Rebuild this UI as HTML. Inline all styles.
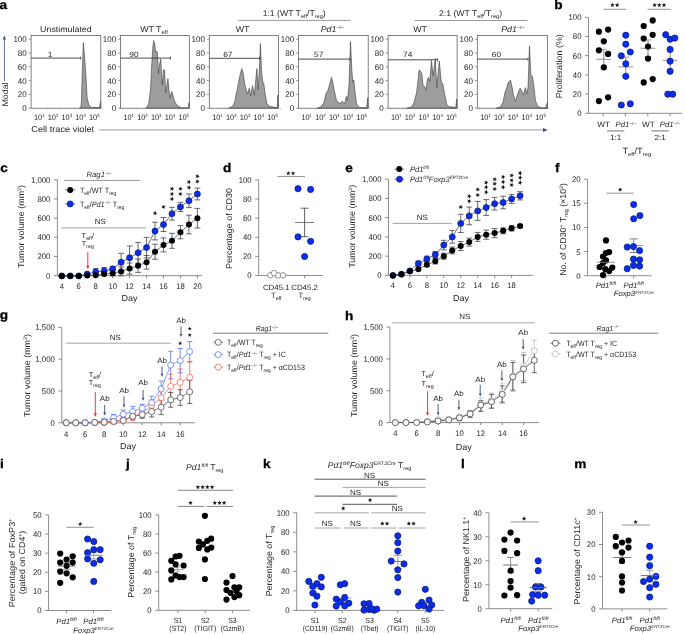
<!DOCTYPE html>
<html><head><meta charset="utf-8"><style>
html,body{margin:0;padding:0;background:#fff;width:685px;height:634px;overflow:hidden}
svg{display:block;will-change:transform}
text{font-family:"Liberation Sans", sans-serif;text-rendering:geometricPrecision}
</style></head><body>
<svg width="685" height="634" viewBox="0 0 685 634">
<text transform="translate(-0.40,9.00) scale(1.1,1)" x="0" y="0" font-size="12.4" fill="#000" font-weight="bold" stroke="#000" stroke-width="0.3">a</text>
<polygon points="79.50,108.10 80.80,107.70 81.40,102.60 82.40,69.80 83.30,42.70 84.60,57.20 85.90,76.10 87.10,97.60 88.80,105.10 91.50,107.40 99.60,107.60 100.60,101.50 100.80,108.20" fill="#9d9d9d" stroke="#3a3a3a" stroke-width="0.6" stroke-linejoin="round"/>
<rect x="31.10" y="35.4" width="69.70" height="72.80" fill="none" stroke="#5a5a5a" stroke-width="0.75"/>
<line x1="28.50" y1="108.20" x2="31.10" y2="108.20" stroke="#777" stroke-width="0.7"/>
<text transform="translate(26.80,108.20) scale(0.98,1)" x="0" y="2.95" font-size="8.2" text-anchor="end" fill="#262626" font-weight="normal" font-style="normal">0</text>
<line x1="28.50" y1="94.40" x2="31.10" y2="94.40" stroke="#777" stroke-width="0.7"/>
<text transform="translate(26.80,94.40) scale(0.98,1)" x="0" y="2.95" font-size="8.2" text-anchor="end" fill="#262626" font-weight="normal" font-style="normal">20</text>
<line x1="28.50" y1="80.60" x2="31.10" y2="80.60" stroke="#777" stroke-width="0.7"/>
<text transform="translate(26.80,80.60) scale(0.98,1)" x="0" y="2.95" font-size="8.2" text-anchor="end" fill="#262626" font-weight="normal" font-style="normal">40</text>
<line x1="28.50" y1="66.80" x2="31.10" y2="66.80" stroke="#777" stroke-width="0.7"/>
<text transform="translate(26.80,66.80) scale(0.98,1)" x="0" y="2.95" font-size="8.2" text-anchor="end" fill="#262626" font-weight="normal" font-style="normal">60</text>
<line x1="28.50" y1="53.00" x2="31.10" y2="53.00" stroke="#777" stroke-width="0.7"/>
<text transform="translate(26.80,53.00) scale(0.98,1)" x="0" y="2.95" font-size="8.2" text-anchor="end" fill="#262626" font-weight="normal" font-style="normal">80</text>
<line x1="28.50" y1="39.20" x2="31.10" y2="39.20" stroke="#777" stroke-width="0.7"/>
<text transform="translate(26.80,39.20) scale(0.98,1)" x="0" y="2.95" font-size="8.2" text-anchor="end" fill="#262626" font-weight="normal" font-style="normal">100</text>
<text transform="translate(34.00,117.00) scale(0.92,1)" x="0" y="2.88" font-size="8.0" text-anchor="start" fill="#262626" font-weight="normal" font-style="normal">10<tspan font-size="4.6" dy="-3.0">1</tspan></text>
<text transform="translate(47.75,117.00) scale(0.92,1)" x="0" y="2.88" font-size="8.0" text-anchor="start" fill="#262626" font-weight="normal" font-style="normal">10<tspan font-size="4.6" dy="-3.0">2</tspan></text>
<text transform="translate(61.50,117.00) scale(0.92,1)" x="0" y="2.88" font-size="8.0" text-anchor="start" fill="#262626" font-weight="normal" font-style="normal">10<tspan font-size="4.6" dy="-3.0">3</tspan></text>
<text transform="translate(75.25,117.00) scale(0.92,1)" x="0" y="2.88" font-size="8.0" text-anchor="start" fill="#262626" font-weight="normal" font-style="normal">10<tspan font-size="4.6" dy="-3.0">4</tspan></text>
<text transform="translate(89.00,117.00) scale(0.92,1)" x="0" y="2.88" font-size="8.0" text-anchor="start" fill="#262626" font-weight="normal" font-style="normal">10<tspan font-size="4.6" dy="-3.0">5</tspan></text>
<line x1="33.60" y1="108.20" x2="33.60" y2="109.40" stroke="#777" stroke-width="0.5"/>
<line x1="47.35" y1="108.20" x2="47.35" y2="109.40" stroke="#777" stroke-width="0.5"/>
<line x1="61.10" y1="108.20" x2="61.10" y2="109.40" stroke="#777" stroke-width="0.5"/>
<line x1="74.85" y1="108.20" x2="74.85" y2="109.40" stroke="#777" stroke-width="0.5"/>
<line x1="88.60" y1="108.20" x2="88.60" y2="109.40" stroke="#777" stroke-width="0.5"/>
<line x1="102.35" y1="108.20" x2="102.35" y2="109.40" stroke="#777" stroke-width="0.5"/>
<line x1="31.10" y1="58.10" x2="80.60" y2="58.10" stroke="#3a3a3a" stroke-width="0.9"/>
<line x1="80.60" y1="56.70" x2="80.60" y2="59.50" stroke="#3a3a3a" stroke-width="0.9"/>
<text transform="translate(50.00,54.00) scale(1.1,1)" x="0" y="2.74" font-size="7.6" text-anchor="middle" fill="#262626" font-weight="normal" font-style="normal">1</text>
<polygon points="145.50,108.20 147.00,107.60 148.90,102.70 150.60,88.80 151.80,63.60 152.70,48.40 153.70,40.60 154.90,44.60 155.60,52.20 156.50,50.90 157.40,52.20 158.40,73.70 159.70,63.60 160.70,59.10 161.60,73.70 162.40,85.00 163.50,69.90 164.50,69.90 165.70,92.60 167.90,78.70 169.10,91.30 170.00,98.30 171.70,91.30 172.90,95.10 174.20,100.20 176.10,104.00 178.60,106.50 181.10,107.80 188.50,107.90 189.10,102.50 189.30,108.20" fill="#9d9d9d" stroke="#3a3a3a" stroke-width="0.6" stroke-linejoin="round"/>
<rect x="120.50" y="35.4" width="68.80" height="72.80" fill="none" stroke="#5a5a5a" stroke-width="0.75"/>
<line x1="117.90" y1="108.20" x2="120.50" y2="108.20" stroke="#777" stroke-width="0.7"/>
<text transform="translate(116.20,108.20) scale(0.98,1)" x="0" y="2.95" font-size="8.2" text-anchor="end" fill="#262626" font-weight="normal" font-style="normal">0</text>
<line x1="117.90" y1="94.40" x2="120.50" y2="94.40" stroke="#777" stroke-width="0.7"/>
<text transform="translate(116.20,94.40) scale(0.98,1)" x="0" y="2.95" font-size="8.2" text-anchor="end" fill="#262626" font-weight="normal" font-style="normal">20</text>
<line x1="117.90" y1="80.60" x2="120.50" y2="80.60" stroke="#777" stroke-width="0.7"/>
<text transform="translate(116.20,80.60) scale(0.98,1)" x="0" y="2.95" font-size="8.2" text-anchor="end" fill="#262626" font-weight="normal" font-style="normal">40</text>
<line x1="117.90" y1="66.80" x2="120.50" y2="66.80" stroke="#777" stroke-width="0.7"/>
<text transform="translate(116.20,66.80) scale(0.98,1)" x="0" y="2.95" font-size="8.2" text-anchor="end" fill="#262626" font-weight="normal" font-style="normal">60</text>
<line x1="117.90" y1="53.00" x2="120.50" y2="53.00" stroke="#777" stroke-width="0.7"/>
<text transform="translate(116.20,53.00) scale(0.98,1)" x="0" y="2.95" font-size="8.2" text-anchor="end" fill="#262626" font-weight="normal" font-style="normal">80</text>
<line x1="117.90" y1="39.20" x2="120.50" y2="39.20" stroke="#777" stroke-width="0.7"/>
<text transform="translate(116.20,39.20) scale(0.98,1)" x="0" y="2.95" font-size="8.2" text-anchor="end" fill="#262626" font-weight="normal" font-style="normal">100</text>
<text transform="translate(123.40,117.00) scale(0.92,1)" x="0" y="2.88" font-size="8.0" text-anchor="start" fill="#262626" font-weight="normal" font-style="normal">10<tspan font-size="4.6" dy="-3.0">1</tspan></text>
<text transform="translate(137.15,117.00) scale(0.92,1)" x="0" y="2.88" font-size="8.0" text-anchor="start" fill="#262626" font-weight="normal" font-style="normal">10<tspan font-size="4.6" dy="-3.0">2</tspan></text>
<text transform="translate(150.90,117.00) scale(0.92,1)" x="0" y="2.88" font-size="8.0" text-anchor="start" fill="#262626" font-weight="normal" font-style="normal">10<tspan font-size="4.6" dy="-3.0">3</tspan></text>
<text transform="translate(164.65,117.00) scale(0.92,1)" x="0" y="2.88" font-size="8.0" text-anchor="start" fill="#262626" font-weight="normal" font-style="normal">10<tspan font-size="4.6" dy="-3.0">4</tspan></text>
<text transform="translate(178.40,117.00) scale(0.92,1)" x="0" y="2.88" font-size="8.0" text-anchor="start" fill="#262626" font-weight="normal" font-style="normal">10<tspan font-size="4.6" dy="-3.0">5</tspan></text>
<line x1="123.00" y1="108.20" x2="123.00" y2="109.40" stroke="#777" stroke-width="0.5"/>
<line x1="136.75" y1="108.20" x2="136.75" y2="109.40" stroke="#777" stroke-width="0.5"/>
<line x1="150.50" y1="108.20" x2="150.50" y2="109.40" stroke="#777" stroke-width="0.5"/>
<line x1="164.25" y1="108.20" x2="164.25" y2="109.40" stroke="#777" stroke-width="0.5"/>
<line x1="178.00" y1="108.20" x2="178.00" y2="109.40" stroke="#777" stroke-width="0.5"/>
<line x1="191.75" y1="108.20" x2="191.75" y2="109.40" stroke="#777" stroke-width="0.5"/>
<line x1="120.50" y1="58.10" x2="170.40" y2="58.10" stroke="#3a3a3a" stroke-width="0.9"/>
<line x1="170.40" y1="56.70" x2="170.40" y2="59.50" stroke="#3a3a3a" stroke-width="0.9"/>
<text transform="translate(134.00,54.10) scale(1.1,1)" x="0" y="2.74" font-size="7.6" text-anchor="middle" fill="#262626" font-weight="normal" font-style="normal">90</text>
<polygon points="228.50,108.20 229.70,107.80 232.90,105.90 234.80,101.40 237.30,88.80 239.80,76.20 241.70,68.60 243.00,72.40 244.90,85.00 247.40,93.90 249.30,88.20 250.60,95.80 252.50,85.70 254.30,95.10 256.90,68.60 258.10,90.10 259.40,69.90 260.40,43.40 261.50,69.90 262.60,81.20 263.80,83.80 265.30,95.10 267.00,104.00 270.10,106.50 273.90,107.10 277.10,107.80 277.90,95.10 278.40,108.20" fill="#9d9d9d" stroke="#3a3a3a" stroke-width="0.6" stroke-linejoin="round"/>
<rect x="209.30" y="35.4" width="69.10" height="72.80" fill="none" stroke="#5a5a5a" stroke-width="0.75"/>
<line x1="206.70" y1="108.20" x2="209.30" y2="108.20" stroke="#777" stroke-width="0.7"/>
<text transform="translate(205.00,108.20) scale(0.98,1)" x="0" y="2.95" font-size="8.2" text-anchor="end" fill="#262626" font-weight="normal" font-style="normal">0</text>
<line x1="206.70" y1="94.40" x2="209.30" y2="94.40" stroke="#777" stroke-width="0.7"/>
<text transform="translate(205.00,94.40) scale(0.98,1)" x="0" y="2.95" font-size="8.2" text-anchor="end" fill="#262626" font-weight="normal" font-style="normal">20</text>
<line x1="206.70" y1="80.60" x2="209.30" y2="80.60" stroke="#777" stroke-width="0.7"/>
<text transform="translate(205.00,80.60) scale(0.98,1)" x="0" y="2.95" font-size="8.2" text-anchor="end" fill="#262626" font-weight="normal" font-style="normal">40</text>
<line x1="206.70" y1="66.80" x2="209.30" y2="66.80" stroke="#777" stroke-width="0.7"/>
<text transform="translate(205.00,66.80) scale(0.98,1)" x="0" y="2.95" font-size="8.2" text-anchor="end" fill="#262626" font-weight="normal" font-style="normal">60</text>
<line x1="206.70" y1="53.00" x2="209.30" y2="53.00" stroke="#777" stroke-width="0.7"/>
<text transform="translate(205.00,53.00) scale(0.98,1)" x="0" y="2.95" font-size="8.2" text-anchor="end" fill="#262626" font-weight="normal" font-style="normal">80</text>
<line x1="206.70" y1="39.20" x2="209.30" y2="39.20" stroke="#777" stroke-width="0.7"/>
<text transform="translate(205.00,39.20) scale(0.98,1)" x="0" y="2.95" font-size="8.2" text-anchor="end" fill="#262626" font-weight="normal" font-style="normal">100</text>
<text transform="translate(212.20,117.00) scale(0.92,1)" x="0" y="2.88" font-size="8.0" text-anchor="start" fill="#262626" font-weight="normal" font-style="normal">10<tspan font-size="4.6" dy="-3.0">1</tspan></text>
<text transform="translate(225.95,117.00) scale(0.92,1)" x="0" y="2.88" font-size="8.0" text-anchor="start" fill="#262626" font-weight="normal" font-style="normal">10<tspan font-size="4.6" dy="-3.0">2</tspan></text>
<text transform="translate(239.70,117.00) scale(0.92,1)" x="0" y="2.88" font-size="8.0" text-anchor="start" fill="#262626" font-weight="normal" font-style="normal">10<tspan font-size="4.6" dy="-3.0">3</tspan></text>
<text transform="translate(253.45,117.00) scale(0.92,1)" x="0" y="2.88" font-size="8.0" text-anchor="start" fill="#262626" font-weight="normal" font-style="normal">10<tspan font-size="4.6" dy="-3.0">4</tspan></text>
<text transform="translate(267.20,117.00) scale(0.92,1)" x="0" y="2.88" font-size="8.0" text-anchor="start" fill="#262626" font-weight="normal" font-style="normal">10<tspan font-size="4.6" dy="-3.0">5</tspan></text>
<line x1="211.80" y1="108.20" x2="211.80" y2="109.40" stroke="#777" stroke-width="0.5"/>
<line x1="225.55" y1="108.20" x2="225.55" y2="109.40" stroke="#777" stroke-width="0.5"/>
<line x1="239.30" y1="108.20" x2="239.30" y2="109.40" stroke="#777" stroke-width="0.5"/>
<line x1="253.05" y1="108.20" x2="253.05" y2="109.40" stroke="#777" stroke-width="0.5"/>
<line x1="266.80" y1="108.20" x2="266.80" y2="109.40" stroke="#777" stroke-width="0.5"/>
<line x1="280.55" y1="108.20" x2="280.55" y2="109.40" stroke="#777" stroke-width="0.5"/>
<line x1="209.30" y1="58.30" x2="259.80" y2="58.30" stroke="#3a3a3a" stroke-width="0.9"/>
<line x1="259.80" y1="56.90" x2="259.80" y2="59.70" stroke="#3a3a3a" stroke-width="0.9"/>
<text transform="translate(227.80,54.30) scale(1.1,1)" x="0" y="2.74" font-size="7.6" text-anchor="middle" fill="#262626" font-weight="normal" font-style="normal">67</text>
<polygon points="317.00,108.20 318.10,108.00 321.30,106.50 323.80,102.70 326.30,92.60 327.80,90.70 329.50,85.00 331.40,77.50 332.60,81.20 333.90,88.80 336.40,100.20 339.60,104.00 342.10,101.20 344.60,104.00 346.30,96.40 347.50,100.20 349.00,85.00 350.50,41.50 351.80,69.90 352.80,82.50 353.80,80.00 355.10,92.60 356.60,104.00 359.10,107.50 366.70,107.80 367.80,97.70 368.20,108.20" fill="#9d9d9d" stroke="#3a3a3a" stroke-width="0.6" stroke-linejoin="round"/>
<rect x="298.50" y="35.4" width="69.70" height="72.80" fill="none" stroke="#5a5a5a" stroke-width="0.75"/>
<line x1="295.90" y1="108.20" x2="298.50" y2="108.20" stroke="#777" stroke-width="0.7"/>
<text transform="translate(294.20,108.20) scale(0.98,1)" x="0" y="2.95" font-size="8.2" text-anchor="end" fill="#262626" font-weight="normal" font-style="normal">0</text>
<line x1="295.90" y1="94.40" x2="298.50" y2="94.40" stroke="#777" stroke-width="0.7"/>
<text transform="translate(294.20,94.40) scale(0.98,1)" x="0" y="2.95" font-size="8.2" text-anchor="end" fill="#262626" font-weight="normal" font-style="normal">20</text>
<line x1="295.90" y1="80.60" x2="298.50" y2="80.60" stroke="#777" stroke-width="0.7"/>
<text transform="translate(294.20,80.60) scale(0.98,1)" x="0" y="2.95" font-size="8.2" text-anchor="end" fill="#262626" font-weight="normal" font-style="normal">40</text>
<line x1="295.90" y1="66.80" x2="298.50" y2="66.80" stroke="#777" stroke-width="0.7"/>
<text transform="translate(294.20,66.80) scale(0.98,1)" x="0" y="2.95" font-size="8.2" text-anchor="end" fill="#262626" font-weight="normal" font-style="normal">60</text>
<line x1="295.90" y1="53.00" x2="298.50" y2="53.00" stroke="#777" stroke-width="0.7"/>
<text transform="translate(294.20,53.00) scale(0.98,1)" x="0" y="2.95" font-size="8.2" text-anchor="end" fill="#262626" font-weight="normal" font-style="normal">80</text>
<line x1="295.90" y1="39.20" x2="298.50" y2="39.20" stroke="#777" stroke-width="0.7"/>
<text transform="translate(294.20,39.20) scale(0.98,1)" x="0" y="2.95" font-size="8.2" text-anchor="end" fill="#262626" font-weight="normal" font-style="normal">100</text>
<text transform="translate(301.40,117.00) scale(0.92,1)" x="0" y="2.88" font-size="8.0" text-anchor="start" fill="#262626" font-weight="normal" font-style="normal">10<tspan font-size="4.6" dy="-3.0">1</tspan></text>
<text transform="translate(315.15,117.00) scale(0.92,1)" x="0" y="2.88" font-size="8.0" text-anchor="start" fill="#262626" font-weight="normal" font-style="normal">10<tspan font-size="4.6" dy="-3.0">2</tspan></text>
<text transform="translate(328.90,117.00) scale(0.92,1)" x="0" y="2.88" font-size="8.0" text-anchor="start" fill="#262626" font-weight="normal" font-style="normal">10<tspan font-size="4.6" dy="-3.0">3</tspan></text>
<text transform="translate(342.65,117.00) scale(0.92,1)" x="0" y="2.88" font-size="8.0" text-anchor="start" fill="#262626" font-weight="normal" font-style="normal">10<tspan font-size="4.6" dy="-3.0">4</tspan></text>
<text transform="translate(356.40,117.00) scale(0.92,1)" x="0" y="2.88" font-size="8.0" text-anchor="start" fill="#262626" font-weight="normal" font-style="normal">10<tspan font-size="4.6" dy="-3.0">5</tspan></text>
<line x1="301.00" y1="108.20" x2="301.00" y2="109.40" stroke="#777" stroke-width="0.5"/>
<line x1="314.75" y1="108.20" x2="314.75" y2="109.40" stroke="#777" stroke-width="0.5"/>
<line x1="328.50" y1="108.20" x2="328.50" y2="109.40" stroke="#777" stroke-width="0.5"/>
<line x1="342.25" y1="108.20" x2="342.25" y2="109.40" stroke="#777" stroke-width="0.5"/>
<line x1="356.00" y1="108.20" x2="356.00" y2="109.40" stroke="#777" stroke-width="0.5"/>
<line x1="369.75" y1="108.20" x2="369.75" y2="109.40" stroke="#777" stroke-width="0.5"/>
<line x1="298.50" y1="59.10" x2="350.00" y2="59.10" stroke="#3a3a3a" stroke-width="0.9"/>
<line x1="350.00" y1="57.70" x2="350.00" y2="60.50" stroke="#3a3a3a" stroke-width="0.9"/>
<text transform="translate(318.70,54.70) scale(1.1,1)" x="0" y="2.74" font-size="7.6" text-anchor="middle" fill="#262626" font-weight="normal" font-style="normal">57</text>
<polygon points="406.50,108.20 407.70,108.00 411.50,107.10 414.00,102.70 416.60,92.60 418.10,80.00 419.10,69.90 420.40,71.10 421.90,73.70 422.90,85.00 424.40,86.30 426.00,89.90 427.30,80.00 428.60,77.50 429.80,81.20 431.50,60.40 433.00,76.20 435.30,58.50 436.80,87.60 439.30,61.00 441.20,81.20 442.80,83.80 444.30,92.60 446.90,105.20 449.40,106.70 453.20,107.10 455.70,107.80 456.80,98.90 457.10,108.20" fill="#9d9d9d" stroke="#3a3a3a" stroke-width="0.6" stroke-linejoin="round"/>
<rect x="388.10" y="35.4" width="69.00" height="72.80" fill="none" stroke="#5a5a5a" stroke-width="0.75"/>
<line x1="385.50" y1="108.20" x2="388.10" y2="108.20" stroke="#777" stroke-width="0.7"/>
<text transform="translate(383.80,108.20) scale(0.98,1)" x="0" y="2.95" font-size="8.2" text-anchor="end" fill="#262626" font-weight="normal" font-style="normal">0</text>
<line x1="385.50" y1="94.40" x2="388.10" y2="94.40" stroke="#777" stroke-width="0.7"/>
<text transform="translate(383.80,94.40) scale(0.98,1)" x="0" y="2.95" font-size="8.2" text-anchor="end" fill="#262626" font-weight="normal" font-style="normal">20</text>
<line x1="385.50" y1="80.60" x2="388.10" y2="80.60" stroke="#777" stroke-width="0.7"/>
<text transform="translate(383.80,80.60) scale(0.98,1)" x="0" y="2.95" font-size="8.2" text-anchor="end" fill="#262626" font-weight="normal" font-style="normal">40</text>
<line x1="385.50" y1="66.80" x2="388.10" y2="66.80" stroke="#777" stroke-width="0.7"/>
<text transform="translate(383.80,66.80) scale(0.98,1)" x="0" y="2.95" font-size="8.2" text-anchor="end" fill="#262626" font-weight="normal" font-style="normal">60</text>
<line x1="385.50" y1="53.00" x2="388.10" y2="53.00" stroke="#777" stroke-width="0.7"/>
<text transform="translate(383.80,53.00) scale(0.98,1)" x="0" y="2.95" font-size="8.2" text-anchor="end" fill="#262626" font-weight="normal" font-style="normal">80</text>
<line x1="385.50" y1="39.20" x2="388.10" y2="39.20" stroke="#777" stroke-width="0.7"/>
<text transform="translate(383.80,39.20) scale(0.98,1)" x="0" y="2.95" font-size="8.2" text-anchor="end" fill="#262626" font-weight="normal" font-style="normal">100</text>
<text transform="translate(391.00,117.00) scale(0.92,1)" x="0" y="2.88" font-size="8.0" text-anchor="start" fill="#262626" font-weight="normal" font-style="normal">10<tspan font-size="4.6" dy="-3.0">1</tspan></text>
<text transform="translate(404.75,117.00) scale(0.92,1)" x="0" y="2.88" font-size="8.0" text-anchor="start" fill="#262626" font-weight="normal" font-style="normal">10<tspan font-size="4.6" dy="-3.0">2</tspan></text>
<text transform="translate(418.50,117.00) scale(0.92,1)" x="0" y="2.88" font-size="8.0" text-anchor="start" fill="#262626" font-weight="normal" font-style="normal">10<tspan font-size="4.6" dy="-3.0">3</tspan></text>
<text transform="translate(432.25,117.00) scale(0.92,1)" x="0" y="2.88" font-size="8.0" text-anchor="start" fill="#262626" font-weight="normal" font-style="normal">10<tspan font-size="4.6" dy="-3.0">4</tspan></text>
<text transform="translate(446.00,117.00) scale(0.92,1)" x="0" y="2.88" font-size="8.0" text-anchor="start" fill="#262626" font-weight="normal" font-style="normal">10<tspan font-size="4.6" dy="-3.0">5</tspan></text>
<line x1="390.60" y1="108.20" x2="390.60" y2="109.40" stroke="#777" stroke-width="0.5"/>
<line x1="404.35" y1="108.20" x2="404.35" y2="109.40" stroke="#777" stroke-width="0.5"/>
<line x1="418.10" y1="108.20" x2="418.10" y2="109.40" stroke="#777" stroke-width="0.5"/>
<line x1="431.85" y1="108.20" x2="431.85" y2="109.40" stroke="#777" stroke-width="0.5"/>
<line x1="445.60" y1="108.20" x2="445.60" y2="109.40" stroke="#777" stroke-width="0.5"/>
<line x1="459.35" y1="108.20" x2="459.35" y2="109.40" stroke="#777" stroke-width="0.5"/>
<line x1="388.10" y1="59.80" x2="437.40" y2="59.80" stroke="#3a3a3a" stroke-width="0.9"/>
<line x1="437.40" y1="58.40" x2="437.40" y2="61.20" stroke="#3a3a3a" stroke-width="0.9"/>
<text transform="translate(407.70,54.70) scale(1.1,1)" x="0" y="2.74" font-size="7.6" text-anchor="middle" fill="#262626" font-weight="normal" font-style="normal">74</text>
<polygon points="496.00,108.20 497.10,108.00 500.30,107.10 502.80,102.70 505.30,91.30 506.80,87.60 508.10,82.50 509.10,81.90 510.40,80.00 511.90,86.30 513.50,95.10 515.40,101.40 517.30,95.10 519.20,90.10 520.20,88.20 522.00,91.30 523.60,95.10 525.30,87.60 526.80,93.90 528.00,87.60 529.50,45.90 530.80,74.90 532.40,76.20 533.70,85.00 535.40,100.20 537.50,106.50 541.90,107.80 545.70,108.00 547.30,102.70 547.60,108.20" fill="#9d9d9d" stroke="#3a3a3a" stroke-width="0.6" stroke-linejoin="round"/>
<rect x="477.30" y="35.4" width="70.30" height="72.80" fill="none" stroke="#5a5a5a" stroke-width="0.75"/>
<line x1="474.70" y1="108.20" x2="477.30" y2="108.20" stroke="#777" stroke-width="0.7"/>
<text transform="translate(473.00,108.20) scale(0.98,1)" x="0" y="2.95" font-size="8.2" text-anchor="end" fill="#262626" font-weight="normal" font-style="normal">0</text>
<line x1="474.70" y1="94.40" x2="477.30" y2="94.40" stroke="#777" stroke-width="0.7"/>
<text transform="translate(473.00,94.40) scale(0.98,1)" x="0" y="2.95" font-size="8.2" text-anchor="end" fill="#262626" font-weight="normal" font-style="normal">20</text>
<line x1="474.70" y1="80.60" x2="477.30" y2="80.60" stroke="#777" stroke-width="0.7"/>
<text transform="translate(473.00,80.60) scale(0.98,1)" x="0" y="2.95" font-size="8.2" text-anchor="end" fill="#262626" font-weight="normal" font-style="normal">40</text>
<line x1="474.70" y1="66.80" x2="477.30" y2="66.80" stroke="#777" stroke-width="0.7"/>
<text transform="translate(473.00,66.80) scale(0.98,1)" x="0" y="2.95" font-size="8.2" text-anchor="end" fill="#262626" font-weight="normal" font-style="normal">60</text>
<line x1="474.70" y1="53.00" x2="477.30" y2="53.00" stroke="#777" stroke-width="0.7"/>
<text transform="translate(473.00,53.00) scale(0.98,1)" x="0" y="2.95" font-size="8.2" text-anchor="end" fill="#262626" font-weight="normal" font-style="normal">80</text>
<line x1="474.70" y1="39.20" x2="477.30" y2="39.20" stroke="#777" stroke-width="0.7"/>
<text transform="translate(473.00,39.20) scale(0.98,1)" x="0" y="2.95" font-size="8.2" text-anchor="end" fill="#262626" font-weight="normal" font-style="normal">100</text>
<text transform="translate(480.20,117.00) scale(0.92,1)" x="0" y="2.88" font-size="8.0" text-anchor="start" fill="#262626" font-weight="normal" font-style="normal">10<tspan font-size="4.6" dy="-3.0">1</tspan></text>
<text transform="translate(493.95,117.00) scale(0.92,1)" x="0" y="2.88" font-size="8.0" text-anchor="start" fill="#262626" font-weight="normal" font-style="normal">10<tspan font-size="4.6" dy="-3.0">2</tspan></text>
<text transform="translate(507.70,117.00) scale(0.92,1)" x="0" y="2.88" font-size="8.0" text-anchor="start" fill="#262626" font-weight="normal" font-style="normal">10<tspan font-size="4.6" dy="-3.0">3</tspan></text>
<text transform="translate(521.45,117.00) scale(0.92,1)" x="0" y="2.88" font-size="8.0" text-anchor="start" fill="#262626" font-weight="normal" font-style="normal">10<tspan font-size="4.6" dy="-3.0">4</tspan></text>
<text transform="translate(535.20,117.00) scale(0.92,1)" x="0" y="2.88" font-size="8.0" text-anchor="start" fill="#262626" font-weight="normal" font-style="normal">10<tspan font-size="4.6" dy="-3.0">5</tspan></text>
<line x1="479.80" y1="108.20" x2="479.80" y2="109.40" stroke="#777" stroke-width="0.5"/>
<line x1="493.55" y1="108.20" x2="493.55" y2="109.40" stroke="#777" stroke-width="0.5"/>
<line x1="507.30" y1="108.20" x2="507.30" y2="109.40" stroke="#777" stroke-width="0.5"/>
<line x1="521.05" y1="108.20" x2="521.05" y2="109.40" stroke="#777" stroke-width="0.5"/>
<line x1="534.80" y1="108.20" x2="534.80" y2="109.40" stroke="#777" stroke-width="0.5"/>
<line x1="548.55" y1="108.20" x2="548.55" y2="109.40" stroke="#777" stroke-width="0.5"/>
<line x1="477.30" y1="59.10" x2="528.00" y2="59.10" stroke="#3a3a3a" stroke-width="0.9"/>
<line x1="528.00" y1="57.70" x2="528.00" y2="60.50" stroke="#3a3a3a" stroke-width="0.9"/>
<text transform="translate(496.50,54.70) scale(1.1,1)" x="0" y="2.74" font-size="7.6" text-anchor="middle" fill="#262626" font-weight="normal" font-style="normal">60</text>
<text transform="translate(65.90,28.60) scale(1.08,1)" x="0" y="2.95" font-size="8.2" text-anchor="middle" fill="#262626" font-weight="normal" font-style="normal">Unstimulated</text>
<text transform="translate(154.00,28.60) scale(1.08,1)" x="0" y="2.95" font-size="8.2" text-anchor="middle" fill="#262626" font-weight="normal" font-style="normal">WT T<tspan font-size="5.3" dy="2.0">eff</tspan></text>
<text transform="translate(242.50,28.60) scale(1.08,1)" x="0" y="2.95" font-size="8.2" text-anchor="middle" fill="#262626" font-weight="normal" font-style="normal">WT</text>
<text transform="translate(332.50,28.60) scale(1.08,1)" x="0" y="2.95" font-size="8.2" text-anchor="middle" fill="#262626" font-weight="normal" font-style="normal"><tspan font-style="italic">Pd1</tspan><tspan font-size="5" dy="-2.8">−/−</tspan></text>
<text transform="translate(420.00,28.60) scale(1.08,1)" x="0" y="2.95" font-size="8.2" text-anchor="middle" fill="#262626" font-weight="normal" font-style="normal">WT</text>
<text transform="translate(513.00,28.60) scale(1.08,1)" x="0" y="2.95" font-size="8.2" text-anchor="middle" fill="#262626" font-weight="normal" font-style="normal"><tspan font-style="italic">Pd1</tspan><tspan font-size="5" dy="-2.8">−/−</tspan></text>
<text transform="translate(294.20,12.80) scale(1.06,1)" x="0" y="2.95" font-size="8.2" text-anchor="middle" fill="#262626" font-weight="normal" font-style="normal">1:1 (WT T<tspan font-size="5.3" dy="2.0">eff</tspan><tspan dy="-2.0">/T</tspan><tspan font-size="5.3" dy="2.0">reg</tspan><tspan dy="-2.0">)</tspan></text>
<text transform="translate(470.50,12.80) scale(1.06,1)" x="0" y="2.95" font-size="8.2" text-anchor="middle" fill="#262626" font-weight="normal" font-style="normal">2:1 (WT T<tspan font-size="5.3" dy="2.0">eff</tspan><tspan dy="-2.0">/T</tspan><tspan font-size="5.3" dy="2.0">reg</tspan><tspan dy="-2.0">)</tspan></text>
<line x1="238.30" y1="20.40" x2="350.70" y2="20.40" stroke="#9a9a9a" stroke-width="1.0"/>
<line x1="414.50" y1="20.50" x2="527.30" y2="20.50" stroke="#9a9a9a" stroke-width="1.0"/>
<line x1="4.40" y1="81.00" x2="4.40" y2="38.50" stroke="#4a5e80" stroke-width="0.9"/>
<polygon points="2.9,39.5 5.9,39.5 4.4,35.3" fill="#3a4e70"/>
<text transform="translate(5.20,94.50) rotate(-90) scale(1.06,1)" x="0" y="3.02" font-size="8.4" text-anchor="middle" fill="#262626" font-weight="normal" font-style="normal">Modal</text>
<text transform="translate(31.30,129.20) scale(1.07,1)" x="0" y="3.10" font-size="8.6" text-anchor="start" fill="#262626" font-weight="normal" font-style="normal">Cell trace violet</text>
<line x1="99.30" y1="129.80" x2="544.00" y2="129.80" stroke="#a8b2c2" stroke-width="1.2"/>
<polygon points="543.0,127.9 543.0,131.9 547.6,129.9" fill="#3a4e70"/>
<text transform="translate(554.20,9.10) scale(1.1,1)" x="0" y="0" font-size="12.4" fill="#000" font-weight="bold" stroke="#000" stroke-width="0.3">b</text>
<line x1="588.50" y1="17.30" x2="588.50" y2="113.30" stroke="#707070" stroke-width="0.8"/>
<line x1="585.00" y1="113.30" x2="588.50" y2="113.30" stroke="#707070" stroke-width="0.8"/>
<text transform="translate(581.50,113.30) scale(0.95,1)" x="0" y="2.95" font-size="8.2" text-anchor="end" fill="#262626" font-weight="normal" font-style="normal">0</text>
<line x1="585.00" y1="94.10" x2="588.50" y2="94.10" stroke="#707070" stroke-width="0.8"/>
<text transform="translate(581.50,94.10) scale(0.95,1)" x="0" y="2.95" font-size="8.2" text-anchor="end" fill="#262626" font-weight="normal" font-style="normal">20</text>
<line x1="585.00" y1="74.90" x2="588.50" y2="74.90" stroke="#707070" stroke-width="0.8"/>
<text transform="translate(581.50,74.90) scale(0.95,1)" x="0" y="2.95" font-size="8.2" text-anchor="end" fill="#262626" font-weight="normal" font-style="normal">40</text>
<line x1="585.00" y1="55.70" x2="588.50" y2="55.70" stroke="#707070" stroke-width="0.8"/>
<text transform="translate(581.50,55.70) scale(0.95,1)" x="0" y="2.95" font-size="8.2" text-anchor="end" fill="#262626" font-weight="normal" font-style="normal">60</text>
<line x1="585.00" y1="36.50" x2="588.50" y2="36.50" stroke="#707070" stroke-width="0.8"/>
<text transform="translate(581.50,36.50) scale(0.95,1)" x="0" y="2.95" font-size="8.2" text-anchor="end" fill="#262626" font-weight="normal" font-style="normal">80</text>
<line x1="585.00" y1="17.30" x2="588.50" y2="17.30" stroke="#707070" stroke-width="0.8"/>
<text transform="translate(581.50,17.30) scale(0.95,1)" x="0" y="2.95" font-size="8.2" text-anchor="end" fill="#262626" font-weight="normal" font-style="normal">100</text>
<line x1="588.50" y1="113.30" x2="682.20" y2="113.30" stroke="#707070" stroke-width="0.8"/>
<line x1="603.20" y1="113.30" x2="603.20" y2="116.30" stroke="#707070" stroke-width="0.8"/>
<line x1="625.50" y1="113.30" x2="625.50" y2="116.30" stroke="#707070" stroke-width="0.8"/>
<line x1="647.80" y1="113.30" x2="647.80" y2="116.30" stroke="#707070" stroke-width="0.8"/>
<line x1="670.10" y1="113.30" x2="670.10" y2="116.30" stroke="#707070" stroke-width="0.8"/>
<line x1="596.40" y1="59.30" x2="611.20" y2="59.30" stroke="#8a8a8a" stroke-width="0.9"/>
<line x1="603.80" y1="49.40" x2="603.80" y2="69.20" stroke="#555" stroke-width="0.7"/>
<line x1="600.50" y1="49.40" x2="607.10" y2="49.40" stroke="#8a8a8a" stroke-width="0.8"/>
<line x1="600.50" y1="69.20" x2="607.10" y2="69.20" stroke="#8a8a8a" stroke-width="0.8"/>
<line x1="618.40" y1="66.90" x2="633.20" y2="66.90" stroke="#8a8a8a" stroke-width="0.9"/>
<line x1="625.80" y1="57.20" x2="625.80" y2="76.60" stroke="#555" stroke-width="0.7"/>
<line x1="622.50" y1="57.20" x2="629.10" y2="57.20" stroke="#8a8a8a" stroke-width="0.8"/>
<line x1="622.50" y1="76.60" x2="629.10" y2="76.60" stroke="#8a8a8a" stroke-width="0.8"/>
<line x1="640.60" y1="48.20" x2="655.40" y2="48.20" stroke="#8a8a8a" stroke-width="0.9"/>
<line x1="648.00" y1="39.90" x2="648.00" y2="56.50" stroke="#555" stroke-width="0.7"/>
<line x1="644.70" y1="39.90" x2="651.30" y2="39.90" stroke="#8a8a8a" stroke-width="0.8"/>
<line x1="644.70" y1="56.50" x2="651.30" y2="56.50" stroke="#8a8a8a" stroke-width="0.8"/>
<line x1="662.70" y1="60.30" x2="677.50" y2="60.30" stroke="#8a8a8a" stroke-width="0.9"/>
<line x1="670.10" y1="51.30" x2="670.10" y2="69.30" stroke="#555" stroke-width="0.7"/>
<line x1="666.80" y1="51.30" x2="673.40" y2="51.30" stroke="#8a8a8a" stroke-width="0.8"/>
<line x1="666.80" y1="69.30" x2="673.40" y2="69.30" stroke="#8a8a8a" stroke-width="0.8"/>
<circle cx="598.90" cy="31.70" r="3.1" fill="#000"/>
<circle cx="608.10" cy="29.60" r="3.1" fill="#000"/>
<circle cx="603.80" cy="41.30" r="3.1" fill="#000"/>
<circle cx="598.90" cy="50.30" r="3.1" fill="#000"/>
<circle cx="608.10" cy="53.90" r="3.1" fill="#000"/>
<circle cx="603.80" cy="67.30" r="3.1" fill="#000"/>
<circle cx="598.90" cy="101.10" r="3.1" fill="#000"/>
<circle cx="608.10" cy="97.30" r="3.1" fill="#000"/>
<circle cx="643.70" cy="26.00" r="3.1" fill="#000"/>
<circle cx="652.70" cy="20.40" r="3.1" fill="#000"/>
<circle cx="643.70" cy="38.60" r="3.1" fill="#000"/>
<circle cx="652.70" cy="34.80" r="3.1" fill="#000"/>
<circle cx="648.00" cy="46.50" r="3.1" fill="#000"/>
<circle cx="648.00" cy="58.60" r="3.1" fill="#000"/>
<circle cx="643.70" cy="82.40" r="3.1" fill="#000"/>
<circle cx="652.70" cy="79.10" r="3.1" fill="#000"/>
<circle cx="625.80" cy="35.20" r="3.1" fill="#0a2df2" stroke="#0b1a6e" stroke-width="0.75"/>
<circle cx="625.80" cy="44.20" r="3.1" fill="#0a2df2" stroke="#0b1a6e" stroke-width="0.75"/>
<circle cx="630.30" cy="52.00" r="3.1" fill="#0a2df2" stroke="#0b1a6e" stroke-width="0.75"/>
<circle cx="621.30" cy="55.80" r="3.1" fill="#0a2df2" stroke="#0b1a6e" stroke-width="0.75"/>
<circle cx="625.80" cy="63.80" r="3.1" fill="#0a2df2" stroke="#0b1a6e" stroke-width="0.75"/>
<circle cx="625.80" cy="76.30" r="3.1" fill="#0a2df2" stroke="#0b1a6e" stroke-width="0.75"/>
<circle cx="621.30" cy="105.00" r="3.1" fill="#0a2df2" stroke="#0b1a6e" stroke-width="0.75"/>
<circle cx="630.30" cy="103.80" r="3.1" fill="#0a2df2" stroke="#0b1a6e" stroke-width="0.75"/>
<circle cx="665.70" cy="34.70" r="3.1" fill="#0a2df2" stroke="#0b1a6e" stroke-width="0.75"/>
<circle cx="670.10" cy="39.20" r="3.1" fill="#0a2df2" stroke="#0b1a6e" stroke-width="0.75"/>
<circle cx="674.80" cy="38.10" r="3.1" fill="#0a2df2" stroke="#0b1a6e" stroke-width="0.75"/>
<circle cx="670.10" cy="49.40" r="3.1" fill="#0a2df2" stroke="#0b1a6e" stroke-width="0.75"/>
<circle cx="670.10" cy="61.20" r="3.1" fill="#0a2df2" stroke="#0b1a6e" stroke-width="0.75"/>
<circle cx="670.10" cy="71.30" r="3.1" fill="#0a2df2" stroke="#0b1a6e" stroke-width="0.75"/>
<circle cx="667.80" cy="94.20" r="3.1" fill="#0a2df2" stroke="#0b1a6e" stroke-width="0.75"/>
<circle cx="672.70" cy="94.20" r="3.1" fill="#0a2df2" stroke="#0b1a6e" stroke-width="0.75"/>
<line x1="603.50" y1="9.30" x2="626.20" y2="9.30" stroke="#888" stroke-width="0.9"/>
<line x1="647.60" y1="9.30" x2="670.80" y2="9.30" stroke="#888" stroke-width="0.9"/>
<polygon points="612.45,2.75 613.06,4.26 614.68,4.37 613.43,5.42 613.83,7.00 612.45,6.13 611.07,7.00 611.47,5.42 610.22,4.37 611.84,4.26" fill="#1a1a1a"/>
<polygon points="617.15,2.75 617.76,4.26 619.38,4.37 618.13,5.42 618.53,7.00 617.15,6.13 615.77,7.00 616.17,5.42 614.92,4.37 616.54,4.26" fill="#1a1a1a"/>
<polygon points="654.60,2.75 655.21,4.26 656.83,4.37 655.58,5.42 655.98,7.00 654.60,6.13 653.22,7.00 653.62,5.42 652.37,4.37 653.99,4.26" fill="#1a1a1a"/>
<polygon points="659.30,2.75 659.91,4.26 661.53,4.37 660.28,5.42 660.68,7.00 659.30,6.13 657.92,7.00 658.32,5.42 657.07,4.37 658.69,4.26" fill="#1a1a1a"/>
<polygon points="664.00,2.75 664.61,4.26 666.23,4.37 664.98,5.42 665.38,7.00 664.00,6.13 662.62,7.00 663.02,5.42 661.77,4.37 663.39,4.26" fill="#1a1a1a"/>
<text transform="translate(603.70,124.70) scale(1.08,1)" x="0" y="2.74" font-size="7.6" text-anchor="middle" fill="#262626" font-weight="normal" font-style="normal">WT</text>
<text transform="translate(625.80,124.70) scale(1.02,1)" x="0" y="2.74" font-size="7.6" text-anchor="middle" fill="#262626" font-weight="normal" font-style="normal"><tspan font-style="italic">Pd1</tspan><tspan font-size="4.6" dy="-2.6">−/−</tspan></text>
<text transform="translate(648.30,124.70) scale(1.08,1)" x="0" y="2.74" font-size="7.6" text-anchor="middle" fill="#262626" font-weight="normal" font-style="normal">WT</text>
<text transform="translate(670.00,124.70) scale(1.02,1)" x="0" y="2.74" font-size="7.6" text-anchor="middle" fill="#262626" font-weight="normal" font-style="normal"><tspan font-style="italic">Pd1</tspan><tspan font-size="4.6" dy="-2.6">−/−</tspan></text>
<line x1="607.00" y1="130.90" x2="624.30" y2="130.90" stroke="#a8a8a8" stroke-width="1.6"/>
<line x1="651.30" y1="130.90" x2="668.70" y2="130.90" stroke="#a8a8a8" stroke-width="1.6"/>
<text transform="translate(615.60,137.40) scale(1.08,1)" x="0" y="2.74" font-size="7.6" text-anchor="middle" fill="#262626" font-weight="normal" font-style="normal">1:1</text>
<text transform="translate(660.10,137.40) scale(1.08,1)" x="0" y="2.74" font-size="7.6" text-anchor="middle" fill="#262626" font-weight="normal" font-style="normal">2:1</text>
<text transform="translate(636.80,150.60) scale(1.04,1)" x="0" y="3.24" font-size="9.0" text-anchor="middle" fill="#262626" font-weight="normal" font-style="normal">T<tspan font-size="5.6" dy="2.0">eff</tspan><tspan dy="-2.0">/T</tspan><tspan font-size="5.6" dy="2.0">reg</tspan></text>
<text transform="translate(559.30,66.20) rotate(-90) scale(1.04,1)" x="0" y="3.10" font-size="8.6" text-anchor="middle" fill="#262626" font-weight="normal" font-style="normal">Proliferation (%)</text>
<text transform="translate(0.20,172.00) scale(1.1,1)" x="0" y="0" font-size="12.4" fill="#000" font-weight="bold" stroke="#000" stroke-width="0.3">c</text>
<line x1="57.40" y1="179.80" x2="57.40" y2="275.70" stroke="#707070" stroke-width="0.8"/>
<line x1="53.90" y1="275.70" x2="57.40" y2="275.70" stroke="#707070" stroke-width="0.8"/>
<text transform="translate(50.40,275.70) scale(0.95,1)" x="0" y="2.95" font-size="8.2" text-anchor="end" fill="#262626" font-weight="normal" font-style="normal">0</text>
<line x1="53.90" y1="256.52" x2="57.40" y2="256.52" stroke="#707070" stroke-width="0.8"/>
<text transform="translate(50.40,256.52) scale(0.95,1)" x="0" y="2.95" font-size="8.2" text-anchor="end" fill="#262626" font-weight="normal" font-style="normal">200</text>
<line x1="53.90" y1="237.34" x2="57.40" y2="237.34" stroke="#707070" stroke-width="0.8"/>
<text transform="translate(50.40,237.34) scale(0.95,1)" x="0" y="2.95" font-size="8.2" text-anchor="end" fill="#262626" font-weight="normal" font-style="normal">400</text>
<line x1="53.90" y1="218.16" x2="57.40" y2="218.16" stroke="#707070" stroke-width="0.8"/>
<text transform="translate(50.40,218.16) scale(0.95,1)" x="0" y="2.95" font-size="8.2" text-anchor="end" fill="#262626" font-weight="normal" font-style="normal">600</text>
<line x1="53.90" y1="198.98" x2="57.40" y2="198.98" stroke="#707070" stroke-width="0.8"/>
<text transform="translate(50.40,198.98) scale(0.95,1)" x="0" y="2.95" font-size="8.2" text-anchor="end" fill="#262626" font-weight="normal" font-style="normal">800</text>
<line x1="53.90" y1="179.80" x2="57.40" y2="179.80" stroke="#707070" stroke-width="0.8"/>
<text transform="translate(50.40,179.80) scale(0.95,1)" x="0" y="2.95" font-size="8.2" text-anchor="end" fill="#262626" font-weight="normal" font-style="normal">1,000</text>
<line x1="57.40" y1="275.70" x2="202.10" y2="275.70" stroke="#707070" stroke-width="0.8"/>
<line x1="61.80" y1="275.70" x2="61.80" y2="278.30" stroke="#707070" stroke-width="0.8"/>
<text transform="translate(61.80,286.50) scale(0.95,1)" x="0" y="2.92" font-size="8.1" text-anchor="middle" fill="#262626" font-weight="normal" font-style="normal">4</text>
<line x1="78.75" y1="275.70" x2="78.75" y2="278.30" stroke="#707070" stroke-width="0.8"/>
<text transform="translate(78.75,286.50) scale(0.95,1)" x="0" y="2.92" font-size="8.1" text-anchor="middle" fill="#262626" font-weight="normal" font-style="normal">6</text>
<line x1="95.70" y1="275.70" x2="95.70" y2="278.30" stroke="#707070" stroke-width="0.8"/>
<text transform="translate(95.70,286.50) scale(0.95,1)" x="0" y="2.92" font-size="8.1" text-anchor="middle" fill="#262626" font-weight="normal" font-style="normal">8</text>
<line x1="112.65" y1="275.70" x2="112.65" y2="278.30" stroke="#707070" stroke-width="0.8"/>
<text transform="translate(112.65,286.50) scale(0.95,1)" x="0" y="2.92" font-size="8.1" text-anchor="middle" fill="#262626" font-weight="normal" font-style="normal">10</text>
<line x1="129.60" y1="275.70" x2="129.60" y2="278.30" stroke="#707070" stroke-width="0.8"/>
<text transform="translate(129.60,286.50) scale(0.95,1)" x="0" y="2.92" font-size="8.1" text-anchor="middle" fill="#262626" font-weight="normal" font-style="normal">12</text>
<line x1="146.55" y1="275.70" x2="146.55" y2="278.30" stroke="#707070" stroke-width="0.8"/>
<text transform="translate(146.55,286.50) scale(0.95,1)" x="0" y="2.92" font-size="8.1" text-anchor="middle" fill="#262626" font-weight="normal" font-style="normal">14</text>
<line x1="163.50" y1="275.70" x2="163.50" y2="278.30" stroke="#707070" stroke-width="0.8"/>
<text transform="translate(163.50,286.50) scale(0.95,1)" x="0" y="2.92" font-size="8.1" text-anchor="middle" fill="#262626" font-weight="normal" font-style="normal">16</text>
<line x1="180.45" y1="275.70" x2="180.45" y2="278.30" stroke="#707070" stroke-width="0.8"/>
<text transform="translate(180.45,286.50) scale(0.95,1)" x="0" y="2.92" font-size="8.1" text-anchor="middle" fill="#262626" font-weight="normal" font-style="normal">18</text>
<line x1="197.40" y1="275.70" x2="197.40" y2="278.30" stroke="#707070" stroke-width="0.8"/>
<text transform="translate(197.40,286.50) scale(0.95,1)" x="0" y="2.92" font-size="8.1" text-anchor="middle" fill="#262626" font-weight="normal" font-style="normal">20</text>
<text transform="translate(129.50,297.50) scale(1.05,1)" x="0" y="3.10" font-size="8.6" text-anchor="middle" fill="#262626" font-weight="normal" font-style="normal">Day</text>
<text transform="translate(21.00,226.50) rotate(-90) scale(1.04,1)" x="0" y="3.10" font-size="8.6" text-anchor="middle" fill="#262626" font-weight="normal" font-style="normal">Tumor volume (mm<tspan font-size="5" dy="-2.8">3</tspan><tspan dy="2.8">)</tspan></text>
<line x1="95.70" y1="268.50" x2="95.70" y2="275.50" stroke="#3a3a3a" stroke-width="0.75"/>
<line x1="92.80" y1="268.50" x2="98.60" y2="268.50" stroke="#3a3a3a" stroke-width="0.75"/>
<line x1="92.80" y1="275.50" x2="98.60" y2="275.50" stroke="#3a3a3a" stroke-width="0.75"/>
<line x1="104.17" y1="267.50" x2="104.17" y2="274.30" stroke="#3a3a3a" stroke-width="0.75"/>
<line x1="101.27" y1="267.50" x2="107.08" y2="267.50" stroke="#3a3a3a" stroke-width="0.75"/>
<line x1="101.27" y1="274.30" x2="107.08" y2="274.30" stroke="#3a3a3a" stroke-width="0.75"/>
<line x1="112.65" y1="266.20" x2="112.65" y2="272.00" stroke="#3a3a3a" stroke-width="0.75"/>
<line x1="109.75" y1="266.20" x2="115.55" y2="266.20" stroke="#3a3a3a" stroke-width="0.75"/>
<line x1="109.75" y1="272.00" x2="115.55" y2="272.00" stroke="#3a3a3a" stroke-width="0.75"/>
<line x1="121.12" y1="253.30" x2="121.12" y2="271.30" stroke="#3a3a3a" stroke-width="0.75"/>
<line x1="118.22" y1="253.30" x2="124.03" y2="253.30" stroke="#3a3a3a" stroke-width="0.75"/>
<line x1="118.22" y1="271.30" x2="124.03" y2="271.30" stroke="#3a3a3a" stroke-width="0.75"/>
<line x1="129.60" y1="246.00" x2="129.60" y2="269.60" stroke="#3a3a3a" stroke-width="0.75"/>
<line x1="126.70" y1="246.00" x2="132.50" y2="246.00" stroke="#3a3a3a" stroke-width="0.75"/>
<line x1="126.70" y1="269.60" x2="132.50" y2="269.60" stroke="#3a3a3a" stroke-width="0.75"/>
<line x1="138.07" y1="242.40" x2="138.07" y2="263.20" stroke="#3a3a3a" stroke-width="0.75"/>
<line x1="135.17" y1="242.40" x2="140.97" y2="242.40" stroke="#3a3a3a" stroke-width="0.75"/>
<line x1="135.17" y1="263.20" x2="140.97" y2="263.20" stroke="#3a3a3a" stroke-width="0.75"/>
<line x1="146.55" y1="237.40" x2="146.55" y2="257.80" stroke="#3a3a3a" stroke-width="0.75"/>
<line x1="143.65" y1="237.40" x2="149.45" y2="237.40" stroke="#3a3a3a" stroke-width="0.75"/>
<line x1="143.65" y1="257.80" x2="149.45" y2="257.80" stroke="#3a3a3a" stroke-width="0.75"/>
<line x1="155.02" y1="222.30" x2="155.02" y2="239.90" stroke="#3a3a3a" stroke-width="0.75"/>
<line x1="152.12" y1="222.30" x2="157.92" y2="222.30" stroke="#3a3a3a" stroke-width="0.75"/>
<line x1="152.12" y1="239.90" x2="157.92" y2="239.90" stroke="#3a3a3a" stroke-width="0.75"/>
<line x1="163.50" y1="217.50" x2="163.50" y2="231.50" stroke="#3a3a3a" stroke-width="0.75"/>
<line x1="160.60" y1="217.50" x2="166.40" y2="217.50" stroke="#3a3a3a" stroke-width="0.75"/>
<line x1="160.60" y1="231.50" x2="166.40" y2="231.50" stroke="#3a3a3a" stroke-width="0.75"/>
<line x1="171.97" y1="207.30" x2="171.97" y2="220.10" stroke="#3a3a3a" stroke-width="0.75"/>
<line x1="169.07" y1="207.30" x2="174.88" y2="207.30" stroke="#3a3a3a" stroke-width="0.75"/>
<line x1="169.07" y1="220.10" x2="174.88" y2="220.10" stroke="#3a3a3a" stroke-width="0.75"/>
<line x1="180.45" y1="202.30" x2="180.45" y2="211.50" stroke="#3a3a3a" stroke-width="0.75"/>
<line x1="177.55" y1="202.30" x2="183.35" y2="202.30" stroke="#3a3a3a" stroke-width="0.75"/>
<line x1="177.55" y1="211.50" x2="183.35" y2="211.50" stroke="#3a3a3a" stroke-width="0.75"/>
<line x1="188.93" y1="194.00" x2="188.93" y2="207.60" stroke="#3a3a3a" stroke-width="0.75"/>
<line x1="186.03" y1="194.00" x2="191.83" y2="194.00" stroke="#3a3a3a" stroke-width="0.75"/>
<line x1="186.03" y1="207.60" x2="191.83" y2="207.60" stroke="#3a3a3a" stroke-width="0.75"/>
<line x1="197.40" y1="188.10" x2="197.40" y2="199.90" stroke="#3a3a3a" stroke-width="0.75"/>
<line x1="194.50" y1="188.10" x2="200.30" y2="188.10" stroke="#3a3a3a" stroke-width="0.75"/>
<line x1="194.50" y1="199.90" x2="200.30" y2="199.90" stroke="#3a3a3a" stroke-width="0.75"/>
<line x1="112.65" y1="270.50" x2="112.65" y2="275.90" stroke="#3a3a3a" stroke-width="0.75"/>
<line x1="109.75" y1="270.50" x2="115.55" y2="270.50" stroke="#3a3a3a" stroke-width="0.75"/>
<line x1="109.75" y1="275.90" x2="115.55" y2="275.90" stroke="#3a3a3a" stroke-width="0.75"/>
<line x1="121.12" y1="267.00" x2="121.12" y2="275.80" stroke="#3a3a3a" stroke-width="0.75"/>
<line x1="118.22" y1="267.00" x2="124.03" y2="267.00" stroke="#3a3a3a" stroke-width="0.75"/>
<line x1="118.22" y1="275.80" x2="124.03" y2="275.80" stroke="#3a3a3a" stroke-width="0.75"/>
<line x1="129.60" y1="263.00" x2="129.60" y2="274.20" stroke="#3a3a3a" stroke-width="0.75"/>
<line x1="126.70" y1="263.00" x2="132.50" y2="263.00" stroke="#3a3a3a" stroke-width="0.75"/>
<line x1="126.70" y1="274.20" x2="132.50" y2="274.20" stroke="#3a3a3a" stroke-width="0.75"/>
<line x1="138.07" y1="259.00" x2="138.07" y2="272.40" stroke="#3a3a3a" stroke-width="0.75"/>
<line x1="135.17" y1="259.00" x2="140.97" y2="259.00" stroke="#3a3a3a" stroke-width="0.75"/>
<line x1="135.17" y1="272.40" x2="140.97" y2="272.40" stroke="#3a3a3a" stroke-width="0.75"/>
<line x1="146.55" y1="255.50" x2="146.55" y2="269.10" stroke="#3a3a3a" stroke-width="0.75"/>
<line x1="143.65" y1="255.50" x2="149.45" y2="255.50" stroke="#3a3a3a" stroke-width="0.75"/>
<line x1="143.65" y1="269.10" x2="149.45" y2="269.10" stroke="#3a3a3a" stroke-width="0.75"/>
<line x1="155.02" y1="244.20" x2="155.02" y2="259.20" stroke="#3a3a3a" stroke-width="0.75"/>
<line x1="152.12" y1="244.20" x2="157.92" y2="244.20" stroke="#3a3a3a" stroke-width="0.75"/>
<line x1="152.12" y1="259.20" x2="157.92" y2="259.20" stroke="#3a3a3a" stroke-width="0.75"/>
<line x1="163.50" y1="237.90" x2="163.50" y2="251.90" stroke="#3a3a3a" stroke-width="0.75"/>
<line x1="160.60" y1="237.90" x2="166.40" y2="237.90" stroke="#3a3a3a" stroke-width="0.75"/>
<line x1="160.60" y1="251.90" x2="166.40" y2="251.90" stroke="#3a3a3a" stroke-width="0.75"/>
<line x1="171.97" y1="233.30" x2="171.97" y2="248.30" stroke="#3a3a3a" stroke-width="0.75"/>
<line x1="169.07" y1="233.30" x2="174.88" y2="233.30" stroke="#3a3a3a" stroke-width="0.75"/>
<line x1="169.07" y1="248.30" x2="174.88" y2="248.30" stroke="#3a3a3a" stroke-width="0.75"/>
<line x1="180.45" y1="225.60" x2="180.45" y2="238.80" stroke="#3a3a3a" stroke-width="0.75"/>
<line x1="177.55" y1="225.60" x2="183.35" y2="225.60" stroke="#3a3a3a" stroke-width="0.75"/>
<line x1="177.55" y1="238.80" x2="183.35" y2="238.80" stroke="#3a3a3a" stroke-width="0.75"/>
<line x1="188.93" y1="215.20" x2="188.93" y2="233.80" stroke="#3a3a3a" stroke-width="0.75"/>
<line x1="186.03" y1="215.20" x2="191.83" y2="215.20" stroke="#3a3a3a" stroke-width="0.75"/>
<line x1="186.03" y1="233.80" x2="191.83" y2="233.80" stroke="#3a3a3a" stroke-width="0.75"/>
<line x1="197.40" y1="208.40" x2="197.40" y2="228.00" stroke="#3a3a3a" stroke-width="0.75"/>
<line x1="194.50" y1="208.40" x2="200.30" y2="208.40" stroke="#3a3a3a" stroke-width="0.75"/>
<line x1="194.50" y1="228.00" x2="200.30" y2="228.00" stroke="#3a3a3a" stroke-width="0.75"/>
<polyline points="61.80,275.90 70.27,275.90 78.75,275.90 87.22,274.10 95.70,272.00 104.17,270.90 112.65,269.10 121.12,262.30 129.60,257.80 138.07,252.80 146.55,247.60 155.02,231.10 163.50,224.50 171.97,213.70 180.45,206.90 188.93,200.80 197.40,194.00" fill="none" stroke="#333" stroke-width="0.7" stroke-linejoin="round"/>
<polyline points="61.80,275.90 70.27,275.90 78.75,275.90 87.22,275.40 95.70,275.20 104.17,274.10 112.65,273.20 121.12,271.40 129.60,268.60 138.07,265.70 146.55,262.30 155.02,251.70 163.50,244.90 171.97,240.80 180.45,232.20 188.93,224.50 197.40,218.20" fill="none" stroke="#333" stroke-width="0.7" stroke-linejoin="round"/>
<circle cx="61.80" cy="275.90" r="3.0" fill="#0a2df2" stroke="#0b1a6e" stroke-width="0.75"/>
<circle cx="70.27" cy="275.90" r="3.0" fill="#0a2df2" stroke="#0b1a6e" stroke-width="0.75"/>
<circle cx="78.75" cy="275.90" r="3.0" fill="#0a2df2" stroke="#0b1a6e" stroke-width="0.75"/>
<circle cx="87.22" cy="274.10" r="3.0" fill="#0a2df2" stroke="#0b1a6e" stroke-width="0.75"/>
<circle cx="95.70" cy="272.00" r="3.0" fill="#0a2df2" stroke="#0b1a6e" stroke-width="0.75"/>
<circle cx="104.17" cy="270.90" r="3.0" fill="#0a2df2" stroke="#0b1a6e" stroke-width="0.75"/>
<circle cx="112.65" cy="269.10" r="3.0" fill="#0a2df2" stroke="#0b1a6e" stroke-width="0.75"/>
<circle cx="121.12" cy="262.30" r="3.0" fill="#0a2df2" stroke="#0b1a6e" stroke-width="0.75"/>
<circle cx="129.60" cy="257.80" r="3.0" fill="#0a2df2" stroke="#0b1a6e" stroke-width="0.75"/>
<circle cx="138.07" cy="252.80" r="3.0" fill="#0a2df2" stroke="#0b1a6e" stroke-width="0.75"/>
<circle cx="146.55" cy="247.60" r="3.0" fill="#0a2df2" stroke="#0b1a6e" stroke-width="0.75"/>
<circle cx="155.02" cy="231.10" r="3.0" fill="#0a2df2" stroke="#0b1a6e" stroke-width="0.75"/>
<circle cx="163.50" cy="224.50" r="3.0" fill="#0a2df2" stroke="#0b1a6e" stroke-width="0.75"/>
<circle cx="171.97" cy="213.70" r="3.0" fill="#0a2df2" stroke="#0b1a6e" stroke-width="0.75"/>
<circle cx="180.45" cy="206.90" r="3.0" fill="#0a2df2" stroke="#0b1a6e" stroke-width="0.75"/>
<circle cx="188.93" cy="200.80" r="3.0" fill="#0a2df2" stroke="#0b1a6e" stroke-width="0.75"/>
<circle cx="197.40" cy="194.00" r="3.0" fill="#0a2df2" stroke="#0b1a6e" stroke-width="0.75"/>
<circle cx="61.80" cy="275.90" r="3.0" fill="#000"/>
<circle cx="70.27" cy="275.90" r="3.0" fill="#000"/>
<circle cx="78.75" cy="275.90" r="3.0" fill="#000"/>
<circle cx="87.22" cy="275.40" r="3.0" fill="#000"/>
<circle cx="95.70" cy="275.20" r="3.0" fill="#000"/>
<circle cx="104.17" cy="274.10" r="3.0" fill="#000"/>
<circle cx="112.65" cy="273.20" r="3.0" fill="#000"/>
<circle cx="121.12" cy="271.40" r="3.0" fill="#000"/>
<circle cx="129.60" cy="268.60" r="3.0" fill="#000"/>
<circle cx="138.07" cy="265.70" r="3.0" fill="#000"/>
<circle cx="146.55" cy="262.30" r="3.0" fill="#000"/>
<circle cx="155.02" cy="251.70" r="3.0" fill="#000"/>
<circle cx="163.50" cy="244.90" r="3.0" fill="#000"/>
<circle cx="171.97" cy="240.80" r="3.0" fill="#000"/>
<circle cx="180.45" cy="232.20" r="3.0" fill="#000"/>
<circle cx="188.93" cy="224.50" r="3.0" fill="#000"/>
<circle cx="197.40" cy="218.20" r="3.0" fill="#000"/>
<polygon points="157.42,213.20 155.88,213.82 155.77,215.48 154.70,214.20 153.08,214.61 153.97,213.20 153.08,211.79 154.70,212.20 155.77,210.92 155.88,212.58" fill="#1a1a1a"/>
<polygon points="165.90,206.90 164.35,207.52 164.24,209.18 163.17,207.90 161.56,208.31 162.44,206.90 161.56,205.49 163.17,205.90 164.24,204.62 164.35,206.28" fill="#1a1a1a"/>
<polygon points="174.38,188.80 172.83,189.42 172.72,191.08 171.65,189.80 170.03,190.21 170.92,188.80 170.03,187.39 171.65,187.80 172.72,186.52 172.83,188.18" fill="#1a1a1a"/>
<polygon points="174.38,194.00 172.83,194.62 172.72,196.28 171.65,195.00 170.03,195.41 170.92,194.00 170.03,192.59 171.65,193.00 172.72,191.72 172.83,193.38" fill="#1a1a1a"/>
<polygon points="174.38,198.90 172.83,199.52 172.72,201.18 171.65,199.90 170.03,200.31 170.92,198.90 170.03,197.49 171.65,197.90 172.72,196.62 172.83,198.28" fill="#1a1a1a"/>
<polygon points="182.85,188.80 181.30,189.42 181.19,191.08 180.12,189.80 178.51,190.21 179.39,188.80 178.51,187.39 180.12,187.80 181.19,186.52 181.30,188.18" fill="#1a1a1a"/>
<polygon points="182.85,194.00 181.30,194.62 181.19,196.28 180.12,195.00 178.51,195.41 179.39,194.00 178.51,192.59 180.12,193.00 181.19,191.72 181.30,193.38" fill="#1a1a1a"/>
<polygon points="191.33,182.00 189.78,182.62 189.67,184.28 188.60,183.00 186.98,183.41 187.87,182.00 186.98,180.59 188.60,181.00 189.67,179.72 189.78,181.38" fill="#1a1a1a"/>
<polygon points="191.33,187.60 189.78,188.22 189.67,189.88 188.60,188.60 186.98,189.01 187.87,187.60 186.98,186.19 188.60,186.60 189.67,185.32 189.78,186.98" fill="#1a1a1a"/>
<polygon points="199.80,176.30 198.25,176.92 198.14,178.58 197.07,177.30 195.46,177.71 196.34,176.30 195.46,174.89 197.07,175.30 198.14,174.02 198.25,175.68" fill="#1a1a1a"/>
<polygon points="199.80,181.50 198.25,182.12 198.14,183.78 197.07,182.50 195.46,182.91 196.34,181.50 195.46,180.09 197.07,180.50 198.14,179.22 198.25,180.88" fill="#1a1a1a"/>
<text transform="translate(99.10,174.50) scale(1.02,1)" x="0" y="2.74" font-size="7.6" text-anchor="middle" fill="#262626" font-weight="normal" font-style="normal"><tspan font-style="italic">Rag1</tspan><tspan font-size="4.6" dy="-2.6">−/−</tspan></text>
<line x1="64.10" y1="180.40" x2="139.90" y2="180.40" stroke="#888" stroke-width="0.9"/>
<line x1="65.20" y1="189.90" x2="75.40" y2="189.90" stroke="#333" stroke-width="0.7"/>
<circle cx="70.20" cy="189.90" r="3.0" fill="#000"/>
<line x1="65.20" y1="203.90" x2="75.40" y2="203.90" stroke="#333" stroke-width="0.7"/>
<circle cx="70.20" cy="203.90" r="3.0" fill="#0a2df2" stroke="#0b1a6e" stroke-width="0.75"/>
<text transform="translate(79.90,189.90) scale(0.93,1)" x="0" y="2.81" font-size="7.8" text-anchor="start" fill="#262626" font-weight="normal" font-style="normal">T<tspan font-size="5.3" dy="2.0">eff</tspan><tspan dy="-2.0">/</tspan>WT T<tspan font-size="5.3" dy="2.0">reg</tspan></text>
<text transform="translate(79.90,203.90) scale(0.93,1)" x="0" y="2.81" font-size="7.8" text-anchor="start" fill="#262626" font-weight="normal" font-style="normal">T<tspan font-size="5.3" dy="2.0">eff</tspan><tspan dy="-2.0">/</tspan><tspan font-style="italic">Pd1</tspan><tspan font-size="4.6" dy="-2.8">−/−</tspan><tspan dy="2.8"> </tspan>T<tspan font-size="5.3" dy="2.0">reg</tspan></text>
<text transform="translate(100.30,221.60) scale(1.05,1)" x="0" y="2.74" font-size="7.6" text-anchor="middle" fill="#262626" font-weight="normal" font-style="normal">NS</text>
<line x1="61.30" y1="227.90" x2="146.60" y2="227.90" stroke="#999" stroke-width="0.9"/>
<text transform="translate(87.80,235.20)" x="0" y="2.66" font-size="7.4" text-anchor="middle" fill="#262626" font-weight="normal" font-style="normal">T<tspan font-size="5.3" dy="2.0">eff</tspan><tspan dy="-2.0">/</tspan></text>
<text transform="translate(87.80,243.10)" x="0" y="2.66" font-size="7.4" text-anchor="middle" fill="#262626" font-weight="normal" font-style="normal">T<tspan font-size="5.3" dy="2.0">reg</tspan></text>
<line x1="87.80" y1="252.10" x2="87.80" y2="266.20" stroke="#e8262a" stroke-width="0.9"/>
<polygon points="86.20,265.70 89.40,265.70 87.80,269.10" fill="#e8262a"/>
<text transform="translate(223.00,171.70) scale(1.1,1)" x="0" y="0" font-size="12.4" fill="#000" font-weight="bold" stroke="#000" stroke-width="0.3">d</text>
<line x1="258.70" y1="179.90" x2="258.70" y2="275.50" stroke="#707070" stroke-width="0.8"/>
<line x1="255.20" y1="275.50" x2="258.70" y2="275.50" stroke="#707070" stroke-width="0.8"/>
<text transform="translate(251.70,275.50) scale(0.95,1)" x="0" y="2.95" font-size="8.2" text-anchor="end" fill="#262626" font-weight="normal" font-style="normal">0</text>
<line x1="255.20" y1="256.38" x2="258.70" y2="256.38" stroke="#707070" stroke-width="0.8"/>
<text transform="translate(251.70,256.38) scale(0.95,1)" x="0" y="2.95" font-size="8.2" text-anchor="end" fill="#262626" font-weight="normal" font-style="normal">20</text>
<line x1="255.20" y1="237.26" x2="258.70" y2="237.26" stroke="#707070" stroke-width="0.8"/>
<text transform="translate(251.70,237.26) scale(0.95,1)" x="0" y="2.95" font-size="8.2" text-anchor="end" fill="#262626" font-weight="normal" font-style="normal">40</text>
<line x1="255.20" y1="218.14" x2="258.70" y2="218.14" stroke="#707070" stroke-width="0.8"/>
<text transform="translate(251.70,218.14) scale(0.95,1)" x="0" y="2.95" font-size="8.2" text-anchor="end" fill="#262626" font-weight="normal" font-style="normal">60</text>
<line x1="255.20" y1="199.02" x2="258.70" y2="199.02" stroke="#707070" stroke-width="0.8"/>
<text transform="translate(251.70,199.02) scale(0.95,1)" x="0" y="2.95" font-size="8.2" text-anchor="end" fill="#262626" font-weight="normal" font-style="normal">80</text>
<line x1="255.20" y1="179.90" x2="258.70" y2="179.90" stroke="#707070" stroke-width="0.8"/>
<text transform="translate(251.70,179.90) scale(0.95,1)" x="0" y="2.95" font-size="8.2" text-anchor="end" fill="#262626" font-weight="normal" font-style="normal">100</text>
<line x1="258.70" y1="275.50" x2="322.70" y2="275.50" stroke="#707070" stroke-width="0.8"/>
<line x1="276.30" y1="275.50" x2="276.30" y2="278.30" stroke="#707070" stroke-width="0.8"/>
<line x1="304.60" y1="275.50" x2="304.60" y2="278.30" stroke="#707070" stroke-width="0.8"/>
<line x1="277.40" y1="176.60" x2="305.00" y2="176.60" stroke="#888" stroke-width="0.9"/>
<polygon points="288.35,170.95 288.96,172.46 290.58,172.57 289.33,173.62 289.73,175.20 288.35,174.33 286.97,175.20 287.37,173.62 286.12,172.57 287.74,172.46" fill="#1a1a1a"/>
<polygon points="293.05,170.95 293.66,172.46 295.28,172.57 294.03,173.62 294.43,175.20 293.05,174.33 291.67,175.20 292.07,173.62 290.82,172.57 292.44,172.46" fill="#1a1a1a"/>
<line x1="304.60" y1="208.20" x2="304.60" y2="236.70" stroke="#3a3a3a" stroke-width="0.8"/>
<line x1="300.70" y1="208.20" x2="308.50" y2="208.20" stroke="#3a3a3a" stroke-width="0.8"/>
<line x1="300.70" y1="236.70" x2="308.50" y2="236.70" stroke="#3a3a3a" stroke-width="0.8"/>
<line x1="295.10" y1="222.50" x2="313.90" y2="222.50" stroke="#555" stroke-width="0.8"/>
<circle cx="283.00" cy="275.30" r="2.8" fill="#fff" stroke="#555" stroke-width="0.6"/>
<circle cx="277.90" cy="275.30" r="2.8" fill="#fff" stroke="#555" stroke-width="0.6"/>
<circle cx="270.40" cy="275.30" r="2.8" fill="#fff" stroke="#555" stroke-width="0.6"/>
<circle cx="274.10" cy="273.10" r="2.8" fill="#fff" stroke="#555" stroke-width="0.6"/>
<circle cx="298.00" cy="188.70" r="3.1" fill="#0a2df2" stroke="#0b1a6e" stroke-width="0.75"/>
<circle cx="310.60" cy="189.40" r="3.1" fill="#0a2df2" stroke="#0b1a6e" stroke-width="0.75"/>
<circle cx="298.00" cy="236.90" r="3.1" fill="#0a2df2" stroke="#0b1a6e" stroke-width="0.75"/>
<circle cx="310.60" cy="241.30" r="3.1" fill="#0a2df2" stroke="#0b1a6e" stroke-width="0.75"/>
<circle cx="304.60" cy="256.50" r="3.1" fill="#0a2df2" stroke="#0b1a6e" stroke-width="0.75"/>
<text transform="translate(276.30,287.00) scale(1.04,1)" x="0" y="2.74" font-size="7.6" text-anchor="middle" fill="#262626" font-weight="normal" font-style="normal">CD45.1</text>
<text transform="translate(304.60,287.00) scale(1.04,1)" x="0" y="2.74" font-size="7.6" text-anchor="middle" fill="#262626" font-weight="normal" font-style="normal">CD45.2</text>
<text transform="translate(276.30,295.00)" x="0" y="2.74" font-size="7.6" text-anchor="middle" fill="#262626" font-weight="normal" font-style="normal">T<tspan font-size="5.3" dy="2.0">eff</tspan></text>
<text transform="translate(304.60,295.00)" x="0" y="2.74" font-size="7.6" text-anchor="middle" fill="#262626" font-weight="normal" font-style="normal">T<tspan font-size="5.3" dy="2.0">reg</tspan></text>
<text transform="translate(228.80,228.50) rotate(-90) scale(1.04,1)" x="0" y="3.10" font-size="8.6" text-anchor="middle" fill="#262626" font-weight="normal" font-style="normal">Percentage of CD30</text>
<text transform="translate(345.20,171.70) scale(1.1,1)" x="0" y="0" font-size="12.4" fill="#000" font-weight="bold" stroke="#000" stroke-width="0.3">e</text>
<line x1="388.50" y1="179.20" x2="388.50" y2="275.40" stroke="#707070" stroke-width="0.8"/>
<line x1="385.00" y1="275.40" x2="388.50" y2="275.40" stroke="#707070" stroke-width="0.8"/>
<text transform="translate(381.50,275.40) scale(0.95,1)" x="0" y="2.95" font-size="8.2" text-anchor="end" fill="#262626" font-weight="normal" font-style="normal">0</text>
<line x1="385.00" y1="256.16" x2="388.50" y2="256.16" stroke="#707070" stroke-width="0.8"/>
<text transform="translate(381.50,256.16) scale(0.95,1)" x="0" y="2.95" font-size="8.2" text-anchor="end" fill="#262626" font-weight="normal" font-style="normal">200</text>
<line x1="385.00" y1="236.92" x2="388.50" y2="236.92" stroke="#707070" stroke-width="0.8"/>
<text transform="translate(381.50,236.92) scale(0.95,1)" x="0" y="2.95" font-size="8.2" text-anchor="end" fill="#262626" font-weight="normal" font-style="normal">400</text>
<line x1="385.00" y1="217.68" x2="388.50" y2="217.68" stroke="#707070" stroke-width="0.8"/>
<text transform="translate(381.50,217.68) scale(0.95,1)" x="0" y="2.95" font-size="8.2" text-anchor="end" fill="#262626" font-weight="normal" font-style="normal">600</text>
<line x1="385.00" y1="198.44" x2="388.50" y2="198.44" stroke="#707070" stroke-width="0.8"/>
<text transform="translate(381.50,198.44) scale(0.95,1)" x="0" y="2.95" font-size="8.2" text-anchor="end" fill="#262626" font-weight="normal" font-style="normal">800</text>
<line x1="385.00" y1="179.20" x2="388.50" y2="179.20" stroke="#707070" stroke-width="0.8"/>
<text transform="translate(381.50,179.20) scale(0.95,1)" x="0" y="2.95" font-size="8.2" text-anchor="end" fill="#262626" font-weight="normal" font-style="normal">1,000</text>
<line x1="388.50" y1="275.40" x2="533.20" y2="275.40" stroke="#707070" stroke-width="0.8"/>
<line x1="392.90" y1="275.40" x2="392.90" y2="278.00" stroke="#707070" stroke-width="0.8"/>
<text transform="translate(392.90,284.80) scale(0.95,1)" x="0" y="2.92" font-size="8.1" text-anchor="middle" fill="#262626" font-weight="normal" font-style="normal">4</text>
<line x1="409.86" y1="275.40" x2="409.86" y2="278.00" stroke="#707070" stroke-width="0.8"/>
<text transform="translate(409.86,284.80) scale(0.95,1)" x="0" y="2.92" font-size="8.1" text-anchor="middle" fill="#262626" font-weight="normal" font-style="normal">6</text>
<line x1="426.82" y1="275.40" x2="426.82" y2="278.00" stroke="#707070" stroke-width="0.8"/>
<text transform="translate(426.82,284.80) scale(0.95,1)" x="0" y="2.92" font-size="8.1" text-anchor="middle" fill="#262626" font-weight="normal" font-style="normal">8</text>
<line x1="443.78" y1="275.40" x2="443.78" y2="278.00" stroke="#707070" stroke-width="0.8"/>
<text transform="translate(443.78,284.80) scale(0.95,1)" x="0" y="2.92" font-size="8.1" text-anchor="middle" fill="#262626" font-weight="normal" font-style="normal">10</text>
<line x1="460.74" y1="275.40" x2="460.74" y2="278.00" stroke="#707070" stroke-width="0.8"/>
<text transform="translate(460.74,284.80) scale(0.95,1)" x="0" y="2.92" font-size="8.1" text-anchor="middle" fill="#262626" font-weight="normal" font-style="normal">12</text>
<line x1="477.70" y1="275.40" x2="477.70" y2="278.00" stroke="#707070" stroke-width="0.8"/>
<text transform="translate(477.70,284.80) scale(0.95,1)" x="0" y="2.92" font-size="8.1" text-anchor="middle" fill="#262626" font-weight="normal" font-style="normal">14</text>
<line x1="494.66" y1="275.40" x2="494.66" y2="278.00" stroke="#707070" stroke-width="0.8"/>
<text transform="translate(494.66,284.80) scale(0.95,1)" x="0" y="2.92" font-size="8.1" text-anchor="middle" fill="#262626" font-weight="normal" font-style="normal">16</text>
<line x1="511.62" y1="275.40" x2="511.62" y2="278.00" stroke="#707070" stroke-width="0.8"/>
<text transform="translate(511.62,284.80) scale(0.95,1)" x="0" y="2.92" font-size="8.1" text-anchor="middle" fill="#262626" font-weight="normal" font-style="normal">18</text>
<text transform="translate(460.90,297.50) scale(1.05,1)" x="0" y="3.10" font-size="8.6" text-anchor="middle" fill="#262626" font-weight="normal" font-style="normal">Day</text>
<text transform="translate(352.10,226.30) rotate(-90) scale(1.04,1)" x="0" y="3.10" font-size="8.6" text-anchor="middle" fill="#262626" font-weight="normal" font-style="normal">Tumor volume (mm<tspan font-size="5" dy="-2.8">3</tspan><tspan dy="2.8">)</tspan></text>
<line x1="418.34" y1="261.15" x2="418.34" y2="266.05" stroke="#3a3a3a" stroke-width="0.75"/>
<line x1="415.44" y1="261.15" x2="421.24" y2="261.15" stroke="#3a3a3a" stroke-width="0.75"/>
<line x1="415.44" y1="266.05" x2="421.24" y2="266.05" stroke="#3a3a3a" stroke-width="0.75"/>
<line x1="426.82" y1="256.18" x2="426.82" y2="261.62" stroke="#3a3a3a" stroke-width="0.75"/>
<line x1="423.92" y1="256.18" x2="429.72" y2="256.18" stroke="#3a3a3a" stroke-width="0.75"/>
<line x1="423.92" y1="261.62" x2="429.72" y2="261.62" stroke="#3a3a3a" stroke-width="0.75"/>
<line x1="435.30" y1="251.65" x2="435.30" y2="257.55" stroke="#3a3a3a" stroke-width="0.75"/>
<line x1="432.40" y1="251.65" x2="438.20" y2="251.65" stroke="#3a3a3a" stroke-width="0.75"/>
<line x1="432.40" y1="257.55" x2="438.20" y2="257.55" stroke="#3a3a3a" stroke-width="0.75"/>
<line x1="443.78" y1="240.33" x2="443.78" y2="249.87" stroke="#3a3a3a" stroke-width="0.75"/>
<line x1="440.88" y1="240.33" x2="446.68" y2="240.33" stroke="#3a3a3a" stroke-width="0.75"/>
<line x1="440.88" y1="249.87" x2="446.68" y2="249.87" stroke="#3a3a3a" stroke-width="0.75"/>
<line x1="452.26" y1="230.60" x2="452.26" y2="243.20" stroke="#3a3a3a" stroke-width="0.75"/>
<line x1="449.36" y1="230.60" x2="455.16" y2="230.60" stroke="#3a3a3a" stroke-width="0.75"/>
<line x1="449.36" y1="243.20" x2="455.16" y2="243.20" stroke="#3a3a3a" stroke-width="0.75"/>
<line x1="460.74" y1="214.31" x2="460.74" y2="232.49" stroke="#3a3a3a" stroke-width="0.75"/>
<line x1="457.84" y1="214.31" x2="463.64" y2="214.31" stroke="#3a3a3a" stroke-width="0.75"/>
<line x1="457.84" y1="232.49" x2="463.64" y2="232.49" stroke="#3a3a3a" stroke-width="0.75"/>
<line x1="469.22" y1="207.07" x2="469.22" y2="224.73" stroke="#3a3a3a" stroke-width="0.75"/>
<line x1="466.32" y1="207.07" x2="472.12" y2="207.07" stroke="#3a3a3a" stroke-width="0.75"/>
<line x1="466.32" y1="224.73" x2="472.12" y2="224.73" stroke="#3a3a3a" stroke-width="0.75"/>
<line x1="477.70" y1="201.41" x2="477.70" y2="220.39" stroke="#3a3a3a" stroke-width="0.75"/>
<line x1="474.80" y1="201.41" x2="480.60" y2="201.41" stroke="#3a3a3a" stroke-width="0.75"/>
<line x1="474.80" y1="220.39" x2="480.60" y2="220.39" stroke="#3a3a3a" stroke-width="0.75"/>
<line x1="486.18" y1="199.60" x2="486.18" y2="215.40" stroke="#3a3a3a" stroke-width="0.75"/>
<line x1="483.28" y1="199.60" x2="489.08" y2="199.60" stroke="#3a3a3a" stroke-width="0.75"/>
<line x1="483.28" y1="215.40" x2="489.08" y2="215.40" stroke="#3a3a3a" stroke-width="0.75"/>
<line x1="494.66" y1="197.34" x2="494.66" y2="210.06" stroke="#3a3a3a" stroke-width="0.75"/>
<line x1="491.76" y1="197.34" x2="497.56" y2="197.34" stroke="#3a3a3a" stroke-width="0.75"/>
<line x1="491.76" y1="210.06" x2="497.56" y2="210.06" stroke="#3a3a3a" stroke-width="0.75"/>
<line x1="503.14" y1="196.21" x2="503.14" y2="208.79" stroke="#3a3a3a" stroke-width="0.75"/>
<line x1="500.24" y1="196.21" x2="506.04" y2="196.21" stroke="#3a3a3a" stroke-width="0.75"/>
<line x1="500.24" y1="208.79" x2="506.04" y2="208.79" stroke="#3a3a3a" stroke-width="0.75"/>
<line x1="511.62" y1="194.40" x2="511.62" y2="203.40" stroke="#3a3a3a" stroke-width="0.75"/>
<line x1="508.72" y1="194.40" x2="514.52" y2="194.40" stroke="#3a3a3a" stroke-width="0.75"/>
<line x1="508.72" y1="203.40" x2="514.52" y2="203.40" stroke="#3a3a3a" stroke-width="0.75"/>
<line x1="520.10" y1="191.68" x2="520.10" y2="199.92" stroke="#3a3a3a" stroke-width="0.75"/>
<line x1="517.20" y1="191.68" x2="523.00" y2="191.68" stroke="#3a3a3a" stroke-width="0.75"/>
<line x1="517.20" y1="199.92" x2="523.00" y2="199.92" stroke="#3a3a3a" stroke-width="0.75"/>
<line x1="426.82" y1="262.96" x2="426.82" y2="266.64" stroke="#3a3a3a" stroke-width="0.75"/>
<line x1="423.92" y1="262.96" x2="429.72" y2="262.96" stroke="#3a3a3a" stroke-width="0.75"/>
<line x1="423.92" y1="266.64" x2="429.72" y2="266.64" stroke="#3a3a3a" stroke-width="0.75"/>
<line x1="435.30" y1="258.44" x2="435.30" y2="263.96" stroke="#3a3a3a" stroke-width="0.75"/>
<line x1="432.40" y1="258.44" x2="438.20" y2="258.44" stroke="#3a3a3a" stroke-width="0.75"/>
<line x1="432.40" y1="263.96" x2="438.20" y2="263.96" stroke="#3a3a3a" stroke-width="0.75"/>
<line x1="443.78" y1="253.23" x2="443.78" y2="259.17" stroke="#3a3a3a" stroke-width="0.75"/>
<line x1="440.88" y1="253.23" x2="446.68" y2="253.23" stroke="#3a3a3a" stroke-width="0.75"/>
<line x1="440.88" y1="259.17" x2="446.68" y2="259.17" stroke="#3a3a3a" stroke-width="0.75"/>
<line x1="452.26" y1="247.12" x2="452.26" y2="253.88" stroke="#3a3a3a" stroke-width="0.75"/>
<line x1="449.36" y1="247.12" x2="455.16" y2="247.12" stroke="#3a3a3a" stroke-width="0.75"/>
<line x1="449.36" y1="253.88" x2="455.16" y2="253.88" stroke="#3a3a3a" stroke-width="0.75"/>
<line x1="460.74" y1="241.47" x2="460.74" y2="250.53" stroke="#3a3a3a" stroke-width="0.75"/>
<line x1="457.84" y1="241.47" x2="463.64" y2="241.47" stroke="#3a3a3a" stroke-width="0.75"/>
<line x1="457.84" y1="250.53" x2="463.64" y2="250.53" stroke="#3a3a3a" stroke-width="0.75"/>
<line x1="469.22" y1="238.07" x2="469.22" y2="246.13" stroke="#3a3a3a" stroke-width="0.75"/>
<line x1="466.32" y1="238.07" x2="472.12" y2="238.07" stroke="#3a3a3a" stroke-width="0.75"/>
<line x1="466.32" y1="246.13" x2="472.12" y2="246.13" stroke="#3a3a3a" stroke-width="0.75"/>
<line x1="477.70" y1="232.41" x2="477.70" y2="241.39" stroke="#3a3a3a" stroke-width="0.75"/>
<line x1="474.80" y1="232.41" x2="480.60" y2="232.41" stroke="#3a3a3a" stroke-width="0.75"/>
<line x1="474.80" y1="241.39" x2="480.60" y2="241.39" stroke="#3a3a3a" stroke-width="0.75"/>
<line x1="486.18" y1="230.15" x2="486.18" y2="239.25" stroke="#3a3a3a" stroke-width="0.75"/>
<line x1="483.28" y1="230.15" x2="489.08" y2="230.15" stroke="#3a3a3a" stroke-width="0.75"/>
<line x1="483.28" y1="239.25" x2="489.08" y2="239.25" stroke="#3a3a3a" stroke-width="0.75"/>
<line x1="494.66" y1="228.57" x2="494.66" y2="237.63" stroke="#3a3a3a" stroke-width="0.75"/>
<line x1="491.76" y1="228.57" x2="497.56" y2="228.57" stroke="#3a3a3a" stroke-width="0.75"/>
<line x1="491.76" y1="237.63" x2="497.56" y2="237.63" stroke="#3a3a3a" stroke-width="0.75"/>
<line x1="503.14" y1="227.89" x2="503.14" y2="233.71" stroke="#3a3a3a" stroke-width="0.75"/>
<line x1="500.24" y1="227.89" x2="506.04" y2="227.89" stroke="#3a3a3a" stroke-width="0.75"/>
<line x1="500.24" y1="233.71" x2="506.04" y2="233.71" stroke="#3a3a3a" stroke-width="0.75"/>
<line x1="511.62" y1="225.63" x2="511.62" y2="230.97" stroke="#3a3a3a" stroke-width="0.75"/>
<line x1="508.72" y1="225.63" x2="514.52" y2="225.63" stroke="#3a3a3a" stroke-width="0.75"/>
<line x1="508.72" y1="230.97" x2="514.52" y2="230.97" stroke="#3a3a3a" stroke-width="0.75"/>
<line x1="520.10" y1="224.49" x2="520.10" y2="227.71" stroke="#3a3a3a" stroke-width="0.75"/>
<line x1="517.20" y1="224.49" x2="523.00" y2="224.49" stroke="#3a3a3a" stroke-width="0.75"/>
<line x1="517.20" y1="227.71" x2="523.00" y2="227.71" stroke="#3a3a3a" stroke-width="0.75"/>
<polyline points="392.90,275.40 401.38,274.30 409.86,270.90 418.34,263.60 426.82,258.90 435.30,254.60 443.78,245.10 452.26,236.90 460.74,223.40 469.22,215.90 477.70,210.90 486.18,207.50 494.66,203.70 503.14,202.50 511.62,198.90 520.10,195.80" fill="none" stroke="#333" stroke-width="0.7" stroke-linejoin="round"/>
<polyline points="392.90,275.40 401.38,274.30 409.86,271.30 418.34,269.30 426.82,264.80 435.30,261.20 443.78,256.20 452.26,250.50 460.74,246.00 469.22,242.10 477.70,236.90 486.18,234.70 494.66,233.10 503.14,230.80 511.62,228.30 520.10,226.10" fill="none" stroke="#333" stroke-width="0.7" stroke-linejoin="round"/>
<circle cx="392.90" cy="275.40" r="3.0" fill="#0a2df2" stroke="#0b1a6e" stroke-width="0.75"/>
<circle cx="401.38" cy="274.30" r="3.0" fill="#0a2df2" stroke="#0b1a6e" stroke-width="0.75"/>
<circle cx="409.86" cy="270.90" r="3.0" fill="#0a2df2" stroke="#0b1a6e" stroke-width="0.75"/>
<circle cx="418.34" cy="263.60" r="3.0" fill="#0a2df2" stroke="#0b1a6e" stroke-width="0.75"/>
<circle cx="426.82" cy="258.90" r="3.0" fill="#0a2df2" stroke="#0b1a6e" stroke-width="0.75"/>
<circle cx="435.30" cy="254.60" r="3.0" fill="#0a2df2" stroke="#0b1a6e" stroke-width="0.75"/>
<circle cx="443.78" cy="245.10" r="3.0" fill="#0a2df2" stroke="#0b1a6e" stroke-width="0.75"/>
<circle cx="452.26" cy="236.90" r="3.0" fill="#0a2df2" stroke="#0b1a6e" stroke-width="0.75"/>
<circle cx="460.74" cy="223.40" r="3.0" fill="#0a2df2" stroke="#0b1a6e" stroke-width="0.75"/>
<circle cx="469.22" cy="215.90" r="3.0" fill="#0a2df2" stroke="#0b1a6e" stroke-width="0.75"/>
<circle cx="477.70" cy="210.90" r="3.0" fill="#0a2df2" stroke="#0b1a6e" stroke-width="0.75"/>
<circle cx="486.18" cy="207.50" r="3.0" fill="#0a2df2" stroke="#0b1a6e" stroke-width="0.75"/>
<circle cx="494.66" cy="203.70" r="3.0" fill="#0a2df2" stroke="#0b1a6e" stroke-width="0.75"/>
<circle cx="503.14" cy="202.50" r="3.0" fill="#0a2df2" stroke="#0b1a6e" stroke-width="0.75"/>
<circle cx="511.62" cy="198.90" r="3.0" fill="#0a2df2" stroke="#0b1a6e" stroke-width="0.75"/>
<circle cx="520.10" cy="195.80" r="3.0" fill="#0a2df2" stroke="#0b1a6e" stroke-width="0.75"/>
<circle cx="392.90" cy="275.40" r="3.0" fill="#000"/>
<circle cx="401.38" cy="274.30" r="3.0" fill="#000"/>
<circle cx="409.86" cy="271.30" r="3.0" fill="#000"/>
<circle cx="418.34" cy="269.30" r="3.0" fill="#000"/>
<circle cx="426.82" cy="264.80" r="3.0" fill="#000"/>
<circle cx="435.30" cy="261.20" r="3.0" fill="#000"/>
<circle cx="443.78" cy="256.20" r="3.0" fill="#000"/>
<circle cx="452.26" cy="250.50" r="3.0" fill="#000"/>
<circle cx="460.74" cy="246.00" r="3.0" fill="#000"/>
<circle cx="469.22" cy="242.10" r="3.0" fill="#000"/>
<circle cx="477.70" cy="236.90" r="3.0" fill="#000"/>
<circle cx="486.18" cy="234.70" r="3.0" fill="#000"/>
<circle cx="494.66" cy="233.10" r="3.0" fill="#000"/>
<circle cx="503.14" cy="230.80" r="3.0" fill="#000"/>
<circle cx="511.62" cy="228.30" r="3.0" fill="#000"/>
<circle cx="520.10" cy="226.10" r="3.0" fill="#000"/>
<polygon points="463.14,207.07 461.59,207.69 461.48,209.35 460.41,208.07 458.80,208.48 459.68,207.07 458.80,205.66 460.41,206.07 461.48,204.79 461.59,206.45" fill="#1a1a1a"/>
<polygon points="471.62,196.21 470.07,196.83 469.96,198.49 468.89,197.21 467.28,197.62 468.16,196.21 467.28,194.80 468.89,195.20 469.96,193.92 470.07,195.59" fill="#1a1a1a"/>
<polygon points="471.62,201.19 470.07,201.81 469.96,203.47 468.89,202.19 467.28,202.60 468.16,201.19 467.28,199.78 468.89,200.18 469.96,198.90 470.07,200.57" fill="#1a1a1a"/>
<polygon points="480.10,189.42 478.55,190.04 478.44,191.70 477.37,190.42 475.76,190.83 476.64,189.42 475.76,188.01 477.37,188.41 478.44,187.14 478.55,188.80" fill="#1a1a1a"/>
<polygon points="480.10,195.08 478.55,195.70 478.44,197.36 477.37,196.08 475.76,196.49 476.64,195.08 475.76,193.67 477.37,194.07 478.44,192.79 478.55,194.46" fill="#1a1a1a"/>
<polygon points="488.58,182.63 487.03,183.25 486.92,184.91 485.85,183.63 484.24,184.04 485.12,182.63 484.24,181.22 485.85,181.63 486.92,180.35 487.03,182.01" fill="#1a1a1a"/>
<polygon points="488.58,187.16 487.03,187.78 486.92,189.44 485.85,188.16 484.24,188.57 485.12,187.16 484.24,185.74 485.85,186.15 486.92,184.87 487.03,186.53" fill="#1a1a1a"/>
<polygon points="488.58,192.13 487.03,192.75 486.92,194.42 485.85,193.14 484.24,193.54 485.12,192.13 484.24,190.72 485.85,191.13 486.92,189.85 487.03,191.51" fill="#1a1a1a"/>
<polygon points="497.06,179.24 495.51,179.86 495.40,181.52 494.33,180.24 492.72,180.65 493.60,179.24 492.72,177.82 494.33,178.23 495.40,176.95 495.51,178.61" fill="#1a1a1a"/>
<polygon points="497.06,183.76 495.51,184.38 495.40,186.04 494.33,184.77 492.72,185.17 493.60,183.76 492.72,182.35 494.33,182.76 495.40,181.48 495.51,183.14" fill="#1a1a1a"/>
<polygon points="497.06,188.97 495.51,189.59 495.40,191.25 494.33,189.97 492.72,190.38 493.60,188.97 492.72,187.56 494.33,187.96 495.40,186.68 495.51,188.35" fill="#1a1a1a"/>
<polygon points="505.54,176.97 503.99,177.59 503.88,179.25 502.81,177.98 501.20,178.38 502.08,176.97 501.20,175.56 502.81,175.97 503.88,174.69 503.99,176.35" fill="#1a1a1a"/>
<polygon points="505.54,181.95 503.99,182.57 503.88,184.23 502.81,182.95 501.20,183.36 502.08,181.95 501.20,180.54 502.81,180.95 503.88,179.67 503.99,181.33" fill="#1a1a1a"/>
<polygon points="505.54,187.16 503.99,187.78 503.88,189.44 502.81,188.16 501.20,188.57 502.08,187.16 501.20,185.74 502.81,186.15 503.88,184.87 503.99,186.53" fill="#1a1a1a"/>
<polygon points="514.02,175.39 512.47,176.01 512.36,177.67 511.29,176.39 509.68,176.80 510.56,175.39 509.68,173.98 511.29,174.38 512.36,173.11 512.47,174.77" fill="#1a1a1a"/>
<polygon points="514.02,180.37 512.47,180.99 512.36,182.65 511.29,181.37 509.68,181.78 510.56,180.37 509.68,178.96 511.29,179.36 512.36,178.08 512.47,179.75" fill="#1a1a1a"/>
<polygon points="514.02,184.89 512.47,185.51 512.36,187.18 511.29,185.90 509.68,186.30 510.56,184.89 509.68,183.48 511.29,183.89 512.36,182.61 512.47,184.27" fill="#1a1a1a"/>
<polygon points="522.50,173.13 520.95,173.75 520.84,175.41 519.77,174.13 518.16,174.54 519.04,173.13 518.16,171.71 519.77,172.12 520.84,170.84 520.95,172.50" fill="#1a1a1a"/>
<polygon points="522.50,177.65 520.95,178.27 520.84,179.93 519.77,178.66 518.16,179.06 519.04,177.65 518.16,176.24 519.77,176.65 520.84,175.37 520.95,177.03" fill="#1a1a1a"/>
<polygon points="522.50,182.63 520.95,183.25 520.84,184.91 519.77,183.63 518.16,184.04 519.04,182.63 518.16,181.22 519.77,181.63 520.84,180.35 520.95,182.01" fill="#1a1a1a"/>
<line x1="392.50" y1="223.40" x2="451.80" y2="223.40" stroke="#999" stroke-width="0.9"/>
<text transform="translate(422.30,217.30) scale(1.05,1)" x="0" y="2.74" font-size="7.6" text-anchor="middle" fill="#262626" font-weight="normal" font-style="normal">NS</text>
<line x1="394.50" y1="169.10" x2="404.20" y2="169.10" stroke="#333" stroke-width="0.7"/>
<circle cx="399.30" cy="169.10" r="3.0" fill="#000"/>
<line x1="394.50" y1="179.20" x2="404.20" y2="179.20" stroke="#333" stroke-width="0.7"/>
<circle cx="399.50" cy="179.20" r="3.0" fill="#0a2df2" stroke="#0b1a6e" stroke-width="0.75"/>
<text transform="translate(409.90,169.10) scale(0.97,1)" x="0" y="2.81" font-size="7.8" text-anchor="start" fill="#262626" font-weight="normal" font-style="normal"><tspan font-style="italic">Pd1</tspan><tspan font-size="4.6" dy="-2.6" font-style="italic">fl/fl</tspan></text>
<text transform="translate(409.90,179.20) scale(0.96,1)" x="0" y="2.81" font-size="7.8" text-anchor="start" fill="#262626" font-weight="normal" font-style="normal"><tspan font-style="italic">Pd1</tspan><tspan font-size="4.6" dy="-2.6" font-style="italic">fl/fl</tspan><tspan font-style="italic" dy="2.6">Foxp3</tspan><tspan font-size="4.6" dy="-2.6" font-style="italic">ERT2Cre</tspan></text>
<text transform="translate(554.90,171.60) scale(1.1,1)" x="0" y="0" font-size="12.4" fill="#000" font-weight="bold" stroke="#000" stroke-width="0.3">f</text>
<line x1="587.60" y1="179.20" x2="587.60" y2="275.70" stroke="#707070" stroke-width="0.8"/>
<line x1="584.10" y1="275.70" x2="587.60" y2="275.70" stroke="#707070" stroke-width="0.8"/>
<text transform="translate(580.60,275.70) scale(0.95,1)" x="0" y="2.95" font-size="8.2" text-anchor="end" fill="#262626" font-weight="normal" font-style="normal">0</text>
<line x1="584.10" y1="251.57" x2="587.60" y2="251.57" stroke="#707070" stroke-width="0.8"/>
<text transform="translate(580.60,251.57) scale(0.95,1)" x="0" y="2.95" font-size="8.2" text-anchor="end" fill="#262626" font-weight="normal" font-style="normal">5</text>
<line x1="584.10" y1="227.45" x2="587.60" y2="227.45" stroke="#707070" stroke-width="0.8"/>
<text transform="translate(580.60,227.45) scale(0.95,1)" x="0" y="2.95" font-size="8.2" text-anchor="end" fill="#262626" font-weight="normal" font-style="normal">10</text>
<line x1="584.10" y1="203.32" x2="587.60" y2="203.32" stroke="#707070" stroke-width="0.8"/>
<text transform="translate(580.60,203.32) scale(0.95,1)" x="0" y="2.95" font-size="8.2" text-anchor="end" fill="#262626" font-weight="normal" font-style="normal">15</text>
<line x1="584.10" y1="179.20" x2="587.60" y2="179.20" stroke="#707070" stroke-width="0.8"/>
<text transform="translate(580.60,179.20) scale(0.95,1)" x="0" y="2.95" font-size="8.2" text-anchor="end" fill="#262626" font-weight="normal" font-style="normal">20</text>
<line x1="587.60" y1="275.70" x2="651.60" y2="275.70" stroke="#707070" stroke-width="0.8"/>
<line x1="605.80" y1="275.70" x2="605.80" y2="278.50" stroke="#707070" stroke-width="0.8"/>
<line x1="633.70" y1="275.70" x2="633.70" y2="278.50" stroke="#707070" stroke-width="0.8"/>
<line x1="606.40" y1="193.20" x2="633.70" y2="193.20" stroke="#888" stroke-width="0.9"/>
<polygon points="620.20,187.35 620.81,188.86 622.43,188.97 621.18,190.02 621.58,191.60 620.20,190.73 618.82,191.60 619.22,190.02 617.97,188.97 619.59,188.86" fill="#1a1a1a"/>
<circle cx="606.00" cy="240.40" r="3.1" fill="#000"/>
<circle cx="609.10" cy="252.10" r="3.1" fill="#000"/>
<circle cx="606.00" cy="253.00" r="3.1" fill="#000"/>
<circle cx="603.00" cy="256.50" r="3.1" fill="#000"/>
<circle cx="606.00" cy="260.40" r="3.1" fill="#000"/>
<circle cx="603.00" cy="263.00" r="3.1" fill="#000"/>
<circle cx="599.60" cy="267.00" r="3.1" fill="#000"/>
<circle cx="612.30" cy="267.60" r="3.1" fill="#000"/>
<circle cx="605.30" cy="269.20" r="3.1" fill="#000"/>
<circle cx="609.10" cy="271.10" r="3.1" fill="#000"/>
<circle cx="603.00" cy="275.10" r="3.1" fill="#000"/>
<line x1="597.00" y1="262.30" x2="615.00" y2="262.30" stroke="#888" stroke-width="0.9"/>
<line x1="633.70" y1="238.90" x2="633.70" y2="252.50" stroke="#666" stroke-width="0.8"/>
<line x1="629.50" y1="238.90" x2="637.90" y2="238.90" stroke="#666" stroke-width="0.8"/>
<line x1="629.50" y1="252.50" x2="637.90" y2="252.50" stroke="#666" stroke-width="0.8"/>
<line x1="624.30" y1="245.50" x2="642.80" y2="245.50" stroke="#888" stroke-width="0.9"/>
<circle cx="633.70" cy="204.50" r="3.1" fill="#0a2df2" stroke="#0b1a6e" stroke-width="0.75"/>
<circle cx="633.70" cy="218.80" r="3.1" fill="#0a2df2" stroke="#0b1a6e" stroke-width="0.75"/>
<circle cx="639.90" cy="215.60" r="3.1" fill="#0a2df2" stroke="#0b1a6e" stroke-width="0.75"/>
<circle cx="627.20" cy="247.10" r="3.1" fill="#0a2df2" stroke="#0b1a6e" stroke-width="0.75"/>
<circle cx="633.50" cy="246.60" r="3.1" fill="#0a2df2" stroke="#0b1a6e" stroke-width="0.75"/>
<circle cx="639.60" cy="250.60" r="3.1" fill="#0a2df2" stroke="#0b1a6e" stroke-width="0.75"/>
<circle cx="633.50" cy="259.10" r="3.1" fill="#0a2df2" stroke="#0b1a6e" stroke-width="0.75"/>
<circle cx="639.60" cy="259.80" r="3.1" fill="#0a2df2" stroke="#0b1a6e" stroke-width="0.75"/>
<circle cx="633.50" cy="265.40" r="3.1" fill="#0a2df2" stroke="#0b1a6e" stroke-width="0.75"/>
<circle cx="639.60" cy="266.10" r="3.1" fill="#0a2df2" stroke="#0b1a6e" stroke-width="0.75"/>
<circle cx="627.20" cy="268.70" r="3.1" fill="#0a2df2" stroke="#0b1a6e" stroke-width="0.75"/>
<text transform="translate(605.80,285.30) scale(1.02,1)" x="0" y="2.74" font-size="7.6" text-anchor="middle" fill="#262626" font-weight="normal" font-style="normal"><tspan font-style="italic">Pd1</tspan><tspan font-size="5.0" dy="-2.8" font-style="italic">fl/fl</tspan></text>
<text transform="translate(633.70,285.30) scale(1.02,1)" x="0" y="2.74" font-size="7.6" text-anchor="middle" fill="#262626" font-weight="normal" font-style="normal"><tspan font-style="italic">Pd1</tspan><tspan font-size="5.0" dy="-2.8" font-style="italic">fl/fl</tspan></text>
<text transform="translate(633.70,293.70) scale(1.02,1)" x="0" y="2.74" font-size="7.6" text-anchor="middle" fill="#262626" font-weight="normal" font-style="normal"><tspan font-style="italic">Foxp3</tspan><tspan font-size="4.4" dy="-2.6" font-style="italic">ERT2Cre</tspan></text>
<text transform="translate(562.70,229.50) rotate(-90) scale(1.02,1)" x="0" y="3.10" font-size="8.6" text-anchor="middle" fill="#262626" font-weight="normal" font-style="normal">No. of CD30<tspan font-size="5" dy="-2.8">+</tspan><tspan dy="2.8"> T</tspan><tspan font-size="5.3" dy="2.0">reg</tspan><tspan dy="-2.0"> (×10</tspan><tspan font-size="5" dy="-2.8">3</tspan><tspan dy="2.8">)</tspan></text>
<text transform="translate(-0.20,319.30) scale(1.1,1)" x="0" y="0" font-size="12.4" fill="#000" font-weight="bold" stroke="#000" stroke-width="0.3">g</text>
<line x1="61.80" y1="327.40" x2="61.80" y2="422.80" stroke="#707070" stroke-width="0.8"/>
<line x1="58.30" y1="422.80" x2="61.80" y2="422.80" stroke="#707070" stroke-width="0.8"/>
<text transform="translate(54.80,422.80) scale(0.95,1)" x="0" y="2.95" font-size="8.2" text-anchor="end" fill="#262626" font-weight="normal" font-style="normal">0</text>
<line x1="58.30" y1="391.00" x2="61.80" y2="391.00" stroke="#707070" stroke-width="0.8"/>
<text transform="translate(54.80,391.00) scale(0.95,1)" x="0" y="2.95" font-size="8.2" text-anchor="end" fill="#262626" font-weight="normal" font-style="normal">500</text>
<line x1="58.30" y1="359.20" x2="61.80" y2="359.20" stroke="#707070" stroke-width="0.8"/>
<text transform="translate(54.80,359.20) scale(0.95,1)" x="0" y="2.95" font-size="8.2" text-anchor="end" fill="#262626" font-weight="normal" font-style="normal">1,000</text>
<line x1="58.30" y1="327.40" x2="61.80" y2="327.40" stroke="#707070" stroke-width="0.8"/>
<text transform="translate(54.80,327.40) scale(0.95,1)" x="0" y="2.95" font-size="8.2" text-anchor="end" fill="#262626" font-weight="normal" font-style="normal">1,500</text>
<line x1="61.80" y1="422.80" x2="195.00" y2="422.80" stroke="#707070" stroke-width="0.8"/>
<line x1="66.20" y1="422.80" x2="66.20" y2="425.40" stroke="#707070" stroke-width="0.8"/>
<text transform="translate(66.20,433.70) scale(0.95,1)" x="0" y="2.92" font-size="8.1" text-anchor="middle" fill="#262626" font-weight="normal" font-style="normal">4</text>
<line x1="85.20" y1="422.80" x2="85.20" y2="425.40" stroke="#707070" stroke-width="0.8"/>
<text transform="translate(85.20,433.70) scale(0.95,1)" x="0" y="2.92" font-size="8.1" text-anchor="middle" fill="#262626" font-weight="normal" font-style="normal">6</text>
<line x1="104.20" y1="422.80" x2="104.20" y2="425.40" stroke="#707070" stroke-width="0.8"/>
<text transform="translate(104.20,433.70) scale(0.95,1)" x="0" y="2.92" font-size="8.1" text-anchor="middle" fill="#262626" font-weight="normal" font-style="normal">8</text>
<line x1="123.20" y1="422.80" x2="123.20" y2="425.40" stroke="#707070" stroke-width="0.8"/>
<text transform="translate(123.20,433.70) scale(0.95,1)" x="0" y="2.92" font-size="8.1" text-anchor="middle" fill="#262626" font-weight="normal" font-style="normal">10</text>
<line x1="142.20" y1="422.80" x2="142.20" y2="425.40" stroke="#707070" stroke-width="0.8"/>
<text transform="translate(142.20,433.70) scale(0.95,1)" x="0" y="2.92" font-size="8.1" text-anchor="middle" fill="#262626" font-weight="normal" font-style="normal">12</text>
<line x1="161.20" y1="422.80" x2="161.20" y2="425.40" stroke="#707070" stroke-width="0.8"/>
<text transform="translate(161.20,433.70) scale(0.95,1)" x="0" y="2.92" font-size="8.1" text-anchor="middle" fill="#262626" font-weight="normal" font-style="normal">14</text>
<line x1="180.20" y1="422.80" x2="180.20" y2="425.40" stroke="#707070" stroke-width="0.8"/>
<text transform="translate(180.20,433.70) scale(0.95,1)" x="0" y="2.92" font-size="8.1" text-anchor="middle" fill="#262626" font-weight="normal" font-style="normal">16</text>
<text transform="translate(128.00,446.20) scale(1.05,1)" x="0" y="3.10" font-size="8.6" text-anchor="middle" fill="#262626" font-weight="normal" font-style="normal">Day</text>
<text transform="translate(26.50,375.60) rotate(-90) scale(1.04,1)" x="0" y="3.10" font-size="8.6" text-anchor="middle" fill="#262626" font-weight="normal" font-style="normal">Tumor volume (mm<tspan font-size="5" dy="-2.8">3</tspan><tspan dy="2.8">)</tspan></text>
<line x1="66.20" y1="343.20" x2="170.80" y2="343.20" stroke="#999" stroke-width="0.9"/>
<text transform="translate(115.40,337.70) scale(1.05,1)" x="0" y="2.74" font-size="7.6" text-anchor="middle" fill="#262626" font-weight="normal" font-style="normal">NS</text>
<text transform="translate(94.90,374.60)" x="0" y="2.66" font-size="7.4" text-anchor="middle" fill="#262626" font-weight="normal" font-style="normal">T<tspan font-size="5.3" dy="2.0">eff</tspan><tspan dy="-2.0">/</tspan></text>
<text transform="translate(94.90,382.80)" x="0" y="2.66" font-size="7.4" text-anchor="middle" fill="#262626" font-weight="normal" font-style="normal">T<tspan font-size="5.3" dy="2.0">reg</tspan></text>
<line x1="95.30" y1="392.00" x2="95.30" y2="413.80" stroke="#e8262a" stroke-width="0.9"/>
<polygon points="93.70,413.30 96.90,413.30 95.30,416.70" fill="#e8262a"/>
<text transform="translate(104.70,398.20) scale(1.05,1)" x="0" y="2.74" font-size="7.6" text-anchor="middle" fill="#262626" font-weight="normal" font-style="normal">Ab</text>
<line x1="104.70" y1="404.80" x2="104.70" y2="413.10" stroke="#3d4f6e" stroke-width="0.9"/>
<polygon points="103.30,412.60 106.10,412.60 104.70,415.60" fill="#3d4f6e"/>
<text transform="translate(124.00,390.40) scale(1.05,1)" x="0" y="2.74" font-size="7.6" text-anchor="middle" fill="#262626" font-weight="normal" font-style="normal">Ab</text>
<line x1="124.00" y1="396.20" x2="124.00" y2="404.90" stroke="#3d4f6e" stroke-width="0.9"/>
<polygon points="122.60,404.40 125.40,404.40 124.00,407.40" fill="#3d4f6e"/>
<text transform="translate(143.10,382.40) scale(1.05,1)" x="0" y="2.74" font-size="7.6" text-anchor="middle" fill="#262626" font-weight="normal" font-style="normal">Ab</text>
<line x1="143.10" y1="390.00" x2="143.10" y2="398.20" stroke="#3d4f6e" stroke-width="0.9"/>
<polygon points="141.70,397.70 144.50,397.70 143.10,400.70" fill="#3d4f6e"/>
<text transform="translate(162.00,360.10) scale(1.05,1)" x="0" y="2.74" font-size="7.6" text-anchor="middle" fill="#262626" font-weight="normal" font-style="normal">Ab</text>
<line x1="162.00" y1="366.40" x2="162.00" y2="374.30" stroke="#3d4f6e" stroke-width="0.9"/>
<polygon points="160.60,373.80 163.40,373.80 162.00,376.80" fill="#3d4f6e"/>
<text transform="translate(181.00,320.40) scale(1.05,1)" x="0" y="2.74" font-size="7.6" text-anchor="middle" fill="#262626" font-weight="normal" font-style="normal">Ab</text>
<line x1="181.00" y1="326.50" x2="181.00" y2="334.40" stroke="#3d4f6e" stroke-width="0.9"/>
<polygon points="179.60,333.90 182.40,333.90 181.00,336.90" fill="#3d4f6e"/>
<line x1="113.70" y1="414.50" x2="113.70" y2="420.90" stroke="#4a6cf2" stroke-width="0.75"/>
<line x1="111.10" y1="414.50" x2="116.30" y2="414.50" stroke="#4a6cf2" stroke-width="0.75"/>
<line x1="111.10" y1="420.90" x2="116.30" y2="420.90" stroke="#4a6cf2" stroke-width="0.75"/>
<line x1="123.20" y1="410.00" x2="123.20" y2="418.40" stroke="#4a6cf2" stroke-width="0.75"/>
<line x1="120.60" y1="410.00" x2="125.80" y2="410.00" stroke="#4a6cf2" stroke-width="0.75"/>
<line x1="120.60" y1="418.40" x2="125.80" y2="418.40" stroke="#4a6cf2" stroke-width="0.75"/>
<line x1="132.70" y1="406.40" x2="132.70" y2="416.60" stroke="#4a6cf2" stroke-width="0.75"/>
<line x1="130.10" y1="406.40" x2="135.30" y2="406.40" stroke="#4a6cf2" stroke-width="0.75"/>
<line x1="130.10" y1="416.60" x2="135.30" y2="416.60" stroke="#4a6cf2" stroke-width="0.75"/>
<line x1="142.20" y1="404.40" x2="142.20" y2="411.80" stroke="#4a6cf2" stroke-width="0.75"/>
<line x1="139.60" y1="404.40" x2="144.80" y2="404.40" stroke="#4a6cf2" stroke-width="0.75"/>
<line x1="139.60" y1="411.80" x2="144.80" y2="411.80" stroke="#4a6cf2" stroke-width="0.75"/>
<line x1="151.70" y1="396.20" x2="151.70" y2="409.20" stroke="#4a6cf2" stroke-width="0.75"/>
<line x1="149.10" y1="396.20" x2="154.30" y2="396.20" stroke="#4a6cf2" stroke-width="0.75"/>
<line x1="149.10" y1="409.20" x2="154.30" y2="409.20" stroke="#4a6cf2" stroke-width="0.75"/>
<line x1="161.20" y1="381.10" x2="161.20" y2="396.90" stroke="#4a6cf2" stroke-width="0.75"/>
<line x1="158.60" y1="381.10" x2="163.80" y2="381.10" stroke="#4a6cf2" stroke-width="0.75"/>
<line x1="158.60" y1="396.90" x2="163.80" y2="396.90" stroke="#4a6cf2" stroke-width="0.75"/>
<line x1="170.70" y1="351.30" x2="170.70" y2="378.90" stroke="#4a6cf2" stroke-width="0.75"/>
<line x1="168.10" y1="351.30" x2="173.30" y2="351.30" stroke="#4a6cf2" stroke-width="0.75"/>
<line x1="168.10" y1="378.90" x2="173.30" y2="378.90" stroke="#4a6cf2" stroke-width="0.75"/>
<line x1="180.20" y1="348.50" x2="180.20" y2="372.70" stroke="#4a6cf2" stroke-width="0.75"/>
<line x1="177.60" y1="348.50" x2="182.80" y2="348.50" stroke="#4a6cf2" stroke-width="0.75"/>
<line x1="177.60" y1="372.70" x2="182.80" y2="372.70" stroke="#4a6cf2" stroke-width="0.75"/>
<line x1="189.70" y1="341.60" x2="189.70" y2="361.60" stroke="#4a6cf2" stroke-width="0.75"/>
<line x1="187.10" y1="341.60" x2="192.30" y2="341.60" stroke="#4a6cf2" stroke-width="0.75"/>
<line x1="187.10" y1="361.60" x2="192.30" y2="361.60" stroke="#4a6cf2" stroke-width="0.75"/>
<line x1="123.20" y1="416.50" x2="123.20" y2="422.90" stroke="#ef5a4e" stroke-width="0.75"/>
<line x1="120.60" y1="416.50" x2="125.80" y2="416.50" stroke="#ef5a4e" stroke-width="0.75"/>
<line x1="120.60" y1="422.90" x2="125.80" y2="422.90" stroke="#ef5a4e" stroke-width="0.75"/>
<line x1="132.70" y1="413.00" x2="132.70" y2="420.40" stroke="#ef5a4e" stroke-width="0.75"/>
<line x1="130.10" y1="413.00" x2="135.30" y2="413.00" stroke="#ef5a4e" stroke-width="0.75"/>
<line x1="130.10" y1="420.40" x2="135.30" y2="420.40" stroke="#ef5a4e" stroke-width="0.75"/>
<line x1="142.20" y1="409.00" x2="142.20" y2="417.00" stroke="#ef5a4e" stroke-width="0.75"/>
<line x1="139.60" y1="409.00" x2="144.80" y2="409.00" stroke="#ef5a4e" stroke-width="0.75"/>
<line x1="139.60" y1="417.00" x2="144.80" y2="417.00" stroke="#ef5a4e" stroke-width="0.75"/>
<line x1="151.70" y1="400.00" x2="151.70" y2="410.80" stroke="#ef5a4e" stroke-width="0.75"/>
<line x1="149.10" y1="400.00" x2="154.30" y2="400.00" stroke="#ef5a4e" stroke-width="0.75"/>
<line x1="149.10" y1="410.80" x2="154.30" y2="410.80" stroke="#ef5a4e" stroke-width="0.75"/>
<line x1="161.20" y1="390.50" x2="161.20" y2="405.10" stroke="#ef5a4e" stroke-width="0.75"/>
<line x1="158.60" y1="390.50" x2="163.80" y2="390.50" stroke="#ef5a4e" stroke-width="0.75"/>
<line x1="158.60" y1="405.10" x2="163.80" y2="405.10" stroke="#ef5a4e" stroke-width="0.75"/>
<line x1="170.70" y1="374.20" x2="170.70" y2="398.40" stroke="#ef5a4e" stroke-width="0.75"/>
<line x1="168.10" y1="374.20" x2="173.30" y2="374.20" stroke="#ef5a4e" stroke-width="0.75"/>
<line x1="168.10" y1="398.40" x2="173.30" y2="398.40" stroke="#ef5a4e" stroke-width="0.75"/>
<line x1="180.20" y1="369.00" x2="180.20" y2="396.00" stroke="#ef5a4e" stroke-width="0.75"/>
<line x1="177.60" y1="369.00" x2="182.80" y2="369.00" stroke="#ef5a4e" stroke-width="0.75"/>
<line x1="177.60" y1="396.00" x2="182.80" y2="396.00" stroke="#ef5a4e" stroke-width="0.75"/>
<line x1="189.70" y1="362.00" x2="189.70" y2="392.60" stroke="#ef5a4e" stroke-width="0.75"/>
<line x1="187.10" y1="362.00" x2="192.30" y2="362.00" stroke="#ef5a4e" stroke-width="0.75"/>
<line x1="187.10" y1="392.60" x2="192.30" y2="392.60" stroke="#ef5a4e" stroke-width="0.75"/>
<line x1="132.70" y1="413.50" x2="132.70" y2="419.10" stroke="#3c3c3c" stroke-width="0.75"/>
<line x1="130.10" y1="413.50" x2="135.30" y2="413.50" stroke="#3c3c3c" stroke-width="0.75"/>
<line x1="130.10" y1="419.10" x2="135.30" y2="419.10" stroke="#3c3c3c" stroke-width="0.75"/>
<line x1="142.20" y1="411.00" x2="142.20" y2="418.20" stroke="#3c3c3c" stroke-width="0.75"/>
<line x1="139.60" y1="411.00" x2="144.80" y2="411.00" stroke="#3c3c3c" stroke-width="0.75"/>
<line x1="139.60" y1="418.20" x2="144.80" y2="418.20" stroke="#3c3c3c" stroke-width="0.75"/>
<line x1="151.70" y1="406.00" x2="151.70" y2="417.00" stroke="#3c3c3c" stroke-width="0.75"/>
<line x1="149.10" y1="406.00" x2="154.30" y2="406.00" stroke="#3c3c3c" stroke-width="0.75"/>
<line x1="149.10" y1="417.00" x2="154.30" y2="417.00" stroke="#3c3c3c" stroke-width="0.75"/>
<line x1="161.20" y1="400.00" x2="161.20" y2="414.60" stroke="#3c3c3c" stroke-width="0.75"/>
<line x1="158.60" y1="400.00" x2="163.80" y2="400.00" stroke="#3c3c3c" stroke-width="0.75"/>
<line x1="158.60" y1="414.60" x2="163.80" y2="414.60" stroke="#3c3c3c" stroke-width="0.75"/>
<line x1="170.70" y1="392.40" x2="170.70" y2="407.20" stroke="#3c3c3c" stroke-width="0.75"/>
<line x1="168.10" y1="392.40" x2="173.30" y2="392.40" stroke="#3c3c3c" stroke-width="0.75"/>
<line x1="168.10" y1="407.20" x2="173.30" y2="407.20" stroke="#3c3c3c" stroke-width="0.75"/>
<line x1="180.20" y1="389.80" x2="180.20" y2="405.40" stroke="#3c3c3c" stroke-width="0.75"/>
<line x1="177.60" y1="389.80" x2="182.80" y2="389.80" stroke="#3c3c3c" stroke-width="0.75"/>
<line x1="177.60" y1="405.40" x2="182.80" y2="405.40" stroke="#3c3c3c" stroke-width="0.75"/>
<line x1="189.70" y1="380.20" x2="189.70" y2="403.40" stroke="#3c3c3c" stroke-width="0.75"/>
<line x1="187.10" y1="380.20" x2="192.30" y2="380.20" stroke="#3c3c3c" stroke-width="0.75"/>
<line x1="187.10" y1="403.40" x2="192.30" y2="403.40" stroke="#3c3c3c" stroke-width="0.75"/>
<polyline points="66.20,422.80 75.70,422.80 85.20,422.80 94.70,422.40 104.20,422.20 113.70,421.40 123.20,420.40 132.70,416.30 142.20,414.60 151.70,411.50 161.20,407.30 170.70,399.80 180.20,397.60 189.70,391.80" fill="none" stroke="#3c3c3c" stroke-width="0.7" stroke-linejoin="round"/>
<polyline points="66.20,422.80 75.70,422.80 85.20,422.80 94.70,422.80 104.20,422.80 113.70,421.80 123.20,419.70 132.70,416.70 142.20,413.00 151.70,405.40 161.20,397.80 170.70,386.30 180.20,382.50 189.70,377.30" fill="none" stroke="#ef5a4e" stroke-width="0.7" stroke-linejoin="round"/>
<polyline points="66.20,422.80 75.70,422.80 85.20,422.80 94.70,422.40 104.20,420.80 113.70,417.70 123.20,414.20 132.70,411.50 142.20,408.10 151.70,402.70 161.20,389.00 170.70,365.10 180.20,360.60 189.70,351.60" fill="none" stroke="#4a6cf2" stroke-width="0.7" stroke-linejoin="round"/>
<circle cx="66.20" cy="422.80" r="3.0" fill="#fff" stroke="#ef5a4e" stroke-width="0.7"/>
<circle cx="75.70" cy="422.80" r="3.0" fill="#fff" stroke="#ef5a4e" stroke-width="0.7"/>
<circle cx="85.20" cy="422.80" r="3.0" fill="#fff" stroke="#ef5a4e" stroke-width="0.7"/>
<circle cx="94.70" cy="422.80" r="3.0" fill="#fff" stroke="#ef5a4e" stroke-width="0.7"/>
<circle cx="104.20" cy="422.80" r="3.0" fill="#fff" stroke="#ef5a4e" stroke-width="0.7"/>
<circle cx="113.70" cy="421.80" r="3.0" fill="#fff" stroke="#ef5a4e" stroke-width="0.7"/>
<circle cx="123.20" cy="419.70" r="3.0" fill="#fff" stroke="#ef5a4e" stroke-width="0.7"/>
<circle cx="132.70" cy="416.70" r="3.0" fill="#fff" stroke="#ef5a4e" stroke-width="0.7"/>
<circle cx="142.20" cy="413.00" r="3.0" fill="#fff" stroke="#ef5a4e" stroke-width="0.7"/>
<circle cx="151.70" cy="405.40" r="3.0" fill="#fff" stroke="#ef5a4e" stroke-width="0.7"/>
<circle cx="161.20" cy="397.80" r="3.0" fill="#fff" stroke="#ef5a4e" stroke-width="0.7"/>
<circle cx="170.70" cy="386.30" r="3.0" fill="#fff" stroke="#ef5a4e" stroke-width="0.7"/>
<circle cx="180.20" cy="382.50" r="3.0" fill="#fff" stroke="#ef5a4e" stroke-width="0.7"/>
<circle cx="189.70" cy="377.30" r="3.0" fill="#fff" stroke="#ef5a4e" stroke-width="0.7"/>
<circle cx="66.20" cy="422.80" r="3.0" fill="#fff" stroke="#4a6cf2" stroke-width="0.7"/>
<circle cx="75.70" cy="422.80" r="3.0" fill="#fff" stroke="#4a6cf2" stroke-width="0.7"/>
<circle cx="85.20" cy="422.80" r="3.0" fill="#fff" stroke="#4a6cf2" stroke-width="0.7"/>
<circle cx="94.70" cy="422.40" r="3.0" fill="#fff" stroke="#4a6cf2" stroke-width="0.7"/>
<circle cx="104.20" cy="420.80" r="3.0" fill="#fff" stroke="#4a6cf2" stroke-width="0.7"/>
<circle cx="113.70" cy="417.70" r="3.0" fill="#fff" stroke="#4a6cf2" stroke-width="0.7"/>
<circle cx="123.20" cy="414.20" r="3.0" fill="#fff" stroke="#4a6cf2" stroke-width="0.7"/>
<circle cx="132.70" cy="411.50" r="3.0" fill="#fff" stroke="#4a6cf2" stroke-width="0.7"/>
<circle cx="142.20" cy="408.10" r="3.0" fill="#fff" stroke="#4a6cf2" stroke-width="0.7"/>
<circle cx="151.70" cy="402.70" r="3.0" fill="#fff" stroke="#4a6cf2" stroke-width="0.7"/>
<circle cx="161.20" cy="389.00" r="3.0" fill="#fff" stroke="#4a6cf2" stroke-width="0.7"/>
<circle cx="170.70" cy="365.10" r="3.0" fill="#fff" stroke="#4a6cf2" stroke-width="0.7"/>
<circle cx="180.20" cy="360.60" r="3.0" fill="#fff" stroke="#4a6cf2" stroke-width="0.7"/>
<circle cx="189.70" cy="351.60" r="3.0" fill="#fff" stroke="#4a6cf2" stroke-width="0.7"/>
<circle cx="66.20" cy="422.80" r="3.0" fill="#fff" stroke="#3c3c3c" stroke-width="0.7"/>
<circle cx="75.70" cy="422.80" r="3.0" fill="#fff" stroke="#3c3c3c" stroke-width="0.7"/>
<circle cx="85.20" cy="422.80" r="3.0" fill="#fff" stroke="#3c3c3c" stroke-width="0.7"/>
<circle cx="94.70" cy="422.40" r="3.0" fill="#fff" stroke="#3c3c3c" stroke-width="0.7"/>
<circle cx="104.20" cy="422.20" r="3.0" fill="#fff" stroke="#3c3c3c" stroke-width="0.7"/>
<circle cx="113.70" cy="421.40" r="3.0" fill="#fff" stroke="#3c3c3c" stroke-width="0.7"/>
<circle cx="123.20" cy="420.40" r="3.0" fill="#fff" stroke="#3c3c3c" stroke-width="0.7"/>
<circle cx="132.70" cy="416.30" r="3.0" fill="#fff" stroke="#3c3c3c" stroke-width="0.7"/>
<circle cx="142.20" cy="414.60" r="3.0" fill="#fff" stroke="#3c3c3c" stroke-width="0.7"/>
<circle cx="151.70" cy="411.50" r="3.0" fill="#fff" stroke="#3c3c3c" stroke-width="0.7"/>
<circle cx="161.20" cy="407.30" r="3.0" fill="#fff" stroke="#3c3c3c" stroke-width="0.7"/>
<circle cx="170.70" cy="399.80" r="3.0" fill="#fff" stroke="#3c3c3c" stroke-width="0.7"/>
<circle cx="180.20" cy="397.60" r="3.0" fill="#fff" stroke="#3c3c3c" stroke-width="0.7"/>
<circle cx="189.70" cy="391.80" r="3.0" fill="#fff" stroke="#3c3c3c" stroke-width="0.7"/>
<polygon points="180.20,341.20 180.74,342.56 182.20,342.65 181.07,343.58 181.43,345.00 180.20,344.22 178.97,345.00 179.33,343.58 178.20,342.65 179.66,342.56" fill="#1a1a1a"/>
<polygon points="189.70,326.60 190.24,327.96 191.70,328.05 190.57,328.98 190.93,330.40 189.70,329.62 188.47,330.40 188.83,328.98 187.70,328.05 189.16,327.96" fill="#1a1a1a"/>
<polygon points="189.70,333.00 190.24,334.36 191.70,334.45 190.57,335.38 190.93,336.80 189.70,336.02 188.47,336.80 188.83,335.38 187.70,334.45 189.16,334.36" fill="#1a1a1a"/>
<text transform="translate(267.00,328.60) scale(0.93,1)" x="0" y="2.66" font-size="7.4" text-anchor="middle" fill="#262626" font-weight="normal" font-style="normal"><tspan font-style="italic">Rag1</tspan><tspan font-size="4.6" dy="-2.6">−/−</tspan></text>
<line x1="213.00" y1="333.20" x2="328.30" y2="333.20" stroke="#444" stroke-width="0.7"/>
<line x1="213.60" y1="342.30" x2="223.20" y2="342.30" stroke="#3c3c3c" stroke-width="0.7"/>
<circle cx="218.20" cy="342.30" r="3.0" fill="#fff" stroke="#3c3c3c" stroke-width="0.7"/>
<line x1="213.60" y1="354.60" x2="223.20" y2="354.60" stroke="#4a6cf2" stroke-width="0.7"/>
<circle cx="218.20" cy="354.60" r="3.0" fill="#fff" stroke="#4a6cf2" stroke-width="0.7"/>
<line x1="213.60" y1="367.20" x2="223.20" y2="367.20" stroke="#ef5a4e" stroke-width="0.7"/>
<circle cx="218.20" cy="367.20" r="3.0" fill="#fff" stroke="#ef5a4e" stroke-width="0.7"/>
<text transform="translate(227.00,342.30) scale(0.93,1)" x="0" y="2.74" font-size="7.6" text-anchor="start" fill="#262626" font-weight="normal" font-style="normal">T<tspan font-size="5.3" dy="2.0">eff</tspan><tspan dy="-2.0">/</tspan>WT T<tspan font-size="5.3" dy="2.0">reg</tspan></text>
<text transform="translate(227.00,354.60) scale(0.93,1)" x="0" y="2.74" font-size="7.6" text-anchor="start" fill="#262626" font-weight="normal" font-style="normal">T<tspan font-size="5.3" dy="2.0">eff</tspan><tspan dy="-2.0">/</tspan><tspan font-style="italic">Pd1</tspan><tspan font-size="4.6" dy="-2.8">−/−</tspan><tspan dy="2.8"> </tspan>T<tspan font-size="5.3" dy="2.0">reg</tspan><tspan dy="-2.0"> </tspan>+ IC</text>
<text transform="translate(227.00,367.20) scale(0.93,1)" x="0" y="2.74" font-size="7.6" text-anchor="start" fill="#262626" font-weight="normal" font-style="normal">T<tspan font-size="5.3" dy="2.0">eff</tspan><tspan dy="-2.0">/</tspan><tspan font-style="italic">Pd1</tspan><tspan font-size="4.6" dy="-2.8">−/−</tspan><tspan dy="2.8"> </tspan>T<tspan font-size="5.3" dy="2.0">reg</tspan><tspan dy="-2.0"> </tspan>+ αCD153</text>
<text transform="translate(345.00,319.50) scale(1.1,1)" x="0" y="0" font-size="12.4" fill="#000" font-weight="bold" stroke="#000" stroke-width="0.3">h</text>
<line x1="389.90" y1="327.05" x2="389.90" y2="422.60" stroke="#707070" stroke-width="0.8"/>
<line x1="386.40" y1="422.60" x2="389.90" y2="422.60" stroke="#707070" stroke-width="0.8"/>
<text transform="translate(382.90,422.60) scale(0.95,1)" x="0" y="2.95" font-size="8.2" text-anchor="end" fill="#262626" font-weight="normal" font-style="normal">0</text>
<line x1="386.40" y1="390.75" x2="389.90" y2="390.75" stroke="#707070" stroke-width="0.8"/>
<text transform="translate(382.90,390.75) scale(0.95,1)" x="0" y="2.95" font-size="8.2" text-anchor="end" fill="#262626" font-weight="normal" font-style="normal">500</text>
<line x1="386.40" y1="358.90" x2="389.90" y2="358.90" stroke="#707070" stroke-width="0.8"/>
<text transform="translate(382.90,358.90) scale(0.95,1)" x="0" y="2.95" font-size="8.2" text-anchor="end" fill="#262626" font-weight="normal" font-style="normal">1,000</text>
<line x1="386.40" y1="327.05" x2="389.90" y2="327.05" stroke="#707070" stroke-width="0.8"/>
<text transform="translate(382.90,327.05) scale(0.95,1)" x="0" y="2.95" font-size="8.2" text-anchor="end" fill="#262626" font-weight="normal" font-style="normal">1,500</text>
<line x1="389.90" y1="422.60" x2="539.10" y2="422.60" stroke="#707070" stroke-width="0.8"/>
<line x1="395.30" y1="422.60" x2="395.30" y2="425.20" stroke="#707070" stroke-width="0.8"/>
<text transform="translate(395.30,433.30) scale(0.95,1)" x="0" y="2.92" font-size="8.1" text-anchor="middle" fill="#262626" font-weight="normal" font-style="normal">4</text>
<line x1="416.68" y1="422.60" x2="416.68" y2="425.20" stroke="#707070" stroke-width="0.8"/>
<text transform="translate(416.68,433.30) scale(0.95,1)" x="0" y="2.92" font-size="8.1" text-anchor="middle" fill="#262626" font-weight="normal" font-style="normal">6</text>
<line x1="438.06" y1="422.60" x2="438.06" y2="425.20" stroke="#707070" stroke-width="0.8"/>
<text transform="translate(438.06,433.30) scale(0.95,1)" x="0" y="2.92" font-size="8.1" text-anchor="middle" fill="#262626" font-weight="normal" font-style="normal">8</text>
<line x1="459.44" y1="422.60" x2="459.44" y2="425.20" stroke="#707070" stroke-width="0.8"/>
<text transform="translate(459.44,433.30) scale(0.95,1)" x="0" y="2.92" font-size="8.1" text-anchor="middle" fill="#262626" font-weight="normal" font-style="normal">10</text>
<line x1="480.82" y1="422.60" x2="480.82" y2="425.20" stroke="#707070" stroke-width="0.8"/>
<text transform="translate(480.82,433.30) scale(0.95,1)" x="0" y="2.92" font-size="8.1" text-anchor="middle" fill="#262626" font-weight="normal" font-style="normal">12</text>
<line x1="502.20" y1="422.60" x2="502.20" y2="425.20" stroke="#707070" stroke-width="0.8"/>
<text transform="translate(502.20,433.30) scale(0.95,1)" x="0" y="2.92" font-size="8.1" text-anchor="middle" fill="#262626" font-weight="normal" font-style="normal">14</text>
<line x1="523.58" y1="422.60" x2="523.58" y2="425.20" stroke="#707070" stroke-width="0.8"/>
<text transform="translate(523.58,433.30) scale(0.95,1)" x="0" y="2.92" font-size="8.1" text-anchor="middle" fill="#262626" font-weight="normal" font-style="normal">16</text>
<text transform="translate(463.80,446.40) scale(1.05,1)" x="0" y="3.10" font-size="8.6" text-anchor="middle" fill="#262626" font-weight="normal" font-style="normal">Day</text>
<text transform="translate(353.70,375.40) rotate(-90) scale(1.04,1)" x="0" y="3.10" font-size="8.6" text-anchor="middle" fill="#262626" font-weight="normal" font-style="normal">Tumor volume (mm<tspan font-size="5" dy="-2.8">3</tspan><tspan dy="2.8">)</tspan></text>
<line x1="392.10" y1="322.80" x2="534.90" y2="322.80" stroke="#aaa" stroke-width="1.0"/>
<text transform="translate(464.70,316.70) scale(1.05,1)" x="0" y="2.74" font-size="7.6" text-anchor="middle" fill="#262626" font-weight="normal" font-style="normal">NS</text>
<text transform="translate(427.50,373.50)" x="0" y="2.66" font-size="7.4" text-anchor="middle" fill="#262626" font-weight="normal" font-style="normal">T<tspan font-size="5.3" dy="2.0">eff</tspan><tspan dy="-2.0">/</tspan></text>
<text transform="translate(427.50,382.90)" x="0" y="2.66" font-size="7.4" text-anchor="middle" fill="#262626" font-weight="normal" font-style="normal">T<tspan font-size="5.3" dy="2.0">reg</tspan></text>
<line x1="427.60" y1="391.30" x2="427.60" y2="412.90" stroke="#e8262a" stroke-width="0.9"/>
<polygon points="426.00,412.40 429.20,412.40 427.60,415.80" fill="#e8262a"/>
<text transform="translate(438.10,398.00) scale(1.05,1)" x="0" y="2.74" font-size="7.6" text-anchor="middle" fill="#262626" font-weight="normal" font-style="normal">Ab</text>
<line x1="438.10" y1="403.90" x2="438.10" y2="413.10" stroke="#3d4f6e" stroke-width="0.9"/>
<polygon points="436.70,412.60 439.50,412.60 438.10,415.60" fill="#3d4f6e"/>
<text transform="translate(458.90,393.30) scale(1.05,1)" x="0" y="2.74" font-size="7.6" text-anchor="middle" fill="#262626" font-weight="normal" font-style="normal">Ab</text>
<line x1="458.90" y1="399.70" x2="458.90" y2="407.80" stroke="#3d4f6e" stroke-width="0.9"/>
<polygon points="457.50,407.30 460.30,407.30 458.90,410.30" fill="#3d4f6e"/>
<text transform="translate(480.20,378.80) scale(1.05,1)" x="0" y="2.74" font-size="7.6" text-anchor="middle" fill="#262626" font-weight="normal" font-style="normal">Ab</text>
<line x1="480.20" y1="384.80" x2="480.20" y2="394.00" stroke="#3d4f6e" stroke-width="0.9"/>
<polygon points="478.80,393.50 481.60,393.50 480.20,396.50" fill="#3d4f6e"/>
<text transform="translate(501.90,364.60) scale(1.05,1)" x="0" y="2.74" font-size="7.6" text-anchor="middle" fill="#262626" font-weight="normal" font-style="normal">Ab</text>
<line x1="501.90" y1="370.50" x2="501.90" y2="378.70" stroke="#3d4f6e" stroke-width="0.9"/>
<polygon points="500.50,378.20 503.30,378.20 501.90,381.20" fill="#3d4f6e"/>
<text transform="translate(523.20,332.70) scale(1.05,1)" x="0" y="2.74" font-size="7.6" text-anchor="middle" fill="#262626" font-weight="normal" font-style="normal">Ab</text>
<line x1="523.20" y1="339.00" x2="523.20" y2="347.20" stroke="#3d4f6e" stroke-width="0.9"/>
<polygon points="521.80,346.70 524.60,346.70 523.20,349.70" fill="#3d4f6e"/>
<line x1="480.82" y1="398.00" x2="480.82" y2="410.00" stroke="#b4b4b4" stroke-width="0.75"/>
<line x1="478.22" y1="398.00" x2="483.42" y2="398.00" stroke="#b4b4b4" stroke-width="0.75"/>
<line x1="478.22" y1="410.00" x2="483.42" y2="410.00" stroke="#b4b4b4" stroke-width="0.75"/>
<line x1="491.51" y1="393.00" x2="491.51" y2="408.00" stroke="#b4b4b4" stroke-width="0.75"/>
<line x1="488.91" y1="393.00" x2="494.11" y2="393.00" stroke="#b4b4b4" stroke-width="0.75"/>
<line x1="488.91" y1="408.00" x2="494.11" y2="408.00" stroke="#b4b4b4" stroke-width="0.75"/>
<line x1="502.20" y1="383.00" x2="502.20" y2="401.50" stroke="#b4b4b4" stroke-width="0.75"/>
<line x1="499.60" y1="383.00" x2="504.80" y2="383.00" stroke="#b4b4b4" stroke-width="0.75"/>
<line x1="499.60" y1="401.50" x2="504.80" y2="401.50" stroke="#b4b4b4" stroke-width="0.75"/>
<line x1="512.89" y1="360.50" x2="512.89" y2="391.50" stroke="#b4b4b4" stroke-width="0.75"/>
<line x1="510.29" y1="360.50" x2="515.49" y2="360.50" stroke="#b4b4b4" stroke-width="0.75"/>
<line x1="510.29" y1="391.50" x2="515.49" y2="391.50" stroke="#b4b4b4" stroke-width="0.75"/>
<line x1="523.58" y1="352.50" x2="523.58" y2="380.50" stroke="#b4b4b4" stroke-width="0.75"/>
<line x1="520.98" y1="352.50" x2="526.18" y2="352.50" stroke="#b4b4b4" stroke-width="0.75"/>
<line x1="520.98" y1="380.50" x2="526.18" y2="380.50" stroke="#b4b4b4" stroke-width="0.75"/>
<line x1="534.27" y1="340.10" x2="534.27" y2="361.30" stroke="#b4b4b4" stroke-width="0.75"/>
<line x1="531.67" y1="340.10" x2="536.87" y2="340.10" stroke="#b4b4b4" stroke-width="0.75"/>
<line x1="531.67" y1="361.30" x2="536.87" y2="361.30" stroke="#b4b4b4" stroke-width="0.75"/>
<line x1="448.75" y1="418.00" x2="448.75" y2="421.80" stroke="#3a3a3a" stroke-width="0.75"/>
<line x1="446.15" y1="418.00" x2="451.35" y2="418.00" stroke="#3a3a3a" stroke-width="0.75"/>
<line x1="446.15" y1="421.80" x2="451.35" y2="421.80" stroke="#3a3a3a" stroke-width="0.75"/>
<line x1="459.44" y1="415.00" x2="459.44" y2="420.60" stroke="#3a3a3a" stroke-width="0.75"/>
<line x1="456.84" y1="415.00" x2="462.04" y2="415.00" stroke="#3a3a3a" stroke-width="0.75"/>
<line x1="456.84" y1="420.60" x2="462.04" y2="420.60" stroke="#3a3a3a" stroke-width="0.75"/>
<line x1="470.13" y1="410.50" x2="470.13" y2="417.30" stroke="#3a3a3a" stroke-width="0.75"/>
<line x1="467.53" y1="410.50" x2="472.73" y2="410.50" stroke="#3a3a3a" stroke-width="0.75"/>
<line x1="467.53" y1="417.30" x2="472.73" y2="417.30" stroke="#3a3a3a" stroke-width="0.75"/>
<line x1="480.82" y1="400.70" x2="480.82" y2="411.40" stroke="#3a3a3a" stroke-width="0.75"/>
<line x1="478.22" y1="400.70" x2="483.42" y2="400.70" stroke="#3a3a3a" stroke-width="0.75"/>
<line x1="478.22" y1="411.40" x2="483.42" y2="411.40" stroke="#3a3a3a" stroke-width="0.75"/>
<line x1="491.51" y1="394.40" x2="491.51" y2="408.20" stroke="#3a3a3a" stroke-width="0.75"/>
<line x1="488.91" y1="394.40" x2="494.11" y2="394.40" stroke="#3a3a3a" stroke-width="0.75"/>
<line x1="488.91" y1="408.20" x2="494.11" y2="408.20" stroke="#3a3a3a" stroke-width="0.75"/>
<line x1="502.20" y1="385.90" x2="502.20" y2="402.90" stroke="#3a3a3a" stroke-width="0.75"/>
<line x1="499.60" y1="385.90" x2="504.80" y2="385.90" stroke="#3a3a3a" stroke-width="0.75"/>
<line x1="499.60" y1="402.90" x2="504.80" y2="402.90" stroke="#3a3a3a" stroke-width="0.75"/>
<line x1="512.89" y1="362.40" x2="512.89" y2="390.10" stroke="#3a3a3a" stroke-width="0.75"/>
<line x1="510.29" y1="362.40" x2="515.49" y2="362.40" stroke="#3a3a3a" stroke-width="0.75"/>
<line x1="510.29" y1="390.10" x2="515.49" y2="390.10" stroke="#3a3a3a" stroke-width="0.75"/>
<line x1="523.58" y1="355.00" x2="523.58" y2="382.70" stroke="#3a3a3a" stroke-width="0.75"/>
<line x1="520.98" y1="355.00" x2="526.18" y2="355.00" stroke="#3a3a3a" stroke-width="0.75"/>
<line x1="520.98" y1="382.70" x2="526.18" y2="382.70" stroke="#3a3a3a" stroke-width="0.75"/>
<line x1="534.27" y1="348.50" x2="534.27" y2="372.70" stroke="#3a3a3a" stroke-width="0.75"/>
<line x1="531.67" y1="348.50" x2="536.87" y2="348.50" stroke="#3a3a3a" stroke-width="0.75"/>
<line x1="531.67" y1="372.70" x2="536.87" y2="372.70" stroke="#3a3a3a" stroke-width="0.75"/>
<polyline points="395.30,422.30 405.99,422.30 416.68,422.00 427.37,421.20 438.06,419.60 448.75,419.40 459.44,417.00 470.13,413.40 480.82,404.00 491.51,400.50 502.20,392.50 512.89,376.00 523.58,366.50 534.27,350.70" fill="none" stroke="#b4b4b4" stroke-width="0.7" stroke-linejoin="round"/>
<polyline points="395.30,422.60 405.99,422.60 416.68,422.60 427.37,422.00 438.06,421.00 448.75,419.90 459.44,417.80 470.13,413.90 480.82,405.00 491.51,401.80 502.20,394.40 512.89,376.90 523.58,368.80 534.27,360.30" fill="none" stroke="#3a3a3a" stroke-width="0.8" stroke-linejoin="round"/>
<circle cx="395.30" cy="422.30" r="3.0" fill="#fff" stroke="#b4b4b4" stroke-width="0.7"/>
<circle cx="405.99" cy="422.30" r="3.0" fill="#fff" stroke="#b4b4b4" stroke-width="0.7"/>
<circle cx="416.68" cy="422.00" r="3.0" fill="#fff" stroke="#b4b4b4" stroke-width="0.7"/>
<circle cx="427.37" cy="421.20" r="3.0" fill="#fff" stroke="#b4b4b4" stroke-width="0.7"/>
<circle cx="438.06" cy="419.60" r="3.0" fill="#fff" stroke="#b4b4b4" stroke-width="0.7"/>
<circle cx="448.75" cy="419.40" r="3.0" fill="#fff" stroke="#b4b4b4" stroke-width="0.7"/>
<circle cx="459.44" cy="417.00" r="3.0" fill="#fff" stroke="#b4b4b4" stroke-width="0.7"/>
<circle cx="470.13" cy="413.40" r="3.0" fill="#fff" stroke="#b4b4b4" stroke-width="0.7"/>
<circle cx="480.82" cy="404.00" r="3.0" fill="#fff" stroke="#b4b4b4" stroke-width="0.7"/>
<circle cx="491.51" cy="400.50" r="3.0" fill="#fff" stroke="#b4b4b4" stroke-width="0.7"/>
<circle cx="502.20" cy="392.50" r="3.0" fill="#fff" stroke="#b4b4b4" stroke-width="0.7"/>
<circle cx="512.89" cy="376.00" r="3.0" fill="#fff" stroke="#b4b4b4" stroke-width="0.7"/>
<circle cx="523.58" cy="366.50" r="3.0" fill="#fff" stroke="#b4b4b4" stroke-width="0.7"/>
<circle cx="534.27" cy="350.70" r="3.0" fill="#fff" stroke="#b4b4b4" stroke-width="0.7"/>
<circle cx="395.30" cy="422.60" r="3.0" fill="#fff" stroke="#3a3a3a" stroke-width="0.75"/>
<circle cx="405.99" cy="422.60" r="3.0" fill="#fff" stroke="#3a3a3a" stroke-width="0.75"/>
<circle cx="416.68" cy="422.60" r="3.0" fill="#fff" stroke="#3a3a3a" stroke-width="0.75"/>
<circle cx="427.37" cy="422.00" r="3.0" fill="#fff" stroke="#3a3a3a" stroke-width="0.75"/>
<circle cx="438.06" cy="421.00" r="3.0" fill="#fff" stroke="#3a3a3a" stroke-width="0.75"/>
<circle cx="448.75" cy="419.90" r="3.0" fill="#fff" stroke="#3a3a3a" stroke-width="0.75"/>
<circle cx="459.44" cy="417.80" r="3.0" fill="#fff" stroke="#3a3a3a" stroke-width="0.75"/>
<circle cx="470.13" cy="413.90" r="3.0" fill="#fff" stroke="#3a3a3a" stroke-width="0.75"/>
<circle cx="480.82" cy="405.00" r="3.0" fill="#fff" stroke="#3a3a3a" stroke-width="0.75"/>
<circle cx="491.51" cy="401.80" r="3.0" fill="#fff" stroke="#3a3a3a" stroke-width="0.75"/>
<circle cx="502.20" cy="394.40" r="3.0" fill="#fff" stroke="#3a3a3a" stroke-width="0.75"/>
<circle cx="512.89" cy="376.90" r="3.0" fill="#fff" stroke="#3a3a3a" stroke-width="0.75"/>
<circle cx="523.58" cy="368.80" r="3.0" fill="#fff" stroke="#3a3a3a" stroke-width="0.75"/>
<circle cx="534.27" cy="360.30" r="3.0" fill="#fff" stroke="#3a3a3a" stroke-width="0.75"/>
<text transform="translate(608.00,328.40) scale(0.95,1)" x="0" y="2.66" font-size="7.4" text-anchor="middle" fill="#262626" font-weight="normal" font-style="normal"><tspan font-style="italic">Rag1</tspan><tspan font-size="4.6" dy="-2.6">−/−</tspan></text>
<line x1="549.10" y1="333.20" x2="658.00" y2="333.20" stroke="#444" stroke-width="0.7"/>
<line x1="550.40" y1="343.20" x2="560.40" y2="343.20" stroke="#3a3a3a" stroke-width="0.7"/>
<circle cx="555.40" cy="343.20" r="3.0" fill="#fff" stroke="#3a3a3a" stroke-width="0.75"/>
<line x1="550.40" y1="354.00" x2="560.40" y2="354.00" stroke="#b4b4b4" stroke-width="0.7"/>
<circle cx="555.40" cy="354.00" r="3.0" fill="#fff" stroke="#b4b4b4" stroke-width="0.7"/>
<text transform="translate(566.20,343.20) scale(0.93,1)" x="0" y="2.74" font-size="7.6" text-anchor="start" fill="#262626" font-weight="normal" font-style="normal">T<tspan font-size="5.3" dy="2.0">eff</tspan><tspan dy="-2.0">/</tspan>WT T<tspan font-size="5.3" dy="2.0">reg</tspan><tspan dy="-2.0"> </tspan>+ IC</text>
<text transform="translate(566.20,354.00) scale(0.93,1)" x="0" y="2.74" font-size="7.6" text-anchor="start" fill="#262626" font-weight="normal" font-style="normal">T<tspan font-size="5.3" dy="2.0">eff</tspan><tspan dy="-2.0">/</tspan>WT T<tspan font-size="5.3" dy="2.0">reg</tspan><tspan dy="-2.0"> </tspan>+ αCD153</text>
<text transform="translate(0.00,467.90) scale(1.1,1)" x="0" y="0" font-size="12.4" fill="#000" font-weight="bold" stroke="#000" stroke-width="0.3">i</text>
<line x1="48.60" y1="514.90" x2="48.60" y2="610.50" stroke="#707070" stroke-width="0.8"/>
<line x1="45.10" y1="610.50" x2="48.60" y2="610.50" stroke="#707070" stroke-width="0.8"/>
<text transform="translate(41.60,610.50) scale(0.95,1)" x="0" y="2.95" font-size="8.2" text-anchor="end" fill="#262626" font-weight="normal" font-style="normal">0</text>
<line x1="45.10" y1="591.38" x2="48.60" y2="591.38" stroke="#707070" stroke-width="0.8"/>
<text transform="translate(41.60,591.38) scale(0.95,1)" x="0" y="2.95" font-size="8.2" text-anchor="end" fill="#262626" font-weight="normal" font-style="normal">10</text>
<line x1="45.10" y1="572.26" x2="48.60" y2="572.26" stroke="#707070" stroke-width="0.8"/>
<text transform="translate(41.60,572.26) scale(0.95,1)" x="0" y="2.95" font-size="8.2" text-anchor="end" fill="#262626" font-weight="normal" font-style="normal">20</text>
<line x1="45.10" y1="553.14" x2="48.60" y2="553.14" stroke="#707070" stroke-width="0.8"/>
<text transform="translate(41.60,553.14) scale(0.95,1)" x="0" y="2.95" font-size="8.2" text-anchor="end" fill="#262626" font-weight="normal" font-style="normal">30</text>
<line x1="45.10" y1="534.02" x2="48.60" y2="534.02" stroke="#707070" stroke-width="0.8"/>
<text transform="translate(41.60,534.02) scale(0.95,1)" x="0" y="2.95" font-size="8.2" text-anchor="end" fill="#262626" font-weight="normal" font-style="normal">40</text>
<line x1="45.10" y1="514.90" x2="48.60" y2="514.90" stroke="#707070" stroke-width="0.8"/>
<text transform="translate(41.60,514.90) scale(0.95,1)" x="0" y="2.95" font-size="8.2" text-anchor="end" fill="#262626" font-weight="normal" font-style="normal">50</text>
<line x1="48.60" y1="610.50" x2="111.20" y2="610.50" stroke="#707070" stroke-width="0.8"/>
<line x1="66.40" y1="610.50" x2="66.40" y2="613.30" stroke="#707070" stroke-width="0.8"/>
<line x1="93.40" y1="610.50" x2="93.40" y2="613.30" stroke="#707070" stroke-width="0.8"/>
<line x1="66.40" y1="527.30" x2="93.90" y2="527.30" stroke="#888" stroke-width="0.9"/>
<polygon points="80.20,521.65 80.81,523.16 82.43,523.27 81.18,524.32 81.58,525.90 80.20,525.03 78.82,525.90 79.22,524.32 77.97,523.27 79.59,523.16" fill="#1a1a1a"/>
<line x1="57.60" y1="566.20" x2="75.60" y2="566.20" stroke="#888" stroke-width="0.9"/>
<line x1="66.60" y1="563.00" x2="66.60" y2="569.30" stroke="#888" stroke-width="0.7"/>
<line x1="62.40" y1="563.00" x2="70.80" y2="563.00" stroke="#888" stroke-width="0.8"/>
<line x1="62.40" y1="569.30" x2="70.80" y2="569.30" stroke="#888" stroke-width="0.8"/>
<line x1="85.30" y1="555.40" x2="102.30" y2="555.40" stroke="#888" stroke-width="0.9"/>
<line x1="93.80" y1="552.70" x2="93.80" y2="558.90" stroke="#888" stroke-width="0.7"/>
<line x1="90.80" y1="552.70" x2="96.80" y2="552.70" stroke="#888" stroke-width="0.8"/>
<line x1="90.80" y1="558.90" x2="96.80" y2="558.90" stroke="#888" stroke-width="0.8"/>
<circle cx="60.20" cy="553.50" r="3.1" fill="#000"/>
<circle cx="72.70" cy="556.30" r="3.1" fill="#000"/>
<circle cx="66.60" cy="559.50" r="3.1" fill="#000"/>
<circle cx="60.20" cy="562.60" r="3.1" fill="#000"/>
<circle cx="72.70" cy="562.60" r="3.1" fill="#000"/>
<circle cx="66.60" cy="565.80" r="3.1" fill="#000"/>
<circle cx="60.20" cy="571.60" r="3.1" fill="#000"/>
<circle cx="66.60" cy="573.30" r="3.1" fill="#000"/>
<circle cx="72.70" cy="577.30" r="3.1" fill="#000"/>
<circle cx="60.20" cy="582.80" r="3.1" fill="#000"/>
<circle cx="87.60" cy="539.00" r="3.1" fill="#0a2df2" stroke="#0b1a6e" stroke-width="0.75"/>
<circle cx="93.80" cy="541.60" r="3.1" fill="#0a2df2" stroke="#0b1a6e" stroke-width="0.75"/>
<circle cx="93.80" cy="549.70" r="3.1" fill="#0a2df2" stroke="#0b1a6e" stroke-width="0.75"/>
<circle cx="100.20" cy="549.70" r="3.1" fill="#0a2df2" stroke="#0b1a6e" stroke-width="0.75"/>
<circle cx="87.60" cy="552.70" r="3.1" fill="#0a2df2" stroke="#0b1a6e" stroke-width="0.75"/>
<circle cx="87.60" cy="558.90" r="3.1" fill="#0a2df2" stroke="#0b1a6e" stroke-width="0.75"/>
<circle cx="100.20" cy="559.80" r="3.1" fill="#0a2df2" stroke="#0b1a6e" stroke-width="0.75"/>
<circle cx="93.80" cy="563.30" r="3.1" fill="#0a2df2" stroke="#0b1a6e" stroke-width="0.75"/>
<circle cx="93.80" cy="581.40" r="3.1" fill="#0a2df2" stroke="#0b1a6e" stroke-width="0.75"/>
<line x1="85.50" y1="555.40" x2="102.50" y2="555.40" stroke="#999" stroke-width="0.8"/>
<text transform="translate(66.40,621.40) scale(1.02,1)" x="0" y="2.74" font-size="7.6" text-anchor="middle" fill="#262626" font-weight="normal" font-style="normal"><tspan font-style="italic">Pd1</tspan><tspan font-size="5.0" dy="-2.8" font-style="italic">fl/fl</tspan></text>
<text transform="translate(93.40,621.40) scale(1.02,1)" x="0" y="2.74" font-size="7.6" text-anchor="middle" fill="#262626" font-weight="normal" font-style="normal"><tspan font-style="italic">Pd1</tspan><tspan font-size="5.0" dy="-2.8" font-style="italic">fl/fl</tspan></text>
<text transform="translate(93.40,630.20) scale(1.02,1)" x="0" y="2.74" font-size="7.6" text-anchor="middle" fill="#262626" font-weight="normal" font-style="normal"><tspan font-style="italic">Foxp3</tspan><tspan font-size="4.4" dy="-2.6" font-style="italic">ERT2Cre</tspan></text>
<text transform="translate(11.60,563.00) rotate(-90) scale(1.06,1)" x="0" y="3.10" font-size="8.6" text-anchor="middle" fill="#262626" font-weight="normal" font-style="normal">Percentage of FoxP3<tspan font-size="5" dy="-2.8">+</tspan></text>
<text transform="translate(21.60,562.50) rotate(-90) scale(1.03,1)" x="0" y="3.10" font-size="8.6" text-anchor="middle" fill="#262626" font-weight="normal" font-style="normal">(gated on CD4<tspan font-size="5" dy="-2.8">+</tspan><tspan dy="2.8">)</tspan></text>
<text transform="translate(126.00,468.00) scale(1.1,1)" x="0" y="0" font-size="12.4" fill="#000" font-weight="bold" stroke="#000" stroke-width="0.3">j</text>
<text transform="translate(204.70,466.90) scale(1.03,1)" x="0" y="3.02" font-size="8.4" text-anchor="middle" fill="#262626" font-weight="normal" font-style="normal"><tspan font-style="italic">Pd1</tspan><tspan font-size="5.0" dy="-2.8" font-style="italic">fl/fl</tspan><tspan dy="2.6"> T</tspan><tspan font-size="5.3" dy="2.0">reg</tspan></text>
<line x1="158.70" y1="514.90" x2="158.70" y2="610.30" stroke="#707070" stroke-width="0.8"/>
<line x1="155.20" y1="610.30" x2="158.70" y2="610.30" stroke="#707070" stroke-width="0.8"/>
<text transform="translate(151.70,610.30) scale(0.95,1)" x="0" y="2.95" font-size="8.2" text-anchor="end" fill="#262626" font-weight="normal" font-style="normal">0</text>
<line x1="155.20" y1="591.22" x2="158.70" y2="591.22" stroke="#707070" stroke-width="0.8"/>
<text transform="translate(151.70,591.22) scale(0.95,1)" x="0" y="2.95" font-size="8.2" text-anchor="end" fill="#262626" font-weight="normal" font-style="normal">20</text>
<line x1="155.20" y1="572.14" x2="158.70" y2="572.14" stroke="#707070" stroke-width="0.8"/>
<text transform="translate(151.70,572.14) scale(0.95,1)" x="0" y="2.95" font-size="8.2" text-anchor="end" fill="#262626" font-weight="normal" font-style="normal">40</text>
<line x1="155.20" y1="553.06" x2="158.70" y2="553.06" stroke="#707070" stroke-width="0.8"/>
<text transform="translate(151.70,553.06) scale(0.95,1)" x="0" y="2.95" font-size="8.2" text-anchor="end" fill="#262626" font-weight="normal" font-style="normal">60</text>
<line x1="155.20" y1="533.98" x2="158.70" y2="533.98" stroke="#707070" stroke-width="0.8"/>
<text transform="translate(151.70,533.98) scale(0.95,1)" x="0" y="2.95" font-size="8.2" text-anchor="end" fill="#262626" font-weight="normal" font-style="normal">80</text>
<line x1="155.20" y1="514.90" x2="158.70" y2="514.90" stroke="#707070" stroke-width="0.8"/>
<text transform="translate(151.70,514.90) scale(0.95,1)" x="0" y="2.95" font-size="8.2" text-anchor="end" fill="#262626" font-weight="normal" font-style="normal">100</text>
<line x1="158.70" y1="610.30" x2="250.10" y2="610.30" stroke="#707070" stroke-width="0.8"/>
<line x1="177.90" y1="610.30" x2="177.90" y2="613.10" stroke="#707070" stroke-width="0.8"/>
<line x1="205.30" y1="610.30" x2="205.30" y2="613.10" stroke="#707070" stroke-width="0.8"/>
<line x1="232.40" y1="610.30" x2="232.40" y2="613.10" stroke="#707070" stroke-width="0.8"/>
<text transform="translate(177.90,619.80) scale(0.92,1)" x="0" y="2.74" font-size="7.6" text-anchor="middle" fill="#262626" font-weight="normal" font-style="normal">S1</text>
<text transform="translate(177.90,628.30) scale(0.9,1)" x="0" y="2.74" font-size="7.6" text-anchor="middle" fill="#262626" font-weight="normal" font-style="normal">(ST2)</text>
<text transform="translate(205.30,619.80) scale(0.92,1)" x="0" y="2.74" font-size="7.6" text-anchor="middle" fill="#262626" font-weight="normal" font-style="normal">S2</text>
<text transform="translate(205.30,628.30) scale(0.9,1)" x="0" y="2.74" font-size="7.6" text-anchor="middle" fill="#262626" font-weight="normal" font-style="normal">(TIGIT)</text>
<text transform="translate(232.40,619.80) scale(0.92,1)" x="0" y="2.74" font-size="7.6" text-anchor="middle" fill="#262626" font-weight="normal" font-style="normal">S3</text>
<text transform="translate(232.40,628.30) scale(0.9,1)" x="0" y="2.74" font-size="7.6" text-anchor="middle" fill="#262626" font-weight="normal" font-style="normal">(GzmB)</text>
<line x1="177.90" y1="490.30" x2="232.90" y2="490.30" stroke="#777" stroke-width="0.9"/>
<line x1="177.90" y1="506.40" x2="203.90" y2="506.40" stroke="#777" stroke-width="0.9"/>
<line x1="206.70" y1="506.40" x2="232.90" y2="506.40" stroke="#777" stroke-width="0.9"/>
<polygon points="197.95,484.75 198.56,486.26 200.18,486.37 198.93,487.42 199.33,489.00 197.95,488.13 196.57,489.00 196.97,487.42 195.72,486.37 197.34,486.26" fill="#1a1a1a"/>
<polygon points="202.65,484.75 203.26,486.26 204.88,486.37 203.63,487.42 204.03,489.00 202.65,488.13 201.27,489.00 201.67,487.42 200.42,486.37 202.04,486.26" fill="#1a1a1a"/>
<polygon points="207.35,484.75 207.96,486.26 209.58,486.37 208.33,487.42 208.73,489.00 207.35,488.13 205.97,489.00 206.37,487.42 205.12,486.37 206.74,486.26" fill="#1a1a1a"/>
<polygon points="212.05,484.75 212.66,486.26 214.28,486.37 213.03,487.42 213.43,489.00 212.05,488.13 210.67,489.00 211.07,487.42 209.82,486.37 211.44,486.26" fill="#1a1a1a"/>
<polygon points="190.50,500.55 191.11,502.06 192.73,502.17 191.48,503.22 191.88,504.80 190.50,503.93 189.12,504.80 189.52,503.22 188.27,502.17 189.89,502.06" fill="#1a1a1a"/>
<polygon points="214.80,500.55 215.41,502.06 217.03,502.17 215.78,503.22 216.18,504.80 214.80,503.93 213.42,504.80 213.82,503.22 212.57,502.17 214.19,502.06" fill="#1a1a1a"/>
<polygon points="219.50,500.55 220.11,502.06 221.73,502.17 220.48,503.22 220.88,504.80 219.50,503.93 218.12,504.80 218.52,503.22 217.27,502.17 218.89,502.06" fill="#1a1a1a"/>
<polygon points="224.20,500.55 224.81,502.06 226.43,502.17 225.18,503.22 225.58,504.80 224.20,503.93 222.82,504.80 223.22,503.22 221.97,502.17 223.59,502.06" fill="#1a1a1a"/>
<text transform="translate(130.70,562.30) rotate(-90) scale(1.03,1)" x="0" y="3.10" font-size="8.6" text-anchor="middle" fill="#262626" font-weight="normal" font-style="normal">Percentage of T<tspan font-size="5.3" dy="2.0">reg</tspan></text>
<line x1="171.60" y1="569.60" x2="183.60" y2="569.60" stroke="#999" stroke-width="0.9"/>
<line x1="177.60" y1="567.00" x2="177.60" y2="572.00" stroke="#999" stroke-width="0.7"/>
<line x1="175.20" y1="567.00" x2="180.00" y2="567.00" stroke="#999" stroke-width="0.8"/>
<line x1="175.20" y1="572.00" x2="180.00" y2="572.00" stroke="#999" stroke-width="0.8"/>
<circle cx="175.60" cy="556.50" r="3.1" fill="#000"/>
<circle cx="179.50" cy="555.80" r="3.1" fill="#000"/>
<circle cx="171.30" cy="560.80" r="3.1" fill="#000"/>
<circle cx="175.60" cy="564.40" r="3.1" fill="#000"/>
<circle cx="183.60" cy="565.50" r="3.1" fill="#000"/>
<circle cx="171.30" cy="570.40" r="3.1" fill="#000"/>
<circle cx="175.60" cy="575.50" r="3.1" fill="#000"/>
<circle cx="179.50" cy="577.10" r="3.1" fill="#000"/>
<circle cx="183.60" cy="577.10" r="3.1" fill="#000"/>
<circle cx="171.30" cy="579.40" r="3.1" fill="#000"/>
<circle cx="204.90" cy="515.80" r="3.1" fill="#000"/>
<circle cx="198.90" cy="541.60" r="3.1" fill="#000"/>
<circle cx="207.30" cy="540.80" r="3.1" fill="#000"/>
<circle cx="211.20" cy="538.70" r="3.1" fill="#000"/>
<circle cx="202.90" cy="544.40" r="3.1" fill="#000"/>
<circle cx="198.90" cy="547.90" r="3.1" fill="#000"/>
<circle cx="207.30" cy="549.40" r="3.1" fill="#000"/>
<circle cx="211.20" cy="547.60" r="3.1" fill="#000"/>
<circle cx="204.90" cy="559.40" r="3.1" fill="#000"/>
<circle cx="204.90" cy="579.00" r="3.1" fill="#000"/>
<circle cx="232.50" cy="576.00" r="3.1" fill="#000"/>
<circle cx="226.50" cy="582.60" r="3.1" fill="#000"/>
<circle cx="234.40" cy="587.30" r="3.1" fill="#000"/>
<circle cx="239.20" cy="587.30" r="3.1" fill="#000"/>
<circle cx="226.50" cy="590.00" r="3.1" fill="#000"/>
<circle cx="230.50" cy="592.80" r="3.1" fill="#000"/>
<circle cx="239.20" cy="595.20" r="3.1" fill="#000"/>
<circle cx="234.40" cy="597.10" r="3.1" fill="#000"/>
<circle cx="226.50" cy="599.60" r="3.1" fill="#000"/>
<circle cx="236.50" cy="591.00" r="3.1" fill="#000"/>
<text transform="translate(263.10,468.20) scale(1.1,1)" x="0" y="0" font-size="12.4" fill="#000" font-weight="bold" stroke="#000" stroke-width="0.3">k</text>
<text transform="translate(369.50,465.20) scale(1.03,1)" x="0" y="3.02" font-size="8.4" text-anchor="middle" fill="#262626" font-weight="normal" font-style="normal"><tspan font-style="italic">Pd1</tspan><tspan font-size="5.0" dy="-2.8" font-style="italic">fl/fl</tspan><tspan font-style="italic" dy="2.6">Foxp3</tspan><tspan font-size="5.2" dy="-2.8" font-style="normal">ERT2Cre</tspan><tspan dy="2.8"> T</tspan><tspan font-size="5.3" dy="2.0">reg</tspan></text>
<line x1="296.70" y1="512.80" x2="296.70" y2="610.40" stroke="#707070" stroke-width="0.8"/>
<line x1="293.20" y1="610.40" x2="296.70" y2="610.40" stroke="#707070" stroke-width="0.8"/>
<text transform="translate(289.70,610.40) scale(0.95,1)" x="0" y="2.95" font-size="8.2" text-anchor="end" fill="#262626" font-weight="normal" font-style="normal">0</text>
<line x1="293.20" y1="590.88" x2="296.70" y2="590.88" stroke="#707070" stroke-width="0.8"/>
<text transform="translate(289.70,590.88) scale(0.95,1)" x="0" y="2.95" font-size="8.2" text-anchor="end" fill="#262626" font-weight="normal" font-style="normal">20</text>
<line x1="293.20" y1="571.36" x2="296.70" y2="571.36" stroke="#707070" stroke-width="0.8"/>
<text transform="translate(289.70,571.36) scale(0.95,1)" x="0" y="2.95" font-size="8.2" text-anchor="end" fill="#262626" font-weight="normal" font-style="normal">40</text>
<line x1="293.20" y1="551.84" x2="296.70" y2="551.84" stroke="#707070" stroke-width="0.8"/>
<text transform="translate(289.70,551.84) scale(0.95,1)" x="0" y="2.95" font-size="8.2" text-anchor="end" fill="#262626" font-weight="normal" font-style="normal">60</text>
<line x1="293.20" y1="532.32" x2="296.70" y2="532.32" stroke="#707070" stroke-width="0.8"/>
<text transform="translate(289.70,532.32) scale(0.95,1)" x="0" y="2.95" font-size="8.2" text-anchor="end" fill="#262626" font-weight="normal" font-style="normal">80</text>
<line x1="293.20" y1="512.80" x2="296.70" y2="512.80" stroke="#707070" stroke-width="0.8"/>
<text transform="translate(289.70,512.80) scale(0.95,1)" x="0" y="2.95" font-size="8.2" text-anchor="end" fill="#262626" font-weight="normal" font-style="normal">100</text>
<line x1="296.70" y1="610.40" x2="443.80" y2="610.40" stroke="#707070" stroke-width="0.8"/>
<line x1="315.10" y1="610.40" x2="315.10" y2="613.20" stroke="#707070" stroke-width="0.8"/>
<line x1="342.30" y1="610.40" x2="342.30" y2="613.20" stroke="#707070" stroke-width="0.8"/>
<line x1="369.60" y1="610.40" x2="369.60" y2="613.20" stroke="#707070" stroke-width="0.8"/>
<line x1="397.70" y1="610.40" x2="397.70" y2="613.20" stroke="#707070" stroke-width="0.8"/>
<line x1="425.30" y1="610.40" x2="425.30" y2="613.20" stroke="#707070" stroke-width="0.8"/>
<text transform="translate(315.10,619.80) scale(0.92,1)" x="0" y="2.74" font-size="7.6" text-anchor="middle" fill="#262626" font-weight="normal" font-style="normal">S1</text>
<text transform="translate(315.10,628.30) scale(0.88,1)" x="0" y="2.74" font-size="7.6" text-anchor="middle" fill="#262626" font-weight="normal" font-style="normal">(CD119)</text>
<text transform="translate(342.30,619.80) scale(0.92,1)" x="0" y="2.74" font-size="7.6" text-anchor="middle" fill="#262626" font-weight="normal" font-style="normal">S2</text>
<text transform="translate(342.30,628.30) scale(0.88,1)" x="0" y="2.74" font-size="7.6" text-anchor="middle" fill="#262626" font-weight="normal" font-style="normal">(GzmB)</text>
<text transform="translate(369.60,619.80) scale(0.92,1)" x="0" y="2.74" font-size="7.6" text-anchor="middle" fill="#262626" font-weight="normal" font-style="normal">S3</text>
<text transform="translate(369.60,628.30) scale(0.88,1)" x="0" y="2.74" font-size="7.6" text-anchor="middle" fill="#262626" font-weight="normal" font-style="normal">(Tbet)</text>
<text transform="translate(397.70,619.80) scale(0.92,1)" x="0" y="2.74" font-size="7.6" text-anchor="middle" fill="#262626" font-weight="normal" font-style="normal">S4</text>
<text transform="translate(397.70,628.30) scale(0.88,1)" x="0" y="2.74" font-size="7.6" text-anchor="middle" fill="#262626" font-weight="normal" font-style="normal">(TIGIT)</text>
<text transform="translate(425.30,619.80) scale(0.92,1)" x="0" y="2.74" font-size="7.6" text-anchor="middle" fill="#262626" font-weight="normal" font-style="normal">S5</text>
<text transform="translate(425.30,628.30) scale(0.88,1)" x="0" y="2.74" font-size="7.6" text-anchor="middle" fill="#262626" font-weight="normal" font-style="normal">(IL-10)</text>
<line x1="314.60" y1="479.20" x2="425.50" y2="479.20" stroke="#555" stroke-width="1.0"/>
<text transform="translate(369.50,474.80) scale(1.05,1)" x="0" y="2.74" font-size="7.6" text-anchor="middle" fill="#262626" font-weight="normal" font-style="normal">NS</text>
<line x1="342.60" y1="487.40" x2="425.50" y2="487.40" stroke="#a6a6a6" stroke-width="1.0"/>
<text transform="translate(383.20,483.00) scale(1.05,1)" x="0" y="2.74" font-size="7.6" text-anchor="middle" fill="#262626" font-weight="normal" font-style="normal">NS</text>
<line x1="314.60" y1="496.10" x2="397.20" y2="496.10" stroke="#555" stroke-width="1.0"/>
<text transform="translate(355.50,491.80) scale(1.05,1)" x="0" y="2.74" font-size="7.6" text-anchor="middle" fill="#262626" font-weight="normal" font-style="normal">NS</text>
<line x1="342.60" y1="504.30" x2="397.20" y2="504.30" stroke="#555" stroke-width="1.0"/>
<polygon points="370.10,497.85 370.71,499.36 372.33,499.47 371.08,500.52 371.48,502.10 370.10,501.23 368.72,502.10 369.12,500.52 367.87,499.47 369.49,499.36" fill="#1a1a1a"/>
<line x1="314.60" y1="512.80" x2="368.90" y2="512.80" stroke="#a6a6a6" stroke-width="1.0"/>
<polygon points="343.20,506.05 343.81,507.56 345.43,507.67 344.18,508.72 344.58,510.30 343.20,509.43 341.82,510.30 342.22,508.72 340.97,507.67 342.59,507.56" fill="#1a1a1a"/>
<line x1="371.20" y1="512.80" x2="425.50" y2="512.80" stroke="#a6a6a6" stroke-width="1.0"/>
<text transform="translate(397.20,508.40) scale(1.05,1)" x="0" y="2.74" font-size="7.6" text-anchor="middle" fill="#262626" font-weight="normal" font-style="normal">NS</text>
<line x1="314.60" y1="528.00" x2="341.20" y2="528.00" stroke="#a6a6a6" stroke-width="1.0"/>
<text transform="translate(327.20,523.60) scale(1.05,1)" x="0" y="2.74" font-size="7.6" text-anchor="middle" fill="#262626" font-weight="normal" font-style="normal">NS</text>
<line x1="343.80" y1="528.00" x2="368.90" y2="528.00" stroke="#a6a6a6" stroke-width="1.0"/>
<text transform="translate(355.50,523.60) scale(1.05,1)" x="0" y="2.74" font-size="7.6" text-anchor="middle" fill="#262626" font-weight="normal" font-style="normal">NS</text>
<line x1="371.20" y1="528.00" x2="396.30" y2="528.00" stroke="#a6a6a6" stroke-width="1.0"/>
<polygon points="382.35,521.25 382.96,522.76 384.58,522.87 383.33,523.92 383.73,525.50 382.35,524.63 380.97,525.50 381.37,523.92 380.12,522.87 381.74,522.76" fill="#1a1a1a"/>
<polygon points="387.05,521.25 387.66,522.76 389.28,522.87 388.03,523.92 388.43,525.50 387.05,524.63 385.67,525.50 386.07,523.92 384.82,522.87 386.44,522.76" fill="#1a1a1a"/>
<line x1="398.70" y1="528.00" x2="425.50" y2="528.00" stroke="#a6a6a6" stroke-width="1.0"/>
<polygon points="408.85,521.25 409.46,522.76 411.08,522.87 409.83,523.92 410.23,525.50 408.85,524.63 407.47,525.50 407.87,523.92 406.62,522.87 408.24,522.76" fill="#1a1a1a"/>
<polygon points="413.55,521.25 414.16,522.76 415.78,522.87 414.53,523.92 414.93,525.50 413.55,524.63 412.17,525.50 412.57,523.92 411.32,522.87 412.94,522.76" fill="#1a1a1a"/>
<text transform="translate(268.80,561.00) rotate(-90) scale(1.03,1)" x="0" y="3.10" font-size="8.6" text-anchor="middle" fill="#262626" font-weight="normal" font-style="normal">Percentage of T<tspan font-size="5.3" dy="2.0">reg</tspan></text>
<line x1="308.20" y1="588.40" x2="321.80" y2="588.40" stroke="#999" stroke-width="0.9"/>
<line x1="315.00" y1="585.00" x2="315.00" y2="591.80" stroke="#999" stroke-width="0.7"/>
<line x1="313.00" y1="585.00" x2="317.00" y2="585.00" stroke="#999" stroke-width="0.8"/>
<line x1="313.00" y1="591.80" x2="317.00" y2="591.80" stroke="#999" stroke-width="0.8"/>
<line x1="337.70" y1="598.00" x2="351.30" y2="598.00" stroke="#999" stroke-width="0.9"/>
<line x1="344.50" y1="594.50" x2="344.50" y2="601.50" stroke="#999" stroke-width="0.7"/>
<line x1="342.30" y1="594.50" x2="346.70" y2="594.50" stroke="#999" stroke-width="0.8"/>
<line x1="342.30" y1="601.50" x2="346.70" y2="601.50" stroke="#999" stroke-width="0.8"/>
<line x1="392.80" y1="561.50" x2="402.80" y2="561.50" stroke="#777" stroke-width="0.9"/>
<line x1="397.80" y1="555.20" x2="397.80" y2="568.50" stroke="#777" stroke-width="0.7"/>
<line x1="393.80" y1="555.20" x2="401.80" y2="555.20" stroke="#777" stroke-width="0.8"/>
<line x1="393.80" y1="568.50" x2="401.80" y2="568.50" stroke="#777" stroke-width="0.8"/>
<line x1="419.30" y1="603.50" x2="431.30" y2="603.50" stroke="#999" stroke-width="0.9"/>
<line x1="425.30" y1="601.50" x2="425.30" y2="605.50" stroke="#999" stroke-width="0.7"/>
<line x1="423.30" y1="601.50" x2="427.30" y2="601.50" stroke="#999" stroke-width="0.8"/>
<line x1="423.30" y1="605.50" x2="427.30" y2="605.50" stroke="#999" stroke-width="0.8"/>
<circle cx="308.80" cy="581.40" r="3.1" fill="#0a2df2" stroke="#0b1a6e" stroke-width="0.75"/>
<circle cx="321.30" cy="577.30" r="3.1" fill="#0a2df2" stroke="#0b1a6e" stroke-width="0.75"/>
<circle cx="316.90" cy="583.70" r="3.1" fill="#0a2df2" stroke="#0b1a6e" stroke-width="0.75"/>
<circle cx="312.80" cy="586.30" r="3.1" fill="#0a2df2" stroke="#0b1a6e" stroke-width="0.75"/>
<circle cx="321.30" cy="586.90" r="3.1" fill="#0a2df2" stroke="#0b1a6e" stroke-width="0.75"/>
<circle cx="312.80" cy="593.00" r="3.1" fill="#0a2df2" stroke="#0b1a6e" stroke-width="0.75"/>
<circle cx="316.90" cy="596.20" r="3.1" fill="#0a2df2" stroke="#0b1a6e" stroke-width="0.75"/>
<circle cx="314.90" cy="605.00" r="3.1" fill="#0a2df2" stroke="#0b1a6e" stroke-width="0.75"/>
<circle cx="340.30" cy="584.80" r="3.1" fill="#0a2df2" stroke="#0b1a6e" stroke-width="0.75"/>
<circle cx="344.70" cy="583.70" r="3.1" fill="#0a2df2" stroke="#0b1a6e" stroke-width="0.75"/>
<circle cx="344.70" cy="597.60" r="3.1" fill="#0a2df2" stroke="#0b1a6e" stroke-width="0.75"/>
<circle cx="336.20" cy="599.10" r="3.1" fill="#0a2df2" stroke="#0b1a6e" stroke-width="0.75"/>
<circle cx="340.30" cy="602.00" r="3.1" fill="#0a2df2" stroke="#0b1a6e" stroke-width="0.75"/>
<circle cx="348.80" cy="603.20" r="3.1" fill="#0a2df2" stroke="#0b1a6e" stroke-width="0.75"/>
<circle cx="336.20" cy="606.10" r="3.1" fill="#0a2df2" stroke="#0b1a6e" stroke-width="0.75"/>
<circle cx="344.70" cy="605.80" r="3.1" fill="#0a2df2" stroke="#0b1a6e" stroke-width="0.75"/>
<circle cx="364.00" cy="603.80" r="3.1" fill="#0a2df2" stroke="#0b1a6e" stroke-width="0.75"/>
<circle cx="369.10" cy="603.50" r="3.1" fill="#0a2df2" stroke="#0b1a6e" stroke-width="0.75"/>
<circle cx="364.00" cy="610.10" r="3.1" fill="#0a2df2" stroke="#0b1a6e" stroke-width="0.75"/>
<circle cx="369.10" cy="609.40" r="3.1" fill="#0a2df2" stroke="#0b1a6e" stroke-width="0.75"/>
<circle cx="374.10" cy="610.20" r="3.1" fill="#0a2df2" stroke="#0b1a6e" stroke-width="0.75"/>
<circle cx="376.80" cy="609.10" r="3.1" fill="#0a2df2" stroke="#0b1a6e" stroke-width="0.75"/>
<circle cx="371.40" cy="608.50" r="3.1" fill="#0a2df2" stroke="#0b1a6e" stroke-width="0.75"/>
<circle cx="397.80" cy="535.80" r="3.1" fill="#0a2df2" stroke="#0b1a6e" stroke-width="0.75"/>
<circle cx="397.80" cy="542.70" r="3.1" fill="#0a2df2" stroke="#0b1a6e" stroke-width="0.75"/>
<circle cx="397.80" cy="551.10" r="3.1" fill="#0a2df2" stroke="#0b1a6e" stroke-width="0.75"/>
<circle cx="391.20" cy="561.10" r="3.1" fill="#0a2df2" stroke="#0b1a6e" stroke-width="0.75"/>
<circle cx="404.00" cy="563.90" r="3.1" fill="#0a2df2" stroke="#0b1a6e" stroke-width="0.75"/>
<circle cx="397.80" cy="569.80" r="3.1" fill="#0a2df2" stroke="#0b1a6e" stroke-width="0.75"/>
<circle cx="397.80" cy="577.60" r="3.1" fill="#0a2df2" stroke="#0b1a6e" stroke-width="0.75"/>
<circle cx="397.80" cy="592.10" r="3.1" fill="#0a2df2" stroke="#0b1a6e" stroke-width="0.75"/>
<circle cx="425.30" cy="589.30" r="3.1" fill="#0a2df2" stroke="#0b1a6e" stroke-width="0.75"/>
<circle cx="429.10" cy="600.00" r="3.1" fill="#0a2df2" stroke="#0b1a6e" stroke-width="0.75"/>
<circle cx="421.70" cy="602.40" r="3.1" fill="#0a2df2" stroke="#0b1a6e" stroke-width="0.75"/>
<circle cx="418.60" cy="605.80" r="3.1" fill="#0a2df2" stroke="#0b1a6e" stroke-width="0.75"/>
<circle cx="424.00" cy="605.80" r="3.1" fill="#0a2df2" stroke="#0b1a6e" stroke-width="0.75"/>
<circle cx="431.80" cy="605.10" r="3.1" fill="#0a2df2" stroke="#0b1a6e" stroke-width="0.75"/>
<circle cx="429.10" cy="609.10" r="3.1" fill="#0a2df2" stroke="#0b1a6e" stroke-width="0.75"/>
<text transform="translate(461.00,468.20) scale(1.1,1)" x="0" y="0" font-size="12.4" fill="#000" font-weight="bold" stroke="#000" stroke-width="0.3">l</text>
<line x1="488.90" y1="512.78" x2="488.90" y2="608.70" stroke="#707070" stroke-width="0.8"/>
<line x1="485.40" y1="608.70" x2="488.90" y2="608.70" stroke="#707070" stroke-width="0.8"/>
<text transform="translate(481.90,608.70) scale(0.95,1)" x="0" y="2.95" font-size="8.2" text-anchor="end" fill="#262626" font-weight="normal" font-style="normal">0</text>
<line x1="485.40" y1="584.72" x2="488.90" y2="584.72" stroke="#707070" stroke-width="0.8"/>
<text transform="translate(481.90,584.72) scale(0.95,1)" x="0" y="2.95" font-size="8.2" text-anchor="end" fill="#262626" font-weight="normal" font-style="normal">10</text>
<line x1="485.40" y1="560.74" x2="488.90" y2="560.74" stroke="#707070" stroke-width="0.8"/>
<text transform="translate(481.90,560.74) scale(0.95,1)" x="0" y="2.95" font-size="8.2" text-anchor="end" fill="#262626" font-weight="normal" font-style="normal">20</text>
<line x1="485.40" y1="536.76" x2="488.90" y2="536.76" stroke="#707070" stroke-width="0.8"/>
<text transform="translate(481.90,536.76) scale(0.95,1)" x="0" y="2.95" font-size="8.2" text-anchor="end" fill="#262626" font-weight="normal" font-style="normal">30</text>
<line x1="485.40" y1="512.78" x2="488.90" y2="512.78" stroke="#707070" stroke-width="0.8"/>
<text transform="translate(481.90,512.78) scale(0.95,1)" x="0" y="2.95" font-size="8.2" text-anchor="end" fill="#262626" font-weight="normal" font-style="normal">40</text>
<line x1="488.90" y1="608.70" x2="552.30" y2="608.70" stroke="#707070" stroke-width="0.8"/>
<line x1="510.60" y1="608.70" x2="510.60" y2="611.50" stroke="#707070" stroke-width="0.8"/>
<line x1="538.20" y1="608.70" x2="538.20" y2="611.50" stroke="#707070" stroke-width="0.8"/>
<line x1="510.60" y1="521.90" x2="538.80" y2="521.90" stroke="#888" stroke-width="0.9"/>
<polygon points="524.10,516.35 524.71,517.86 526.33,517.97 525.08,519.02 525.48,520.60 524.10,519.73 522.72,520.60 523.12,519.02 521.87,517.97 523.49,517.86" fill="#1a1a1a"/>
<line x1="503.20" y1="565.00" x2="518.00" y2="565.00" stroke="#666" stroke-width="0.9"/>
<line x1="510.60" y1="557.40" x2="510.60" y2="572.10" stroke="#666" stroke-width="0.7"/>
<line x1="507.00" y1="557.40" x2="514.20" y2="557.40" stroke="#666" stroke-width="0.8"/>
<line x1="507.00" y1="572.10" x2="514.20" y2="572.10" stroke="#666" stroke-width="0.8"/>
<circle cx="510.60" cy="532.60" r="3.1" fill="#000"/>
<circle cx="504.40" cy="539.60" r="3.1" fill="#000"/>
<circle cx="517.10" cy="540.50" r="3.1" fill="#000"/>
<circle cx="504.40" cy="550.90" r="3.1" fill="#000"/>
<circle cx="517.10" cy="553.20" r="3.1" fill="#000"/>
<circle cx="510.60" cy="570.70" r="3.1" fill="#000"/>
<circle cx="510.60" cy="581.10" r="3.1" fill="#000"/>
<circle cx="510.60" cy="587.60" r="3.1" fill="#000"/>
<circle cx="504.40" cy="595.50" r="3.1" fill="#000"/>
<circle cx="517.10" cy="595.20" r="3.1" fill="#000"/>
<line x1="529.80" y1="587.60" x2="546.60" y2="587.60" stroke="#666" stroke-width="0.9"/>
<line x1="538.20" y1="583.40" x2="538.20" y2="591.80" stroke="#666" stroke-width="0.7"/>
<line x1="534.60" y1="583.40" x2="541.80" y2="583.40" stroke="#666" stroke-width="0.8"/>
<line x1="534.60" y1="591.80" x2="541.80" y2="591.80" stroke="#666" stroke-width="0.8"/>
<circle cx="538.20" cy="560.80" r="3.1" fill="#0a2df2" stroke="#0b1a6e" stroke-width="0.75"/>
<circle cx="538.20" cy="570.70" r="3.1" fill="#0a2df2" stroke="#0b1a6e" stroke-width="0.75"/>
<circle cx="535.40" cy="587.00" r="3.1" fill="#0a2df2" stroke="#0b1a6e" stroke-width="0.75"/>
<circle cx="541.00" cy="587.00" r="3.1" fill="#0a2df2" stroke="#0b1a6e" stroke-width="0.75"/>
<circle cx="532.60" cy="594.60" r="3.1" fill="#0a2df2" stroke="#0b1a6e" stroke-width="0.75"/>
<circle cx="538.20" cy="595.20" r="3.1" fill="#0a2df2" stroke="#0b1a6e" stroke-width="0.75"/>
<circle cx="544.70" cy="595.20" r="3.1" fill="#0a2df2" stroke="#0b1a6e" stroke-width="0.75"/>
<circle cx="531.70" cy="601.10" r="3.1" fill="#0a2df2" stroke="#0b1a6e" stroke-width="0.75"/>
<line x1="529.80" y1="587.60" x2="546.70" y2="587.60" stroke="#777" stroke-width="0.8"/>
<text transform="translate(510.60,620.00) scale(1.02,1)" x="0" y="2.74" font-size="7.6" text-anchor="middle" fill="#262626" font-weight="normal" font-style="normal"><tspan font-style="italic">Pd1</tspan><tspan font-size="5.0" dy="-2.8" font-style="italic">fl/fl</tspan></text>
<text transform="translate(538.20,620.00) scale(1.02,1)" x="0" y="2.74" font-size="7.6" text-anchor="middle" fill="#262626" font-weight="normal" font-style="normal"><tspan font-style="italic">Pd1</tspan><tspan font-size="5.0" dy="-2.8" font-style="italic">fl/fl</tspan></text>
<text transform="translate(538.20,627.80) scale(1.02,1)" x="0" y="2.74" font-size="7.6" text-anchor="middle" fill="#262626" font-weight="normal" font-style="normal"><tspan font-style="italic">Foxp3</tspan><tspan font-size="4.4" dy="-2.6" font-style="italic">ERT2Cre</tspan></text>
<text transform="translate(465.70,559.40) rotate(-90) scale(1.03,1)" x="0" y="3.10" font-size="8.6" text-anchor="middle" fill="#262626" font-weight="normal" font-style="normal">Percentage of NK1.1<tspan font-size="5" dy="-2.8">+</tspan></text>
<text transform="translate(574.20,467.90) scale(1.1,1)" x="0" y="0" font-size="12.4" fill="#000" font-weight="bold" stroke="#000" stroke-width="0.3">m</text>
<line x1="602.50" y1="512.30" x2="602.50" y2="608.90" stroke="#707070" stroke-width="0.8"/>
<line x1="599.00" y1="608.90" x2="602.50" y2="608.90" stroke="#707070" stroke-width="0.8"/>
<text transform="translate(595.50,608.90) scale(0.95,1)" x="0" y="2.95" font-size="8.2" text-anchor="end" fill="#262626" font-weight="normal" font-style="normal">0</text>
<line x1="599.00" y1="576.70" x2="602.50" y2="576.70" stroke="#707070" stroke-width="0.8"/>
<text transform="translate(595.50,576.70) scale(0.95,1)" x="0" y="2.95" font-size="8.2" text-anchor="end" fill="#262626" font-weight="normal" font-style="normal">10</text>
<line x1="599.00" y1="544.50" x2="602.50" y2="544.50" stroke="#707070" stroke-width="0.8"/>
<text transform="translate(595.50,544.50) scale(0.95,1)" x="0" y="2.95" font-size="8.2" text-anchor="end" fill="#262626" font-weight="normal" font-style="normal">20</text>
<line x1="599.00" y1="512.30" x2="602.50" y2="512.30" stroke="#707070" stroke-width="0.8"/>
<text transform="translate(595.50,512.30) scale(0.95,1)" x="0" y="2.95" font-size="8.2" text-anchor="end" fill="#262626" font-weight="normal" font-style="normal">30</text>
<line x1="602.50" y1="608.90" x2="667.20" y2="608.90" stroke="#707070" stroke-width="0.8"/>
<line x1="622.00" y1="608.90" x2="622.00" y2="611.70" stroke="#707070" stroke-width="0.8"/>
<line x1="649.70" y1="608.90" x2="649.70" y2="611.70" stroke="#707070" stroke-width="0.8"/>
<line x1="622.00" y1="525.00" x2="649.70" y2="525.00" stroke="#888" stroke-width="0.9"/>
<polygon points="635.60,519.65 636.21,521.16 637.83,521.27 636.58,522.32 636.98,523.90 635.60,523.03 634.22,523.90 634.62,522.32 633.37,521.27 634.99,521.16" fill="#1a1a1a"/>
<line x1="613.00" y1="557.50" x2="631.00" y2="557.50" stroke="#777" stroke-width="0.9"/>
<line x1="622.00" y1="551.90" x2="622.00" y2="563.10" stroke="#777" stroke-width="0.7"/>
<line x1="618.40" y1="551.90" x2="625.60" y2="551.90" stroke="#777" stroke-width="0.8"/>
<line x1="618.40" y1="563.10" x2="625.60" y2="563.10" stroke="#777" stroke-width="0.8"/>
<circle cx="615.80" cy="536.90" r="3.1" fill="#000"/>
<circle cx="622.00" cy="542.50" r="3.1" fill="#000"/>
<circle cx="628.50" cy="540.50" r="3.1" fill="#000"/>
<circle cx="615.80" cy="546.20" r="3.1" fill="#000"/>
<circle cx="628.50" cy="547.60" r="3.1" fill="#000"/>
<circle cx="622.00" cy="552.40" r="3.1" fill="#000"/>
<circle cx="622.00" cy="560.90" r="3.1" fill="#000"/>
<circle cx="622.00" cy="576.40" r="3.1" fill="#000"/>
<circle cx="622.00" cy="582.60" r="3.1" fill="#000"/>
<circle cx="622.00" cy="590.50" r="3.1" fill="#000"/>
<line x1="641.20" y1="575.60" x2="658.20" y2="575.60" stroke="#777" stroke-width="0.9"/>
<line x1="649.70" y1="570.20" x2="649.70" y2="581.00" stroke="#777" stroke-width="0.7"/>
<line x1="646.10" y1="570.20" x2="653.30" y2="570.20" stroke="#777" stroke-width="0.8"/>
<line x1="646.10" y1="581.00" x2="653.30" y2="581.00" stroke="#777" stroke-width="0.8"/>
<circle cx="649.70" cy="546.20" r="3.1" fill="#0a2df2" stroke="#0b1a6e" stroke-width="0.75"/>
<circle cx="649.70" cy="557.20" r="3.1" fill="#0a2df2" stroke="#0b1a6e" stroke-width="0.75"/>
<circle cx="649.70" cy="565.70" r="3.1" fill="#0a2df2" stroke="#0b1a6e" stroke-width="0.75"/>
<circle cx="649.70" cy="579.20" r="3.1" fill="#0a2df2" stroke="#0b1a6e" stroke-width="0.75"/>
<circle cx="655.90" cy="576.40" r="3.1" fill="#0a2df2" stroke="#0b1a6e" stroke-width="0.75"/>
<circle cx="643.50" cy="581.50" r="3.1" fill="#0a2df2" stroke="#0b1a6e" stroke-width="0.75"/>
<circle cx="655.90" cy="584.30" r="3.1" fill="#0a2df2" stroke="#0b1a6e" stroke-width="0.75"/>
<circle cx="649.70" cy="587.70" r="3.1" fill="#0a2df2" stroke="#0b1a6e" stroke-width="0.75"/>
<circle cx="649.70" cy="597.00" r="3.1" fill="#0a2df2" stroke="#0b1a6e" stroke-width="0.75"/>
<line x1="640.70" y1="575.60" x2="658.20" y2="575.60" stroke="#777" stroke-width="0.8"/>
<text transform="translate(622.00,620.20) scale(1.02,1)" x="0" y="2.74" font-size="7.6" text-anchor="middle" fill="#262626" font-weight="normal" font-style="normal"><tspan font-style="italic">Pd1</tspan><tspan font-size="5.0" dy="-2.8" font-style="italic">fl/fl</tspan></text>
<text transform="translate(649.70,620.20) scale(1.02,1)" x="0" y="2.74" font-size="7.6" text-anchor="middle" fill="#262626" font-weight="normal" font-style="normal"><tspan font-style="italic">Pd1</tspan><tspan font-size="5.0" dy="-2.8" font-style="italic">fl/fl</tspan></text>
<text transform="translate(649.70,627.80) scale(1.02,1)" x="0" y="2.74" font-size="7.6" text-anchor="middle" fill="#262626" font-weight="normal" font-style="normal"><tspan font-style="italic">Foxp3</tspan><tspan font-size="4.4" dy="-2.6" font-style="italic">ERT2Cre</tspan></text>
<text transform="translate(576.90,560.90) rotate(-90) scale(1.03,1)" x="0" y="3.10" font-size="8.6" text-anchor="middle" fill="#262626" font-weight="normal" font-style="normal">Percentage of CD11c<tspan font-size="5" dy="-2.8">+</tspan></text>
</svg>
</body></html>
